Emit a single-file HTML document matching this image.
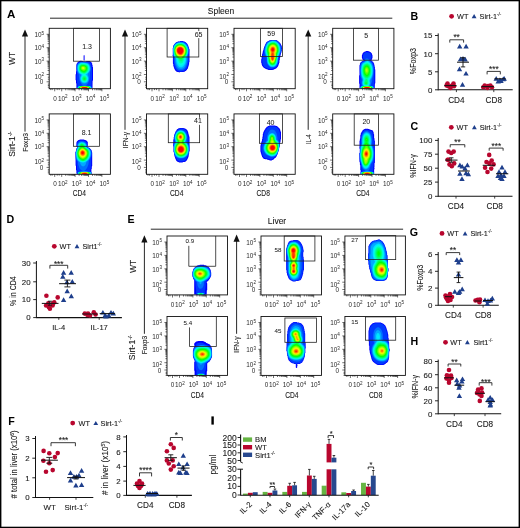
<!DOCTYPE html>
<html><head><meta charset="utf-8"><style>
html,body{margin:0;padding:0;background:#fff;}
svg{display:block;will-change:transform;}
text{font-family:"Liberation Sans",sans-serif;}
</style></head><body>
<svg width="520" height="528" viewBox="0 0 520 528">
<rect x="0" y="0" width="520" height="528" fill="#fff"/>
<text x="7.00" y="18.30" font-size="11.6" text-anchor="start" font-weight="bold" fill="#000">A</text>
<text x="221.00" y="13.50" font-size="8.5" text-anchor="middle" font-weight="normal" fill="#1a1a1a" stroke="#1a1a1a" stroke-width="0.1">Spleen</text>
<line x1="50.00" y1="18.20" x2="392.30" y2="18.20" stroke="#111" stroke-width="0.9"/>
<g><path d="M84.1,60.9 84.0,60.4 83.6,60.0 83.6,55.6 84.0,55.2 84.1,54.7 84.2,55.2 84.6,55.6 84.6,60.0 84.2,60.4 84.1,60.9ZM92.5,88.1 90.1,88.3 82.1,88.4 78.1,88.3 76.4,88.0 76.4,83.6 76.0,83.2 76.0,80.4 75.6,80.0 75.6,74.4 76.0,74.0 76.0,71.6 76.4,71.2 76.4,64.4 76.8,64.0 76.8,63.2 78.5,61.5 78.9,61.5 79.3,61.1 80.1,61.1 80.5,60.7 81.3,60.7 81.7,61.1 82.9,61.1 83.3,61.5 86.1,61.5 86.5,61.1 89.7,61.1 90.1,61.5 90.5,61.5 91.8,62.8 91.8,63.2 92.2,63.6 92.2,64.8 92.6,65.2 92.6,66.8 93.0,67.2 93.0,80.4 92.6,80.8 92.5,88.1Z" fill="#0000ff"/><path d="M91.7,88.1 89.3,88.3 82.9,88.4 78.5,88.3 77.0,88.0 77.0,87.2 77.4,86.4 77.4,83.6 77.0,82.4 76.9,80.0 76.6,79.2 76.6,75.2 76.9,74.4 77.0,73.2 76.6,72.0 76.7,71.2 76.5,68.8 76.6,66.0 76.7,64.8 77.2,63.6 78.9,62.2 80.9,61.4 82.5,61.5 83.3,61.7 86.1,61.9 86.9,61.7 88.9,62.1 90.1,62.6 90.7,63.2 91.1,64.0 91.3,65.2 91.6,66.0 91.7,67.2 92.0,68.0 92.0,79.6 91.6,80.8 91.6,86.4 92.0,87.2 92.0,88.0 91.7,88.1Z" fill="#0039ff"/><path d="M91.3,88.1 88.9,88.3 83.7,88.3 78.9,88.2 77.3,88.0 77.5,87.2 77.7,86.9 78.9,86.2 80.7,86.0 81.7,85.7 83.5,85.6 82.5,85.1 81.7,84.3 79.8,81.2 79.4,80.0 79.0,77.2 78.8,75.6 78.8,74.4 77.5,72.4 77.1,70.4 76.9,67.6 77.2,65.2 78.1,63.6 79.3,62.7 80.9,62.1 82.1,62.0 87.3,62.6 88.9,63.5 90.0,64.8 90.6,66.4 90.9,68.4 90.7,70.0 90.1,72.0 89.9,75.6 89.5,79.2 88.8,81.6 87.7,83.5 86.5,84.9 85.3,85.6 87.3,85.7 88.3,86.0 90.1,86.2 91.2,86.8 91.5,87.2 91.7,88.0 91.3,88.1Z" fill="#0071ff"/><path d="M85.7,83.3 84.5,83.5 82.9,83.2 81.7,82.5 80.9,81.6 80.2,80.0 80.0,78.4 80.2,77.2 81.0,75.2 81.0,74.8 79.7,74.0 78.5,72.8 78.1,72.0 77.6,70.4 77.4,67.6 77.7,65.2 78.5,64.0 79.6,63.2 80.9,62.6 82.1,62.5 84.5,62.7 87.3,63.2 88.1,63.6 89.0,64.4 90.0,66.4 90.3,68.4 90.0,70.4 89.3,72.0 88.0,73.6 87.9,74.0 87.8,75.2 88.5,76.8 88.8,78.0 88.6,80.0 88.1,81.2 87.6,82.0 86.7,82.8 85.7,83.3ZM91.3,88.0 89.3,88.2 84.5,88.3 79.7,88.2 77.6,88.0 77.8,87.2 78.1,86.8 79.3,86.3 84.5,85.9 89.7,86.3 90.9,86.8 91.2,87.2 91.3,88.0Z" fill="#00aaff"/><path d="M84.5,82.8 83.3,82.6 82.5,82.3 81.7,81.6 81.2,80.8 80.7,79.6 80.7,78.0 81.2,76.4 82.1,74.8 80.1,73.6 79.2,72.8 78.5,71.6 78.0,70.0 77.8,67.6 78.2,65.6 79.3,64.0 80.9,63.1 82.1,63.0 84.5,63.1 87.3,63.8 88.6,64.8 89.3,66.1 89.6,67.2 89.7,69.2 89.1,71.2 88.0,72.8 86.1,74.4 87.3,75.8 87.9,77.2 88.2,78.8 87.9,80.0 87.4,81.2 86.6,82.0 85.7,82.6 84.5,82.8ZM90.9,88.0 88.9,88.2 84.5,88.3 80.1,88.2 77.9,88.0 78.1,87.2 78.4,86.8 79.7,86.3 81.7,86.1 85.3,86.1 88.1,86.2 89.7,86.4 90.6,86.8 90.9,87.2 91.1,88.0 90.9,88.0Z" fill="#00e3ff"/><path d="M84.9,82.1 83.7,82.0 82.9,81.7 82.3,81.2 81.7,80.4 81.3,79.2 81.4,77.6 81.9,76.4 83.1,75.2 83.3,74.8 83.0,74.4 80.9,73.4 79.7,72.4 78.9,71.2 78.4,69.6 78.2,67.6 78.7,65.6 79.7,64.3 80.5,63.8 81.7,63.5 84.9,63.6 87.2,64.4 88.1,65.1 88.4,65.6 88.8,66.4 89.1,67.6 89.1,69.2 88.4,71.2 87.3,72.7 85.5,74.0 84.9,74.8 86.1,75.5 86.8,76.4 87.4,77.6 87.5,78.8 87.3,80.0 86.9,80.8 86.1,81.6 84.9,82.1ZM90.5,88.0 84.1,88.3 80.1,88.2 78.2,88.0 78.4,87.2 78.8,86.8 79.7,86.5 81.7,86.2 85.3,86.1 88.1,86.3 89.7,86.6 90.2,86.8 90.6,87.2 90.8,88.0 90.5,88.0Z" fill="#00ffe3"/><path d="M84.9,73.6 84.1,73.8 83.3,73.7 81.3,73.0 80.1,72.0 79.1,70.4 78.7,68.4 78.9,66.5 79.3,65.6 79.7,65.0 80.9,64.2 81.7,64.0 83.3,63.9 85.3,64.2 86.5,64.7 87.3,65.2 87.8,65.6 88.2,66.4 88.6,68.4 88.5,69.2 88.2,70.4 87.7,71.3 86.9,72.3 86.1,72.9 84.9,73.6ZM85.3,81.2 84.1,81.4 83.3,81.1 82.5,80.4 82.0,79.2 82.0,78.0 82.5,76.9 83.3,76.1 84.1,75.7 84.9,75.8 85.7,76.2 86.5,77.2 86.8,78.0 86.8,79.2 86.6,80.0 86.1,80.7 85.3,81.2ZM90.1,88.1 84.1,88.3 78.5,88.0 78.7,87.2 79.2,86.8 80.1,86.5 82.1,86.3 85.3,86.2 88.1,86.4 89.7,86.7 90.3,87.2 90.5,87.6 90.5,88.0 90.1,88.1Z" fill="#00ffaa"/><path d="M84.1,73.2 82.5,72.8 81.0,72.0 79.9,70.8 79.3,69.6 79.1,68.0 79.4,66.4 80.2,65.2 81.3,64.6 83.3,64.4 85.3,64.7 86.9,65.6 87.8,66.8 88.0,68.8 87.7,70.0 87.3,70.8 86.7,71.6 85.9,72.4 84.5,73.2 84.1,73.2ZM85.3,80.5 84.5,80.7 83.7,80.6 83.3,80.3 82.8,79.6 82.6,78.8 82.7,78.0 83.2,77.2 83.7,76.8 84.1,76.7 84.9,76.7 85.6,77.2 86.1,78.0 86.2,78.8 86.1,79.4 85.8,80.0 85.3,80.5ZM90.1,88.0 84.5,88.3 78.8,88.0 79.0,87.2 79.5,86.8 80.1,86.6 81.7,86.4 84.9,86.3 87.7,86.4 89.3,86.7 90.0,87.2 90.2,87.6 90.1,88.0Z" fill="#00ff71"/><path d="M84.5,72.5 83.3,72.4 81.7,71.8 80.9,71.2 80.0,70.0 79.6,68.8 79.7,67.2 80.2,66.0 81.1,65.2 82.5,64.9 84.5,65.0 86.1,65.7 87.1,66.8 87.5,68.4 87.1,70.0 86.1,71.4 84.5,72.5ZM84.5,80.0 83.7,79.8 83.3,79.2 83.3,78.8 83.7,77.9 84.5,77.6 85.2,78.0 85.5,78.8 85.3,79.6 84.5,80.0ZM89.7,88.0 84.5,88.3 79.1,88.0 79.3,87.2 80.1,86.7 82.1,86.4 84.9,86.4 87.3,86.5 89.1,86.8 89.7,87.2 89.9,88.0 89.7,88.0Z" fill="#00ff39"/><path d="M84.5,71.7 83.3,71.8 82.1,71.3 81.3,70.8 80.5,69.8 80.1,68.8 80.1,67.6 80.6,66.4 81.3,65.7 82.9,65.3 84.5,65.5 85.7,66.1 86.7,67.2 86.9,68.4 86.5,69.8 85.7,70.9 84.5,71.7ZM84.5,79.3 84.1,79.2 84.0,78.8 84.5,78.6 84.7,78.8 84.5,79.3ZM89.3,88.0 84.5,88.2 79.4,88.0 79.6,87.2 80.4,86.8 82.1,86.5 84.9,86.5 87.3,86.6 88.6,86.8 89.4,87.2 89.6,88.0 89.3,88.0Z" fill="#00ff00"/><path d="M84.5,71.0 83.7,71.1 82.5,70.8 81.7,70.3 80.9,69.4 80.6,68.4 80.6,67.6 81.0,66.8 81.7,66.1 82.9,65.8 84.1,65.9 85.2,66.4 86.0,67.2 86.2,68.0 86.1,69.2 85.3,70.4 84.5,71.0ZM88.9,88.0 84.5,88.2 79.7,88.0 79.9,87.2 80.8,86.8 82.5,86.6 84.9,86.6 87.3,86.7 88.5,86.9 89.1,87.2 89.3,87.6 89.3,88.0 88.9,88.0Z" fill="#39ff00"/><path d="M84.5,70.2 83.7,70.4 82.9,70.3 81.7,69.6 81.2,68.8 81.1,68.0 81.3,67.2 81.7,66.7 82.5,66.4 83.7,66.3 84.5,66.6 85.2,67.2 85.6,68.0 85.5,68.8 85.1,69.6 84.5,70.2ZM88.9,88.0 84.5,88.2 80.0,88.0 80.0,87.6 80.3,87.2 81.3,86.8 84.9,86.6 86.9,86.7 88.1,86.9 88.7,87.2 89.0,87.6 88.9,88.0Z" fill="#71ff00"/><path d="M83.7,69.6 82.5,69.4 81.9,68.8 81.7,68.0 82.1,67.1 82.9,66.8 83.7,66.9 84.3,67.2 84.7,67.6 84.8,68.0 84.8,68.8 84.5,69.2 83.7,69.6ZM88.5,88.0 84.5,88.2 80.3,88.0 80.3,87.6 80.6,87.2 81.3,86.9 82.5,86.8 84.9,86.7 86.9,86.8 88.1,87.1 88.7,87.6 88.7,88.0 88.5,88.0Z" fill="#aaff00"/><path d="M83.7,68.8 82.9,68.9 82.5,68.6 82.2,68.0 82.4,67.6 82.9,67.3 83.3,67.3 83.8,67.6 84.1,68.0 84.1,68.4 83.7,68.8ZM88.1,88.0 84.5,88.2 80.6,88.0 80.6,87.6 81.0,87.2 81.3,87.1 82.5,86.9 84.9,86.8 86.9,86.9 88.0,87.2 88.4,87.6 88.4,88.0 88.1,88.0Z" fill="#e3ff00"/><path d="M82.9,68.1 82.9,67.9 83.1,68.0 82.9,68.1ZM88.1,88.0 84.5,88.2 80.9,88.0 80.9,87.6 81.3,87.2 82.5,87.0 84.5,86.9 86.5,87.0 87.7,87.2 88.1,87.6 88.1,88.0Z" fill="#ffe300"/><path d="M87.7,88.0 84.5,88.2 81.2,88.0 81.2,87.6 81.8,87.2 84.5,87.0 87.2,87.2 87.8,87.6 87.8,88.0 87.7,88.0Z" fill="#ffaa00"/><path d="M87.3,88.0 84.5,88.1 81.5,88.0 81.5,87.6 82.2,87.2 84.9,87.1 86.9,87.2 87.5,87.6 87.5,88.0 87.3,88.0Z" fill="#ff7100"/><path d="M86.9,88.0 84.5,88.1 81.8,88.0 81.8,87.6 82.5,87.3 84.9,87.1 86.2,87.2 86.9,87.4 87.2,87.6 87.2,88.0 86.9,88.0Z" fill="#ff3900"/><path d="M86.9,88.0 84.5,88.1 82.1,88.0 82.1,87.6 82.5,87.4 84.5,87.2 86.5,87.4 86.9,87.6 86.9,88.0Z" fill="#ff0000"/></g>
<rect x="49.20" y="28.30" width="61.20" height="60.40" fill="none" stroke="#111" stroke-width="0.9"/>
<path d="M47.60,70.47H49.20M47.60,68.11H49.20M47.60,66.43H49.20M47.60,65.13H49.20M47.60,64.07H49.20M47.60,63.18H49.20M47.60,62.40H49.20M47.60,61.71H49.20M47.60,57.07H49.20M47.60,54.71H49.20M47.60,53.03H49.20M47.60,51.73H49.20M47.60,50.67H49.20M47.60,49.78H49.20M47.60,49.00H49.20M47.60,48.31H49.20M47.60,43.67H49.20M47.60,41.31H49.20M47.60,39.63H49.20M47.60,38.33H49.20M47.60,37.27H49.20M47.60,36.38H49.20M47.60,35.60H49.20M47.60,34.91H49.20M46.60,81.80H49.20M46.60,74.50H49.20M46.60,61.10H49.20M46.60,47.70H49.20M46.60,34.30H49.20M47.80,87.20H49.20M47.80,85.50H49.20M47.80,84.10H49.20M47.80,79.20H49.20M47.80,77.20H49.20M65.73,88.70V90.30M68.09,88.70V90.30M69.77,88.70V90.30M71.07,88.70V90.30M72.13,88.70V90.30M73.02,88.70V90.30M73.80,88.70V90.30M74.49,88.70V90.30M79.13,88.70V90.30M81.49,88.70V90.30M83.17,88.70V90.30M84.47,88.70V90.30M85.53,88.70V90.30M86.42,88.70V90.30M87.20,88.70V90.30M87.89,88.70V90.30M92.53,88.70V90.30M94.89,88.70V90.30M96.57,88.70V90.30M97.87,88.70V90.30M98.93,88.70V90.30M99.82,88.70V90.30M100.60,88.70V90.30M101.29,88.70V90.30M54.70,88.70V91.30M61.70,88.70V91.30M75.10,88.70V91.30M88.50,88.70V91.30M101.90,88.70V91.30M50.70,88.70V90.10M52.20,88.70V90.10M57.20,88.70V90.10M59.20,88.70V90.10" stroke="#111" stroke-width="0.6" fill="none"/>
<text x="44.20" y="37.00" font-size="6.4" text-anchor="end" font-weight="normal" fill="#2a2a2a">10<tspan dy="-2.43" font-size="4.61">5</tspan></text>
<text x="44.20" y="50.40" font-size="6.4" text-anchor="end" font-weight="normal" fill="#2a2a2a">10<tspan dy="-2.43" font-size="4.61">4</tspan></text>
<text x="44.20" y="63.80" font-size="6.4" text-anchor="end" font-weight="normal" fill="#2a2a2a">10<tspan dy="-2.43" font-size="4.61">3</tspan></text>
<text x="44.20" y="78.80" font-size="6.4" text-anchor="end" font-weight="normal" fill="#2a2a2a">10<tspan dy="-2.43" font-size="4.61">2</tspan></text>
<text x="43.40" y="84.40" font-size="6.4" text-anchor="end" font-weight="normal" fill="#2a2a2a">0</text>
<text x="55.10" y="100.70" font-size="6.4" text-anchor="middle" font-weight="normal" fill="#2a2a2a">0</text>
<text x="62.80" y="100.70" font-size="6.4" text-anchor="middle" font-weight="normal" fill="#2a2a2a">10<tspan dy="-2.43" font-size="4.61">2</tspan></text>
<text x="76.70" y="100.70" font-size="6.4" text-anchor="middle" font-weight="normal" fill="#2a2a2a">10<tspan dy="-2.43" font-size="4.61">3</tspan></text>
<text x="90.50" y="100.70" font-size="6.4" text-anchor="middle" font-weight="normal" fill="#2a2a2a">10<tspan dy="-2.43" font-size="4.61">4</tspan></text>
<text x="104.40" y="100.70" font-size="6.4" text-anchor="middle" font-weight="normal" fill="#2a2a2a">10<tspan dy="-2.43" font-size="4.61">5</tspan></text>
<rect x="73.50" y="28.30" width="25.90" height="32.90" fill="none" stroke="#222" stroke-width="0.8"/>
<text x="87.00" y="49.00" font-size="7" text-anchor="middle" font-weight="normal" fill="#1a1a1a" stroke="#1a1a1a" stroke-width="0.04">1.3</text>
<g><path d="M179.4,72.5 179.0,72.5 178.6,72.1 177.4,72.1 177.0,71.7 176.6,71.7 174.9,70.0 174.9,69.6 174.5,69.2 174.5,68.8 174.1,68.4 174.1,67.6 173.7,67.2 173.7,66.4 173.3,66.0 173.3,64.0 172.9,63.6 172.9,56.0 172.5,55.6 172.5,55.2 172.8,54.8 172.8,48.0 173.2,47.6 173.2,46.0 173.6,45.6 173.6,45.2 174.0,44.8 174.0,44.4 176.2,42.3 176.6,42.3 177.0,41.9 177.4,41.9 177.8,41.5 179.8,41.5 180.2,41.1 183.0,41.1 183.4,41.5 184.6,41.5 185.0,41.9 185.4,41.9 187.5,44.0 187.5,44.4 187.9,44.8 187.9,45.2 188.3,45.6 188.3,46.4 188.7,46.8 188.7,47.6 189.1,48.0 189.1,48.8 189.5,49.2 189.5,62.0 189.1,62.4 189.1,64.4 188.7,64.8 188.7,66.0 188.3,66.4 188.3,67.2 187.9,67.6 187.9,68.4 187.1,69.2 187.1,69.6 185.8,70.9 185.4,70.9 184.6,71.7 183.8,71.7 183.4,72.1 179.8,72.1 179.4,72.5Z" fill="#0000ff"/><path d="M183.0,71.2 181.8,71.4 179.4,71.4 178.2,71.1 177.0,70.6 176.0,69.6 175.2,68.0 174.3,65.6 174.1,64.0 173.7,62.8 173.5,57.2 172.8,55.2 173.0,54.8 172.9,48.0 173.3,47.6 173.3,46.0 173.7,45.6 173.8,45.2 174.2,44.8 174.2,44.4 176.2,42.6 178.2,41.8 179.8,41.7 180.6,41.5 182.6,41.6 184.2,42.1 185.4,42.8 186.8,44.0 187.6,45.2 188.5,47.2 189.2,49.6 189.1,52.0 188.6,54.4 188.7,61.2 187.7,65.6 186.8,68.0 186.0,69.2 184.2,70.7 183.0,71.2Z" fill="#0039ff"/><path d="M182.6,70.0 180.6,70.2 178.6,69.9 177.6,69.2 176.6,67.9 175.3,65.2 174.7,62.8 174.3,57.6 173.4,55.2 173.1,52.4 173.0,49.2 173.1,48.0 173.4,47.6 173.5,46.4 174.6,44.5 175.4,43.8 176.6,42.9 178.2,42.2 180.6,42.0 182.2,42.1 183.8,42.6 185.0,43.2 186.4,44.4 187.5,46.0 188.0,47.2 188.7,49.6 188.5,52.4 187.8,55.6 187.8,60.4 187.2,63.6 186.2,66.4 185.0,68.4 183.8,69.4 182.6,70.0Z" fill="#0071ff"/><path d="M181.8,68.8 180.2,68.8 178.6,68.3 177.6,67.2 176.6,65.5 175.6,62.4 175.2,58.0 174.4,56.8 173.7,55.2 173.3,50.8 173.3,48.4 173.7,47.6 173.8,46.4 175.0,44.6 176.6,43.3 177.4,43.0 178.6,42.6 181.0,42.4 182.2,42.5 183.8,43.0 184.8,43.6 186.2,44.8 187.0,46.0 187.5,47.2 188.3,50.0 187.9,53.6 186.9,56.4 186.8,60.4 186.3,63.2 185.7,64.8 184.6,66.9 183.8,67.8 183.0,68.4 181.8,68.8Z" fill="#00aaff"/><path d="M181.8,67.2 180.6,67.3 179.4,66.9 178.6,66.3 177.5,64.8 176.5,62.0 176.1,58.4 175.1,57.2 174.4,56.0 174.1,55.2 173.7,53.2 173.5,48.8 174.1,46.4 175.2,44.8 176.2,44.0 177.0,43.5 178.6,42.9 181.0,42.8 181.8,42.9 183.8,43.5 184.6,43.9 185.8,45.0 186.8,46.4 187.3,47.6 187.9,50.0 187.6,53.2 187.0,55.2 186.0,57.2 185.9,60.4 185.2,63.2 184.6,64.5 183.8,65.8 183.0,66.6 181.8,67.2Z" fill="#00e3ff"/><path d="M181.8,65.4 181.0,65.5 180.2,65.4 179.4,64.9 178.6,64.0 177.6,62.0 177.2,60.4 177.0,58.8 175.8,57.5 175.0,56.4 174.4,55.2 174.0,53.2 173.8,50.8 173.8,48.8 174.5,46.4 175.4,45.1 176.2,44.4 177.0,43.9 178.6,43.3 181.8,43.3 183.4,43.8 184.5,44.4 185.5,45.2 186.3,46.4 186.9,47.6 187.5,50.0 187.5,51.6 187.2,53.6 186.5,55.6 185.2,57.6 184.9,60.4 184.3,62.4 183.1,64.4 181.8,65.4Z" fill="#00ffe3"/><path d="M181.0,63.6 180.2,63.4 179.4,62.7 178.5,61.2 177.9,58.8 176.6,57.8 175.4,56.4 174.5,54.4 174.1,52.0 174.0,48.8 174.6,46.8 175.7,45.2 176.2,44.8 177.4,44.1 179.0,43.6 181.8,43.6 183.4,44.2 184.6,45.0 185.6,46.0 186.4,47.6 187.2,50.4 187.1,52.4 186.6,54.4 185.6,56.4 184.2,58.0 183.8,60.3 183.3,61.6 182.9,62.4 182.2,63.1 181.0,63.6Z" fill="#00ffaa"/><path d="M181.0,61.6 180.2,61.3 179.8,60.9 179.1,59.2 177.0,57.7 175.8,56.3 174.8,54.4 174.3,52.0 174.3,48.8 174.9,46.8 175.8,45.6 176.6,45.0 177.4,44.5 179.0,44.0 181.8,44.0 183.4,44.6 184.3,45.2 185.4,46.4 186.1,47.6 186.7,49.2 186.9,50.4 186.7,52.8 185.9,55.2 184.6,57.1 183.2,58.4 182.7,60.0 182.2,60.9 181.8,61.3 181.0,61.6Z" fill="#00ff71"/><path d="M181.0,59.7 177.8,57.8 176.3,56.4 175.2,54.4 174.6,52.0 174.6,48.8 175.3,46.8 176.2,45.7 176.9,45.2 177.8,44.7 179.0,44.4 181.8,44.4 183.4,45.0 184.2,45.6 185.0,46.4 185.8,47.8 186.3,49.2 186.6,50.4 186.5,52.0 186.3,53.2 185.2,55.6 183.8,57.4 181.9,58.8 181.4,59.5 181.0,59.7Z" fill="#00ff39"/><path d="M181.8,58.4 181.0,58.7 180.2,58.6 178.6,57.8 177.4,57.0 175.9,55.2 175.0,52.8 174.8,51.2 174.8,49.2 175.5,47.2 176.0,46.4 176.9,45.6 177.8,45.1 179.0,44.7 181.4,44.6 183.4,45.4 184.2,46.0 185.0,47.0 185.6,48.0 186.1,49.6 186.2,50.8 186.2,52.0 185.9,53.2 185.4,54.6 184.8,55.6 183.8,56.8 181.8,58.4Z" fill="#00ff00"/><path d="M181.4,58.2 181.0,58.3 179.8,58.0 178.6,57.4 177.4,56.5 176.0,54.8 175.5,53.6 175.2,52.4 175.0,50.9 175.0,49.6 175.2,48.8 175.9,47.2 177.0,45.9 177.8,45.4 179.0,45.0 181.4,45.0 183.4,45.8 184.2,46.5 185.0,47.6 185.5,48.8 185.8,50.0 185.9,51.2 185.8,52.4 185.0,54.6 184.4,55.6 183.4,56.7 181.4,58.2Z" fill="#39ff00"/><path d="M181.4,57.7 181.0,58.0 179.8,57.5 178.6,56.9 177.4,56.0 176.2,54.4 175.4,52.1 175.3,50.8 175.4,49.2 176.2,47.2 177.4,46.0 179.0,45.3 181.4,45.3 183.1,46.0 184.0,46.8 184.6,47.6 185.4,49.6 185.6,51.6 185.3,52.8 184.9,54.0 184.2,55.2 183.4,56.2 181.4,57.7Z" fill="#71ff00"/><path d="M181.4,57.2 181.0,57.4 180.2,57.2 179.0,56.7 177.8,55.8 177.0,55.0 176.4,54.0 175.7,52.0 175.6,49.6 176.3,47.6 177.4,46.4 179.0,45.7 180.2,45.6 181.4,45.7 183.0,46.3 184.2,47.6 185.1,49.6 185.2,51.6 184.6,53.7 183.4,55.6 181.4,57.2Z" fill="#aaff00"/><path d="M181.0,56.8 180.2,56.7 179.4,56.4 177.7,55.2 176.5,53.6 175.9,51.6 175.8,50.4 175.9,49.2 176.7,47.6 177.8,46.5 179.4,45.9 181.4,46.0 183.0,46.7 184.2,48.2 184.8,50.0 184.8,52.0 184.1,54.0 182.6,55.8 181.8,56.4 181.0,56.8Z" fill="#e3ff00"/><path d="M181.4,56.1 181.0,56.2 180.2,56.2 179.0,55.6 178.2,55.1 176.9,53.6 176.2,51.6 176.1,49.6 176.8,48.0 177.8,46.9 179.4,46.2 181.4,46.4 182.6,46.9 183.8,48.2 184.5,50.0 184.5,51.6 183.8,53.6 182.6,55.2 181.4,56.1Z" fill="#ffe300"/><path d="M181.0,55.6 179.8,55.5 178.2,54.5 177.1,53.2 176.5,51.6 176.4,49.6 177.0,48.3 177.9,47.2 179.4,46.6 181.0,46.6 182.4,47.2 183.5,48.4 184.1,50.0 184.1,51.6 183.4,53.6 182.2,55.0 181.0,55.6Z" fill="#ffaa00"/><path d="M181.4,54.9 180.2,55.1 179.0,54.6 177.8,53.6 176.9,52.0 176.7,50.4 176.9,49.2 177.8,47.7 179.0,47.0 180.2,46.9 181.8,47.2 183.0,48.3 183.7,49.6 183.8,51.2 183.4,52.7 182.6,54.0 181.4,54.9Z" fill="#ff7100"/><path d="M181.0,54.5 179.8,54.4 178.6,53.8 177.7,52.8 177.0,51.2 177.0,50.0 177.4,48.8 178.2,47.8 179.4,47.3 180.6,47.2 181.8,47.6 182.9,48.8 183.4,50.0 183.4,51.2 183.0,52.6 182.2,53.7 181.0,54.5Z" fill="#ff3900"/><path d="M181.4,53.7 180.6,54.0 179.4,53.7 178.2,52.8 177.5,51.6 177.3,50.4 177.4,49.5 178.1,48.4 179.0,47.7 180.2,47.5 181.4,47.8 182.2,48.4 182.9,49.6 183.1,50.8 182.8,52.0 182.2,53.0 181.4,53.7Z" fill="#ff0000"/></g>
<rect x="146.50" y="28.30" width="61.20" height="60.40" fill="none" stroke="#111" stroke-width="0.9"/>
<path d="M144.90,70.47H146.50M144.90,68.11H146.50M144.90,66.43H146.50M144.90,65.13H146.50M144.90,64.07H146.50M144.90,63.18H146.50M144.90,62.40H146.50M144.90,61.71H146.50M144.90,57.07H146.50M144.90,54.71H146.50M144.90,53.03H146.50M144.90,51.73H146.50M144.90,50.67H146.50M144.90,49.78H146.50M144.90,49.00H146.50M144.90,48.31H146.50M144.90,43.67H146.50M144.90,41.31H146.50M144.90,39.63H146.50M144.90,38.33H146.50M144.90,37.27H146.50M144.90,36.38H146.50M144.90,35.60H146.50M144.90,34.91H146.50M143.90,81.80H146.50M143.90,74.50H146.50M143.90,61.10H146.50M143.90,47.70H146.50M143.90,34.30H146.50M145.10,87.20H146.50M145.10,85.50H146.50M145.10,84.10H146.50M145.10,79.20H146.50M145.10,77.20H146.50M163.03,88.70V90.30M165.39,88.70V90.30M167.07,88.70V90.30M168.37,88.70V90.30M169.43,88.70V90.30M170.32,88.70V90.30M171.10,88.70V90.30M171.79,88.70V90.30M176.43,88.70V90.30M178.79,88.70V90.30M180.47,88.70V90.30M181.77,88.70V90.30M182.83,88.70V90.30M183.72,88.70V90.30M184.50,88.70V90.30M185.19,88.70V90.30M189.83,88.70V90.30M192.19,88.70V90.30M193.87,88.70V90.30M195.17,88.70V90.30M196.23,88.70V90.30M197.12,88.70V90.30M197.90,88.70V90.30M198.59,88.70V90.30M152.00,88.70V91.30M159.00,88.70V91.30M172.40,88.70V91.30M185.80,88.70V91.30M199.20,88.70V91.30M148.00,88.70V90.10M149.50,88.70V90.10M154.50,88.70V90.10M156.50,88.70V90.10" stroke="#111" stroke-width="0.6" fill="none"/>
<text x="141.50" y="37.00" font-size="6.4" text-anchor="end" font-weight="normal" fill="#2a2a2a">10<tspan dy="-2.43" font-size="4.61">5</tspan></text>
<text x="141.50" y="50.40" font-size="6.4" text-anchor="end" font-weight="normal" fill="#2a2a2a">10<tspan dy="-2.43" font-size="4.61">4</tspan></text>
<text x="141.50" y="63.80" font-size="6.4" text-anchor="end" font-weight="normal" fill="#2a2a2a">10<tspan dy="-2.43" font-size="4.61">3</tspan></text>
<text x="141.50" y="78.80" font-size="6.4" text-anchor="end" font-weight="normal" fill="#2a2a2a">10<tspan dy="-2.43" font-size="4.61">2</tspan></text>
<text x="140.70" y="84.40" font-size="6.4" text-anchor="end" font-weight="normal" fill="#2a2a2a">0</text>
<text x="152.40" y="100.70" font-size="6.4" text-anchor="middle" font-weight="normal" fill="#2a2a2a">0</text>
<text x="160.10" y="100.70" font-size="6.4" text-anchor="middle" font-weight="normal" fill="#2a2a2a">10<tspan dy="-2.43" font-size="4.61">2</tspan></text>
<text x="174.00" y="100.70" font-size="6.4" text-anchor="middle" font-weight="normal" fill="#2a2a2a">10<tspan dy="-2.43" font-size="4.61">3</tspan></text>
<text x="187.80" y="100.70" font-size="6.4" text-anchor="middle" font-weight="normal" fill="#2a2a2a">10<tspan dy="-2.43" font-size="4.61">4</tspan></text>
<text x="201.70" y="100.70" font-size="6.4" text-anchor="middle" font-weight="normal" fill="#2a2a2a">10<tspan dy="-2.43" font-size="4.61">5</tspan></text>
<rect x="167.10" y="28.30" width="31.70" height="28.70" fill="none" stroke="#222" stroke-width="0.8"/>
<rect x="194.10" y="31.10" width="9" height="7" fill="#fff"/>
<text x="198.60" y="36.60" font-size="7" text-anchor="middle" font-weight="normal" fill="#1a1a1a" stroke="#1a1a1a" stroke-width="0.04">65</text>
<g><path d="M272.5,70.1 268.5,70.1 268.1,69.7 267.7,69.7 267.3,69.3 266.5,69.3 266.1,68.9 265.7,68.9 265.3,68.5 264.9,68.5 264.5,68.1 264.1,68.1 262.8,66.8 262.8,66.4 262.0,65.6 262.0,64.8 261.6,64.4 261.6,63.2 261.2,62.8 261.2,59.2 261.6,58.8 261.6,56.4 262.0,56.0 262.0,54.4 262.4,54.0 262.4,52.8 262.8,52.4 262.8,51.2 263.2,50.8 263.2,50.0 263.6,49.6 263.6,48.4 264.0,48.0 264.0,47.2 264.4,46.8 264.4,46.4 264.8,46.0 264.8,45.2 265.2,44.8 265.2,44.4 265.6,44.0 265.6,43.6 266.0,43.2 266.0,42.8 267.3,41.5 267.7,41.5 268.1,41.1 268.5,41.1 268.9,40.7 269.3,40.7 269.7,40.3 270.9,40.2 271.3,39.9 276.1,39.9 276.5,40.3 276.9,40.3 277.3,40.7 277.7,40.7 278.9,41.9 279.3,41.9 279.4,42.4 280.6,43.6 280.6,44.0 281.0,44.4 281.0,44.8 281.4,45.2 281.4,45.6 281.8,46.0 281.8,47.6 282.2,48.0 282.2,48.8 281.8,49.2 281.8,51.2 281.4,51.6 281.4,52.8 281.0,53.2 281.0,54.0 280.6,54.4 280.6,55.6 280.2,56.0 280.2,57.6 279.8,58.0 279.8,60.0 279.4,60.4 279.4,62.8 279.0,63.2 279.0,64.0 278.6,64.4 278.6,65.2 278.2,65.6 278.2,66.0 277.8,66.4 277.8,66.8 276.1,68.5 275.7,68.5 275.3,68.9 274.9,68.9 274.5,69.3 274.1,69.3 273.7,69.7 272.9,69.7 272.5,70.1Z" fill="#0000ff"/><path d="M272.5,68.8 271.7,69.1 269.3,69.1 267.7,68.4 266.9,68.2 264.5,67.0 263.9,66.4 263.5,65.6 263.1,65.2 262.7,64.0 262.5,62.8 262.2,62.0 262.2,60.0 262.6,58.8 262.6,57.2 262.9,56.4 263.0,55.2 263.7,52.8 264.1,48.8 264.4,47.6 265.1,45.6 266.5,42.9 267.3,42.0 269.7,40.5 270.9,40.4 271.3,40.1 271.7,40.0 275.7,40.1 277.6,41.2 278.9,42.3 280.1,44.0 281.2,46.4 281.5,48.4 281.4,49.2 281.3,50.8 281.1,51.6 281.0,52.4 280.2,54.4 280.1,55.2 279.0,57.6 278.4,62.4 277.6,64.8 276.7,66.4 275.7,67.4 273.3,68.6 272.5,68.8Z" fill="#0039ff"/><path d="M272.9,67.6 271.3,67.6 270.1,67.1 268.8,66.0 267.9,64.8 267.1,63.2 266.7,61.6 266.6,57.6 265.1,54.4 264.5,52.0 264.7,49.2 265.0,47.6 265.6,45.6 266.8,43.2 267.7,42.3 269.3,41.3 270.1,40.9 272.1,40.4 275.3,40.6 277.3,41.6 278.6,42.8 279.5,44.0 280.6,46.4 280.9,48.4 280.8,50.4 280.4,52.4 279.6,54.8 278.2,58.0 278.0,62.0 277.1,64.4 276.1,65.9 275.3,66.7 274.1,67.3 272.9,67.6Z" fill="#0071ff"/><path d="M273.7,66.9 272.1,67.1 270.5,66.7 269.3,65.8 268.2,64.4 267.6,63.2 267.2,61.6 267.0,60.0 267.1,58.0 267.0,57.2 265.6,54.4 265.1,52.0 265.1,49.2 265.3,48.0 266.1,45.6 267.3,43.4 268.1,42.6 270.1,41.4 272.1,40.8 275.3,41.0 277.3,42.2 279.2,44.4 280.2,46.8 280.4,48.4 280.4,50.4 280.1,52.0 279.1,54.8 278.1,57.0 277.8,58.8 277.6,61.6 277.2,63.2 276.6,64.4 275.7,65.7 274.9,66.3 273.7,66.9Z" fill="#00aaff"/><path d="M273.7,66.4 272.5,66.6 270.9,66.4 269.7,65.6 268.4,64.0 267.9,62.8 267.5,61.2 267.5,58.4 267.2,56.8 266.0,54.0 265.5,51.2 265.6,49.2 265.8,48.0 266.4,46.0 267.7,43.6 268.1,43.1 269.7,42.1 270.5,41.7 272.1,41.3 273.7,41.3 275.3,41.5 276.9,42.4 278.0,43.6 278.9,44.8 279.7,46.8 280.0,48.4 279.9,50.4 279.6,52.0 278.0,56.4 277.5,58.8 277.2,61.6 276.9,62.8 276.3,64.0 275.5,65.2 274.6,66.0 273.7,66.4Z" fill="#00e3ff"/><path d="M273.3,66.0 271.7,66.1 270.5,65.6 269.3,64.5 268.5,63.3 267.9,61.2 267.8,58.8 267.4,56.0 266.4,53.6 266.0,51.2 266.0,49.6 266.2,48.0 266.9,46.0 267.9,44.0 268.9,43.1 270.5,42.1 272.5,41.6 274.9,41.9 276.0,42.4 276.9,43.1 278.1,44.4 278.8,45.6 279.3,47.0 279.5,48.4 279.5,50.0 279.2,52.0 278.4,54.4 277.7,55.8 277.1,59.2 276.9,61.6 276.5,62.8 275.9,64.0 274.9,65.2 274.1,65.7 273.3,66.0Z" fill="#00ffe3"/><path d="M272.9,65.6 271.7,65.6 270.5,65.1 269.4,64.0 268.7,62.8 268.3,61.2 268.2,58.8 267.7,55.6 266.7,53.2 266.4,51.2 266.4,49.6 266.7,48.0 267.3,46.0 268.2,44.4 268.9,43.6 270.1,42.8 272.5,42.1 274.9,42.3 276.5,43.3 277.7,44.6 278.3,45.6 278.9,47.2 279.1,48.4 279.1,50.0 278.9,51.6 278.4,53.2 277.5,55.2 276.7,59.6 276.5,61.6 276.2,62.4 275.7,63.6 274.9,64.6 274.1,65.2 272.9,65.6Z" fill="#00ffaa"/><path d="M273.7,64.9 272.5,65.2 271.3,65.0 270.1,64.1 269.2,62.8 268.6,61.2 268.5,59.2 268.1,57.2 267.8,54.8 267.1,52.8 266.8,51.2 266.8,49.6 267.1,48.0 267.6,46.4 268.4,44.8 268.9,44.2 270.2,43.2 270.9,42.9 272.5,42.5 273.7,42.5 274.9,42.8 276.2,43.6 277.0,44.4 277.8,45.6 278.4,47.2 278.7,48.4 278.7,50.0 278.5,51.6 278.1,52.8 277.3,54.8 277.0,56.8 276.4,59.6 276.1,61.6 275.2,63.6 274.5,64.4 273.7,64.9Z" fill="#00ff71"/><path d="M273.7,64.4 272.5,64.7 271.3,64.5 270.2,63.6 269.4,62.4 269.0,61.2 268.9,59.6 268.4,57.2 268.2,54.4 267.5,52.8 267.2,50.8 267.2,49.6 267.5,48.0 268.0,46.4 268.6,45.2 269.3,44.4 270.4,43.6 272.5,42.9 273.7,43.0 274.9,43.3 276.4,44.4 277.3,45.6 277.7,46.4 278.1,47.6 278.3,48.8 278.3,50.0 278.1,51.6 277.0,54.4 276.8,56.8 276.1,59.6 275.8,61.6 274.9,63.4 273.7,64.4Z" fill="#00ff39"/><path d="M273.3,64.1 272.1,64.2 271.3,63.9 270.4,63.2 269.7,62.0 268.6,57.2 268.5,54.0 267.8,52.0 267.6,50.0 267.8,48.4 268.1,47.2 268.6,46.0 269.3,45.0 270.9,43.8 272.9,43.4 274.1,43.5 274.9,43.8 275.7,44.4 276.5,45.2 277.6,47.2 277.9,49.6 277.6,51.6 276.7,54.0 276.4,57.2 275.6,60.0 275.4,61.6 274.5,63.2 273.3,64.1Z" fill="#00ff00"/><path d="M272.9,63.7 272.1,63.7 271.3,63.4 270.5,62.6 270.0,61.6 269.0,57.6 268.8,56.0 268.9,53.6 268.3,52.0 268.0,50.0 268.1,48.8 268.6,47.2 268.9,46.4 269.7,45.2 271.3,44.2 272.9,43.8 274.5,44.2 275.3,44.6 276.1,45.4 276.7,46.4 277.2,47.6 277.5,49.6 277.2,51.6 276.4,53.6 276.1,57.2 275.8,58.8 275.3,60.0 275.1,61.2 274.6,62.4 274.1,63.0 272.9,63.7Z" fill="#39ff00"/><path d="M272.9,63.2 272.1,63.2 271.3,62.8 270.6,62.0 270.2,61.2 270.0,60.0 269.3,57.6 269.1,55.6 269.2,53.2 268.6,51.6 268.4,50.0 268.7,48.0 269.2,46.8 269.7,45.9 270.1,45.5 271.0,44.8 272.1,44.4 272.9,44.3 274.5,44.7 275.3,45.3 276.0,46.0 276.8,47.6 277.1,49.6 276.9,51.2 276.0,53.6 276.0,56.0 275.5,58.8 274.4,62.0 273.7,62.8 272.9,63.2Z" fill="#71ff00"/><path d="M273.3,62.5 272.5,62.7 271.7,62.5 271.1,62.0 270.6,61.2 269.6,57.6 269.4,55.6 269.6,53.2 269.1,51.6 268.9,50.0 269.2,48.0 270.1,46.2 271.3,45.2 272.9,44.8 274.5,45.3 275.7,46.4 276.5,48.0 276.7,49.6 276.5,51.2 275.6,53.2 275.7,56.0 275.3,58.4 274.2,61.6 273.3,62.5Z" fill="#aaff00"/><path d="M272.9,62.2 272.1,62.2 271.3,61.6 270.2,58.8 269.8,56.0 270.0,52.8 269.4,51.2 269.3,50.0 269.6,48.0 270.5,46.4 271.7,45.6 272.9,45.3 274.1,45.6 275.3,46.6 276.0,48.0 276.2,49.6 276.0,51.2 275.3,52.8 275.4,56.0 275.0,58.4 274.0,61.2 273.3,62.0 272.9,62.2Z" fill="#e3ff00"/><path d="M272.9,61.7 272.1,61.6 271.7,61.3 270.5,58.8 270.1,56.0 270.4,52.4 269.9,51.2 269.7,50.0 269.9,48.4 270.5,47.2 270.9,46.7 271.7,46.1 272.9,45.9 274.1,46.2 274.9,46.9 275.5,48.0 275.8,49.6 275.6,51.2 274.9,52.8 275.0,56.0 274.7,58.4 273.7,60.8 273.3,61.4 272.9,61.7Z" fill="#ffe300"/><path d="M272.5,61.2 272.1,61.1 271.4,60.0 270.7,58.0 270.5,55.2 271.0,52.4 270.3,50.8 270.2,49.6 270.4,48.4 271.1,47.2 271.7,46.7 272.9,46.4 273.7,46.6 274.5,47.2 275.2,48.4 275.4,49.6 275.1,51.2 274.4,52.4 274.7,55.6 274.4,58.4 274.0,59.6 273.3,60.7 272.9,61.1 272.5,61.2Z" fill="#ffaa00"/><path d="M272.9,60.6 272.5,60.7 271.7,60.0 271.1,58.4 271.0,55.6 271.1,54.0 271.5,52.4 271.5,52.0 270.8,50.8 270.6,49.6 270.9,48.4 271.3,47.7 272.1,47.1 272.9,46.9 273.7,47.2 274.2,47.6 274.7,48.4 274.9,49.6 274.7,50.8 273.8,52.4 274.2,55.2 274.1,58.0 273.6,59.6 272.9,60.6Z" fill="#ff7100"/><path d="M273.3,51.7 272.5,51.9 271.9,51.6 271.3,50.8 271.1,50.0 271.1,49.2 271.4,48.4 272.1,47.7 272.5,47.5 273.3,47.6 273.7,47.8 274.2,48.4 274.5,49.2 274.5,50.0 274.2,50.8 273.7,51.5 273.3,51.7ZM272.9,60.2 272.5,60.3 271.9,59.6 271.7,58.8 271.5,57.2 271.7,54.4 272.1,53.1 272.5,52.6 272.9,52.7 273.3,53.5 273.6,55.6 273.5,58.4 273.2,59.6 272.9,60.2Z" fill="#ff3900"/><path d="M272.9,51.2 272.5,51.2 272.0,50.8 271.7,50.4 271.5,49.6 271.7,48.9 272.0,48.4 272.5,48.1 272.9,48.1 273.3,48.2 273.7,48.5 274.0,49.6 273.7,50.7 272.9,51.2ZM272.5,59.9 272.5,57.6 272.7,58.8 272.5,59.9Z" fill="#ff0000"/></g>
<rect x="234.00" y="28.30" width="61.20" height="60.40" fill="none" stroke="#111" stroke-width="0.9"/>
<path d="M232.40,70.47H234.00M232.40,68.11H234.00M232.40,66.43H234.00M232.40,65.13H234.00M232.40,64.07H234.00M232.40,63.18H234.00M232.40,62.40H234.00M232.40,61.71H234.00M232.40,57.07H234.00M232.40,54.71H234.00M232.40,53.03H234.00M232.40,51.73H234.00M232.40,50.67H234.00M232.40,49.78H234.00M232.40,49.00H234.00M232.40,48.31H234.00M232.40,43.67H234.00M232.40,41.31H234.00M232.40,39.63H234.00M232.40,38.33H234.00M232.40,37.27H234.00M232.40,36.38H234.00M232.40,35.60H234.00M232.40,34.91H234.00M231.40,81.80H234.00M231.40,74.50H234.00M231.40,61.10H234.00M231.40,47.70H234.00M231.40,34.30H234.00M232.60,87.20H234.00M232.60,85.50H234.00M232.60,84.10H234.00M232.60,79.20H234.00M232.60,77.20H234.00M250.53,88.70V90.30M252.89,88.70V90.30M254.57,88.70V90.30M255.87,88.70V90.30M256.93,88.70V90.30M257.82,88.70V90.30M258.60,88.70V90.30M259.29,88.70V90.30M263.93,88.70V90.30M266.29,88.70V90.30M267.97,88.70V90.30M269.27,88.70V90.30M270.33,88.70V90.30M271.22,88.70V90.30M272.00,88.70V90.30M272.69,88.70V90.30M277.33,88.70V90.30M279.69,88.70V90.30M281.37,88.70V90.30M282.67,88.70V90.30M283.73,88.70V90.30M284.62,88.70V90.30M285.40,88.70V90.30M286.09,88.70V90.30M239.50,88.70V91.30M246.50,88.70V91.30M259.90,88.70V91.30M273.30,88.70V91.30M286.70,88.70V91.30M235.50,88.70V90.10M237.00,88.70V90.10M242.00,88.70V90.10M244.00,88.70V90.10" stroke="#111" stroke-width="0.6" fill="none"/>
<text x="229.00" y="37.00" font-size="6.4" text-anchor="end" font-weight="normal" fill="#2a2a2a">10<tspan dy="-2.43" font-size="4.61">5</tspan></text>
<text x="229.00" y="50.40" font-size="6.4" text-anchor="end" font-weight="normal" fill="#2a2a2a">10<tspan dy="-2.43" font-size="4.61">4</tspan></text>
<text x="229.00" y="63.80" font-size="6.4" text-anchor="end" font-weight="normal" fill="#2a2a2a">10<tspan dy="-2.43" font-size="4.61">3</tspan></text>
<text x="229.00" y="78.80" font-size="6.4" text-anchor="end" font-weight="normal" fill="#2a2a2a">10<tspan dy="-2.43" font-size="4.61">2</tspan></text>
<text x="228.20" y="84.40" font-size="6.4" text-anchor="end" font-weight="normal" fill="#2a2a2a">0</text>
<text x="239.90" y="100.70" font-size="6.4" text-anchor="middle" font-weight="normal" fill="#2a2a2a">0</text>
<text x="247.60" y="100.70" font-size="6.4" text-anchor="middle" font-weight="normal" fill="#2a2a2a">10<tspan dy="-2.43" font-size="4.61">2</tspan></text>
<text x="261.50" y="100.70" font-size="6.4" text-anchor="middle" font-weight="normal" fill="#2a2a2a">10<tspan dy="-2.43" font-size="4.61">3</tspan></text>
<text x="275.30" y="100.70" font-size="6.4" text-anchor="middle" font-weight="normal" fill="#2a2a2a">10<tspan dy="-2.43" font-size="4.61">4</tspan></text>
<text x="289.20" y="100.70" font-size="6.4" text-anchor="middle" font-weight="normal" fill="#2a2a2a">10<tspan dy="-2.43" font-size="4.61">5</tspan></text>
<rect x="260.40" y="28.30" width="22.10" height="28.20" fill="none" stroke="#222" stroke-width="0.8"/>
<text x="271.20" y="36.30" font-size="7" text-anchor="middle" font-weight="normal" fill="#1a1a1a" stroke="#1a1a1a" stroke-width="0.04">59</text>
<g><path d="M374.8,88.1 372.4,88.3 364.8,88.4 360.8,88.3 359.5,88.0 359.5,84.0 359.1,83.6 359.1,75.6 359.5,75.2 359.5,65.2 359.9,64.8 359.9,63.6 360.3,63.2 360.3,62.8 361.1,62.0 361.6,61.5 362.0,61.5 362.4,61.1 363.6,61.1 363.9,60.8 362.3,59.2 362.3,58.4 361.9,58.0 361.9,55.2 362.3,54.8 362.3,54.0 362.7,53.6 362.7,53.2 363.6,52.3 364.0,52.3 364.8,51.5 365.6,51.5 366.0,51.1 368.4,51.1 368.8,51.5 369.6,51.5 370.0,51.9 370.4,51.9 371.7,53.2 371.7,53.6 372.1,54.0 372.1,54.8 372.5,55.2 372.5,58.0 372.1,58.4 372.1,59.2 371.7,59.6 371.7,60.0 371.3,60.4 372.4,61.5 372.8,61.5 373.3,62.0 373.3,62.4 373.7,62.8 373.7,63.2 374.1,63.6 374.1,64.4 374.5,64.8 374.5,66.4 374.9,66.8 374.9,69.2 375.3,69.6 375.3,83.2 374.9,83.6 374.8,88.1Z" fill="#0000ff"/><path d="M374.0,88.0 372.4,88.3 366.8,88.4 361.6,88.3 359.9,88.0 360.0,87.2 360.5,86.4 360.5,84.0 360.1,82.8 360.1,77.6 359.9,76.0 360.0,75.2 359.8,69.6 359.9,65.6 360.3,64.8 360.4,64.0 361.0,62.8 362.0,61.9 362.8,61.4 363.8,61.2 364.1,60.8 363.6,59.6 362.9,57.2 362.9,56.0 363.8,53.6 365.2,52.6 366.8,52.1 368.0,52.2 370.0,53.0 370.6,53.6 371.0,54.4 371.5,56.0 371.5,57.2 370.7,59.6 370.7,60.4 370.9,60.8 372.5,62.4 372.9,63.2 373.7,65.2 374.1,67.2 374.3,69.2 374.5,70.4 374.3,74.8 374.3,82.4 373.9,83.6 373.9,86.4 374.2,88.0 374.0,88.0Z" fill="#0039ff"/><path d="M373.6,88.1 371.6,88.3 366.8,88.3 362.0,88.3 360.2,88.0 360.3,87.2 360.6,86.8 361.6,86.2 362.3,86.0 361.8,84.8 361.5,82.8 361.9,80.0 360.7,76.4 360.3,70.8 360.5,66.0 361.0,64.4 361.6,63.2 362.8,62.1 364.0,61.7 364.4,61.4 364.8,60.8 365.2,59.2 365.7,58.8 366.4,58.6 367.6,58.5 368.4,58.9 369.2,59.6 370.2,61.2 372.0,63.2 373.0,65.6 373.5,67.6 373.7,70.4 373.5,73.6 373.1,76.0 372.4,78.4 372.0,81.6 370.6,85.6 370.7,86.0 372.4,86.2 373.2,86.6 373.7,87.2 373.8,88.0 373.6,88.1Z" fill="#0071ff"/><path d="M373.2,88.1 366.8,88.3 362.4,88.2 360.5,88.0 360.6,87.2 360.9,86.8 362.0,86.3 363.0,86.0 362.3,84.4 362.1,82.8 362.2,81.6 362.6,80.4 362.7,79.6 361.4,76.8 360.9,73.2 360.8,69.6 361.2,66.0 361.7,64.4 362.5,63.2 363.2,62.7 364.6,62.0 366.4,60.1 367.2,59.9 367.6,59.9 368.0,60.1 368.8,60.7 371.4,63.6 372.3,65.6 372.8,67.6 373.1,70.8 372.8,74.4 371.9,77.6 371.2,79.1 370.3,80.4 370.2,80.8 370.5,82.4 370.4,83.6 370.1,84.8 369.5,86.0 371.6,86.2 372.8,86.6 373.4,87.2 373.5,88.0 373.2,88.1Z" fill="#00aaff"/><path d="M373.2,88.0 371.2,88.2 366.8,88.3 362.8,88.2 360.8,88.0 360.9,87.2 361.2,86.8 362.4,86.3 363.9,86.0 363.0,84.8 362.7,83.2 362.7,82.0 363.1,80.8 363.3,79.2 362.1,76.8 361.4,73.2 361.3,69.6 361.7,66.4 362.4,64.5 363.0,63.6 366.4,61.4 367.2,61.0 367.6,61.0 368.8,61.8 370.2,63.2 371.1,64.4 371.8,66.0 372.3,68.0 372.6,70.8 372.4,73.6 371.8,76.0 371.0,78.0 369.6,80.0 369.6,81.2 369.9,82.8 369.7,84.0 369.2,85.2 368.6,86.0 371.2,86.3 372.4,86.6 373.1,87.2 373.2,88.0Z" fill="#00e3ff"/><path d="M372.8,88.0 366.8,88.3 362.8,88.2 361.0,88.0 361.2,87.2 361.6,86.8 363.2,86.3 365.0,86.0 364.0,85.2 363.5,84.4 363.3,83.6 363.3,82.4 363.7,81.2 364.0,78.8 362.8,76.8 362.0,73.6 361.8,70.0 362.2,66.8 362.9,64.8 363.5,64.0 366.0,62.5 367.2,62.1 368.0,62.2 368.8,62.8 369.7,63.6 370.6,64.8 371.2,66.0 371.7,68.0 372.0,70.8 371.8,73.2 371.2,75.8 370.4,77.6 369.1,79.2 369.0,81.2 369.2,82.8 369.1,84.0 368.5,85.2 367.5,86.0 370.8,86.3 372.0,86.6 372.8,87.2 373.0,88.0 372.8,88.0Z" fill="#00ffe3"/><path d="M366.4,85.6 365.6,85.6 364.8,85.1 364.2,84.4 363.9,83.6 363.9,82.4 364.9,78.4 363.6,76.8 362.8,74.8 362.4,72.4 362.3,69.6 362.7,66.8 363.7,64.8 364.8,64.0 366.0,63.4 366.8,63.1 367.6,63.0 368.4,63.4 369.2,64.1 370.0,65.0 370.5,66.0 371.2,68.4 371.4,71.6 371.1,74.0 370.4,76.0 369.5,77.6 368.2,78.8 368.3,81.6 368.6,82.8 368.4,84.0 367.6,85.1 366.4,85.6ZM372.4,88.0 366.8,88.3 361.3,88.0 361.5,87.2 362.0,86.8 364.0,86.3 366.4,86.1 370.0,86.3 371.6,86.6 372.5,87.2 372.7,88.0 372.4,88.0Z" fill="#00ffaa"/><path d="M367.6,78.0 366.4,78.2 365.2,77.5 364.4,76.6 363.6,75.2 363.2,74.0 362.9,72.4 362.8,70.8 362.8,69.2 363.1,67.6 364.0,65.5 364.8,64.8 365.6,64.3 367.2,63.9 367.6,64.0 368.4,64.4 369.2,65.1 369.8,66.0 370.6,68.4 370.9,70.8 370.6,73.2 370.0,75.2 368.8,77.1 367.6,78.0ZM366.8,84.8 366.0,85.0 365.2,84.6 364.6,84.0 364.4,83.2 364.6,82.4 365.0,81.6 365.4,80.0 366.0,79.1 366.4,78.9 366.8,79.0 367.2,79.5 367.9,82.8 367.7,84.0 367.2,84.6 366.8,84.8ZM372.0,88.1 366.8,88.3 361.6,88.0 361.8,87.2 362.4,86.8 364.4,86.4 366.4,86.2 370.0,86.4 371.6,86.8 372.2,87.2 372.4,87.6 372.4,88.0 372.0,88.1Z" fill="#00ff71"/><path d="M367.6,77.0 367.2,77.2 366.4,77.1 365.6,76.7 364.8,75.8 364.2,74.8 363.7,73.6 363.3,71.2 363.4,68.8 364.0,66.8 364.5,66.0 365.2,65.4 366.0,65.0 366.8,64.8 368.0,65.1 369.2,66.4 370.0,68.3 370.2,70.0 370.2,72.0 369.6,74.4 368.7,76.0 367.6,77.0ZM366.8,84.0 366.0,84.3 365.6,84.1 365.2,83.7 365.1,82.8 365.6,82.2 366.4,82.0 366.9,82.4 367.2,83.2 366.8,84.0ZM372.0,88.0 366.8,88.3 361.9,88.0 362.1,87.2 362.7,86.8 364.4,86.5 366.8,86.4 369.6,86.5 371.2,86.8 371.9,87.2 372.1,87.6 372.1,88.0 372.0,88.0Z" fill="#00ff39"/><path d="M367.2,76.1 366.8,76.2 366.0,75.8 364.8,74.4 364.1,72.8 363.8,70.8 364.0,68.8 364.6,67.2 365.1,66.4 365.6,66.1 366.8,65.7 367.6,65.9 368.0,66.1 368.8,67.1 369.4,68.4 369.7,70.4 369.6,72.0 369.0,74.0 368.0,75.6 367.2,76.1ZM366.0,83.6 365.7,83.2 366.0,82.9 366.4,83.2 366.0,83.6ZM371.6,88.0 366.8,88.2 362.2,88.0 362.4,87.2 363.1,86.8 364.8,86.5 367.6,86.5 369.6,86.6 370.9,86.8 371.6,87.2 371.8,88.0 371.6,88.0Z" fill="#00ff00"/><path d="M367.2,75.1 366.8,75.1 366.4,74.9 365.2,73.6 364.7,72.4 364.4,70.8 364.5,69.2 365.1,67.6 366.0,66.8 366.8,66.7 367.6,66.9 368.4,67.8 368.8,68.8 369.1,70.4 369.0,71.6 368.6,73.2 368.0,74.3 367.2,75.1ZM371.2,88.0 366.8,88.2 362.4,88.0 362.7,87.2 363.5,86.8 365.2,86.6 367.6,86.6 369.6,86.7 370.8,86.9 371.3,87.2 371.5,87.6 371.6,88.0 371.2,88.0Z" fill="#39ff00"/><path d="M367.2,73.6 366.8,73.7 366.0,73.2 365.5,72.4 365.1,71.2 365.0,70.0 365.3,68.8 365.8,68.0 366.4,67.6 367.2,67.7 367.6,68.0 368.1,68.8 368.4,70.0 368.4,71.2 368.2,72.0 367.6,73.2 367.2,73.6ZM371.2,88.0 366.8,88.2 362.7,88.0 362.7,87.6 363.0,87.2 363.6,86.9 364.8,86.7 367.2,86.6 369.2,86.7 370.4,86.9 371.0,87.2 371.3,87.6 371.2,88.0Z" fill="#71ff00"/><path d="M366.8,72.2 366.4,72.1 366.0,71.6 365.6,70.4 365.7,69.6 366.0,69.0 366.4,68.6 366.8,68.6 367.2,68.8 367.5,69.2 367.7,70.4 367.5,71.6 367.2,72.0 366.8,72.2ZM370.8,88.0 366.8,88.2 363.0,88.0 363.0,87.6 363.3,87.2 364.0,86.9 367.2,86.7 369.2,86.8 370.4,87.1 370.7,87.2 371.0,87.6 371.0,88.0 370.8,88.0Z" fill="#aaff00"/><path d="M366.8,70.6 366.4,70.5 366.3,70.0 366.4,69.8 366.8,69.7 367.0,70.0 366.8,70.6ZM370.4,88.0 366.8,88.2 363.3,88.0 363.3,87.6 363.6,87.2 364.0,87.1 365.2,86.9 367.6,86.8 369.2,86.9 370.4,87.2 370.7,87.6 370.7,88.0 370.4,88.0Z" fill="#e3ff00"/><path d="M370.4,88.0 366.8,88.2 363.6,88.0 363.6,87.6 364.0,87.2 365.2,86.9 367.2,86.9 368.8,86.9 370.0,87.2 370.4,87.6 370.4,88.0Z" fill="#ffe300"/><path d="M370.0,88.0 366.8,88.2 363.9,88.0 363.9,87.6 364.4,87.2 367.2,87.0 369.6,87.2 370.1,87.6 370.1,88.0 370.0,88.0Z" fill="#ffaa00"/><path d="M369.6,88.0 366.8,88.1 364.1,88.0 364.2,87.6 364.8,87.2 367.2,87.1 369.2,87.2 369.8,87.6 369.9,88.0 369.6,88.0Z" fill="#ff7100"/><path d="M369.2,88.0 366.8,88.1 364.4,88.0 364.5,87.6 365.2,87.2 367.2,87.1 368.6,87.2 369.2,87.4 369.5,87.6 369.6,88.0 369.2,88.0Z" fill="#ff3900"/><path d="M369.2,88.0 366.8,88.1 364.7,88.0 364.8,87.6 365.2,87.4 367.2,87.2 368.8,87.4 369.2,87.6 369.3,88.0 369.2,88.0Z" fill="#ff0000"/></g>
<rect x="332.70" y="28.30" width="61.20" height="60.40" fill="none" stroke="#111" stroke-width="0.9"/>
<path d="M331.10,70.47H332.70M331.10,68.11H332.70M331.10,66.43H332.70M331.10,65.13H332.70M331.10,64.07H332.70M331.10,63.18H332.70M331.10,62.40H332.70M331.10,61.71H332.70M331.10,57.07H332.70M331.10,54.71H332.70M331.10,53.03H332.70M331.10,51.73H332.70M331.10,50.67H332.70M331.10,49.78H332.70M331.10,49.00H332.70M331.10,48.31H332.70M331.10,43.67H332.70M331.10,41.31H332.70M331.10,39.63H332.70M331.10,38.33H332.70M331.10,37.27H332.70M331.10,36.38H332.70M331.10,35.60H332.70M331.10,34.91H332.70M330.10,81.80H332.70M330.10,74.50H332.70M330.10,61.10H332.70M330.10,47.70H332.70M330.10,34.30H332.70M331.30,87.20H332.70M331.30,85.50H332.70M331.30,84.10H332.70M331.30,79.20H332.70M331.30,77.20H332.70M349.23,88.70V90.30M351.59,88.70V90.30M353.27,88.70V90.30M354.57,88.70V90.30M355.63,88.70V90.30M356.52,88.70V90.30M357.30,88.70V90.30M357.99,88.70V90.30M362.63,88.70V90.30M364.99,88.70V90.30M366.67,88.70V90.30M367.97,88.70V90.30M369.03,88.70V90.30M369.92,88.70V90.30M370.70,88.70V90.30M371.39,88.70V90.30M376.03,88.70V90.30M378.39,88.70V90.30M380.07,88.70V90.30M381.37,88.70V90.30M382.43,88.70V90.30M383.32,88.70V90.30M384.10,88.70V90.30M384.79,88.70V90.30M338.20,88.70V91.30M345.20,88.70V91.30M358.60,88.70V91.30M372.00,88.70V91.30M385.40,88.70V91.30M334.20,88.70V90.10M335.70,88.70V90.10M340.70,88.70V90.10M342.70,88.70V90.10" stroke="#111" stroke-width="0.6" fill="none"/>
<text x="327.70" y="37.00" font-size="6.4" text-anchor="end" font-weight="normal" fill="#2a2a2a">10<tspan dy="-2.43" font-size="4.61">5</tspan></text>
<text x="327.70" y="50.40" font-size="6.4" text-anchor="end" font-weight="normal" fill="#2a2a2a">10<tspan dy="-2.43" font-size="4.61">4</tspan></text>
<text x="327.70" y="63.80" font-size="6.4" text-anchor="end" font-weight="normal" fill="#2a2a2a">10<tspan dy="-2.43" font-size="4.61">3</tspan></text>
<text x="327.70" y="78.80" font-size="6.4" text-anchor="end" font-weight="normal" fill="#2a2a2a">10<tspan dy="-2.43" font-size="4.61">2</tspan></text>
<text x="326.90" y="84.40" font-size="6.4" text-anchor="end" font-weight="normal" fill="#2a2a2a">0</text>
<text x="338.60" y="100.70" font-size="6.4" text-anchor="middle" font-weight="normal" fill="#2a2a2a">0</text>
<text x="346.30" y="100.70" font-size="6.4" text-anchor="middle" font-weight="normal" fill="#2a2a2a">10<tspan dy="-2.43" font-size="4.61">2</tspan></text>
<text x="360.20" y="100.70" font-size="6.4" text-anchor="middle" font-weight="normal" fill="#2a2a2a">10<tspan dy="-2.43" font-size="4.61">3</tspan></text>
<text x="374.00" y="100.70" font-size="6.4" text-anchor="middle" font-weight="normal" fill="#2a2a2a">10<tspan dy="-2.43" font-size="4.61">4</tspan></text>
<text x="387.90" y="100.70" font-size="6.4" text-anchor="middle" font-weight="normal" fill="#2a2a2a">10<tspan dy="-2.43" font-size="4.61">5</tspan></text>
<rect x="353.50" y="28.30" width="25.00" height="31.90" fill="none" stroke="#222" stroke-width="0.8"/>
<text x="366.30" y="37.50" font-size="7" text-anchor="middle" font-weight="normal" fill="#1a1a1a" stroke="#1a1a1a" stroke-width="0.04">5</text>
<g><path d="M91.3,173.9 79.3,173.9 77.7,173.9 76.4,173.6 76.4,170.4 76.0,170.0 76.0,166.0 75.6,165.6 75.5,152.0 75.9,151.6 75.9,150.4 76.3,150.0 76.3,148.8 77.1,148.0 77.1,147.2 76.7,146.8 76.7,146.4 76.4,146.0 76.4,142.4 76.8,142.0 76.8,141.6 78.5,139.9 79.3,139.9 79.7,139.5 84.1,139.5 84.5,139.9 85.3,139.9 85.7,140.3 86.1,140.3 87.8,142.0 87.8,145.6 87.5,146.0 87.5,146.4 87.1,146.8 87.7,147.4 88.5,147.4 88.9,147.8 89.3,147.8 91.4,150.0 91.4,150.4 91.8,150.8 91.8,152.0 92.2,152.4 92.2,166.0 91.8,166.4 91.8,168.8 91.4,169.2 91.4,172.0 91.6,173.6 91.3,173.9Z" fill="#0000ff"/><path d="M91.3,173.8 88.1,173.9 81.3,173.9 78.1,173.8 77.0,173.6 77.1,172.8 77.4,172.0 77.4,170.4 77.0,169.2 77.0,166.0 76.6,164.8 76.4,160.8 75.9,159.2 75.7,157.8 75.6,152.0 76.0,151.6 76.0,150.4 76.4,150.0 76.4,148.8 77.2,148.0 77.2,147.2 76.9,146.8 76.9,146.4 76.6,146.0 77.2,142.8 77.7,142.0 78.9,140.9 79.7,140.8 80.5,140.4 83.3,140.5 85.7,141.4 86.7,142.4 86.9,143.6 87.3,144.3 87.6,145.2 87.6,145.6 87.3,146.0 87.3,146.4 87.0,146.8 87.7,147.5 88.5,147.6 88.9,148.0 89.3,148.0 91.1,150.0 91.5,151.2 91.6,152.0 91.9,153.2 91.7,155.6 91.2,158.0 91.2,165.2 90.9,166.0 90.8,168.0 90.4,169.2 90.4,171.6 90.7,172.0 91.3,172.2 91.5,173.6 91.3,173.8Z" fill="#0039ff"/><path d="M83.7,170.9 82.5,170.8 81.7,170.5 80.5,169.5 79.6,168.4 78.2,164.4 77.9,161.6 77.0,160.4 76.5,159.3 75.9,156.4 75.8,152.4 76.1,151.6 76.3,150.4 76.6,150.0 76.6,149.2 77.4,148.0 77.5,147.2 77.2,145.6 77.4,144.8 78.0,143.2 78.6,142.4 79.3,141.8 80.9,141.3 83.3,141.4 84.5,141.9 85.3,142.6 86.4,144.0 87.0,145.2 86.7,146.8 86.9,147.1 87.4,147.6 88.1,147.8 89.1,148.4 90.5,150.0 91.0,151.2 91.3,152.8 91.2,154.8 90.9,156.4 90.3,158.0 88.9,160.4 88.4,164.4 87.4,167.2 86.5,168.8 85.7,169.7 84.9,170.4 83.7,170.9ZM91.3,173.7 89.3,173.9 84.1,173.9 79.3,173.9 77.3,173.6 77.5,172.8 77.7,172.6 78.1,172.2 79.3,171.7 83.1,171.6 83.7,171.4 89.7,171.8 91.3,172.6 91.4,173.6 91.3,173.7Z" fill="#0071ff"/><path d="M84.1,166.1 83.3,166.4 82.5,166.2 81.3,165.4 80.4,164.0 80.0,162.4 78.4,161.2 77.3,159.9 76.7,158.4 76.3,156.4 76.0,152.4 76.4,151.6 76.4,150.8 76.8,150.0 76.9,149.2 77.7,148.0 77.8,146.8 77.8,145.2 78.3,144.0 79.3,142.8 79.8,142.4 80.9,142.0 82.9,142.1 84.1,142.6 85.5,143.6 86.3,144.8 86.5,146.0 86.4,146.8 86.6,147.2 87.3,147.9 88.1,148.1 88.9,148.7 90.2,150.4 90.6,151.6 90.9,153.2 90.5,156.0 89.5,158.4 88.5,160.0 86.4,162.0 85.6,164.4 84.9,165.5 84.1,166.1ZM91.3,173.6 89.3,173.8 84.5,173.9 79.7,173.8 77.6,173.6 77.8,172.8 78.1,172.5 79.7,171.9 84.9,171.7 89.3,171.9 90.9,172.5 91.3,173.1 91.3,173.6Z" fill="#00aaff"/><path d="M83.7,162.5 82.5,162.6 81.3,162.3 79.8,161.6 78.7,160.8 78.0,160.0 77.3,158.8 76.8,157.2 76.5,155.6 76.3,152.4 76.6,152.0 76.7,150.8 77.0,150.4 77.2,149.2 77.8,148.4 78.0,148.0 78.3,146.8 78.2,145.6 78.4,144.8 79.3,143.5 80.1,143.0 81.3,142.6 82.9,142.7 84.1,143.1 84.9,143.6 85.7,144.8 86.2,147.2 87.0,148.0 88.1,148.6 88.9,149.2 89.9,150.8 90.2,151.6 90.4,153.2 90.2,154.8 89.5,157.2 88.9,158.5 87.8,160.0 86.5,161.1 84.9,162.1 83.7,162.5ZM90.9,173.6 88.9,173.8 84.5,173.9 80.1,173.8 77.9,173.6 78.1,172.8 78.6,172.4 79.7,172.0 81.3,171.8 85.3,171.8 88.5,171.9 90.1,172.3 90.9,172.8 91.1,173.6 90.9,173.6Z" fill="#00e3ff"/><path d="M82.9,162.0 81.7,161.8 80.5,161.4 79.3,160.6 78.3,159.6 77.6,158.4 77.1,157.2 76.6,154.0 76.6,152.8 76.9,151.2 77.5,149.2 78.2,148.4 78.7,146.8 78.7,145.6 78.9,144.8 79.4,144.0 80.1,143.4 81.7,143.0 82.9,143.1 83.7,143.4 84.2,143.6 84.9,144.3 85.3,145.2 85.5,146.4 85.9,147.2 86.9,148.3 88.5,149.4 89.3,150.4 89.7,151.6 89.9,153.2 89.8,154.8 89.2,156.8 88.6,158.0 87.8,159.2 86.6,160.4 85.5,161.2 84.1,161.8 82.9,162.0ZM90.5,173.6 84.5,173.9 80.1,173.8 78.2,173.6 78.4,172.8 79.0,172.4 79.7,172.2 81.7,171.9 85.3,171.8 88.1,172.0 89.7,172.3 90.6,172.8 90.8,173.6 90.5,173.6Z" fill="#00ffe3"/><path d="M84.1,161.3 82.9,161.5 81.7,161.3 80.5,160.8 79.3,160.0 78.5,159.1 77.8,158.0 77.4,156.8 77.1,155.2 76.9,152.8 77.7,149.6 78.5,148.4 79.0,147.2 79.4,144.8 80.1,143.9 81.3,143.3 82.1,143.3 82.9,143.5 83.7,143.8 84.3,144.4 84.8,145.2 85.0,146.4 85.4,147.2 86.5,148.4 87.7,149.2 88.5,150.0 89.2,151.2 89.4,152.0 89.5,153.6 89.3,154.4 89.0,156.0 88.3,157.6 87.5,158.8 86.5,159.9 85.3,160.7 84.1,161.3ZM90.1,173.7 84.5,173.9 78.5,173.6 78.8,172.8 79.4,172.4 80.1,172.2 82.1,172.0 85.3,171.9 87.7,172.0 89.6,172.4 90.2,172.8 90.4,173.2 90.5,173.6 90.1,173.7Z" fill="#00ffaa"/><path d="M83.7,160.9 82.9,161.0 81.7,160.8 80.5,160.2 79.3,159.3 78.5,158.3 77.9,157.2 77.3,154.7 77.2,152.8 78.0,149.6 78.7,148.8 79.6,147.2 79.8,145.6 80.1,144.7 80.7,144.0 81.7,143.6 82.9,143.9 83.6,144.4 84.2,145.2 84.6,146.8 85.7,148.1 88.0,150.0 88.7,151.2 88.9,152.0 89.0,153.6 88.8,154.8 88.4,156.4 87.8,157.6 86.9,158.8 86.1,159.5 84.9,160.4 83.7,160.9ZM90.1,173.6 84.5,173.9 78.8,173.6 79.1,172.8 80.1,172.3 82.1,172.1 84.9,172.0 87.3,172.1 89.2,172.4 89.9,172.8 90.1,173.2 90.1,173.6Z" fill="#00ff71"/><path d="M83.3,160.4 82.5,160.4 81.3,160.0 80.1,159.3 79.3,158.6 78.6,157.6 78.1,156.6 77.5,154.0 77.5,152.8 77.8,151.2 78.3,150.0 80.1,147.2 80.8,144.8 81.0,144.4 81.7,143.9 82.7,144.4 83.1,144.8 84.3,147.2 87.7,150.3 88.5,152.0 88.6,153.6 88.4,154.8 88.1,156.0 87.5,157.2 86.6,158.4 85.7,159.2 84.5,160.0 83.3,160.4ZM89.7,173.6 84.5,173.9 79.1,173.6 79.2,173.2 79.4,172.8 80.2,172.4 82.1,172.1 84.9,172.1 87.3,172.2 88.8,172.4 89.6,172.8 89.8,173.2 89.9,173.6 89.7,173.6Z" fill="#00ff39"/><path d="M83.7,159.8 82.9,160.0 81.7,159.6 80.5,159.0 79.7,158.3 78.5,156.5 77.9,154.0 77.9,152.8 78.2,151.2 78.7,150.0 80.9,147.2 81.7,145.5 82.1,145.3 82.9,146.2 83.5,147.2 87.2,150.4 87.7,151.2 88.1,152.4 88.0,154.4 87.7,155.6 87.2,156.8 85.7,158.6 83.7,159.8ZM89.3,173.6 84.5,173.8 79.4,173.6 79.5,173.2 79.7,172.8 80.7,172.4 84.9,172.2 86.9,172.2 88.5,172.5 89.3,172.8 89.5,173.2 89.6,173.6 89.3,173.6Z" fill="#00ff00"/><path d="M83.3,159.3 82.5,159.3 81.3,158.8 79.7,157.6 78.7,156.0 78.2,154.0 78.1,153.2 78.4,151.6 79.1,150.0 80.5,148.3 82.1,147.3 83.7,148.0 85.4,149.2 87.0,150.8 87.4,151.6 87.6,152.4 87.7,153.6 87.5,154.8 86.6,156.8 85.0,158.4 83.3,159.3ZM88.9,173.6 84.5,173.8 79.7,173.6 79.8,173.2 80.1,172.8 80.9,172.5 82.5,172.3 84.9,172.3 87.3,172.4 88.5,172.6 88.9,172.8 89.2,173.2 89.3,173.6 88.9,173.6Z" fill="#39ff00"/><path d="M83.7,158.5 82.9,158.7 82.1,158.5 80.5,157.7 79.3,156.2 78.8,155.2 78.6,154.0 78.5,153.2 78.8,151.6 79.3,150.4 80.9,148.6 82.1,148.0 83.3,148.3 84.9,149.3 86.4,150.8 86.9,151.6 87.2,152.4 87.2,154.0 86.5,156.0 85.3,157.5 83.7,158.5ZM88.9,173.6 84.5,173.8 80.0,173.6 80.1,173.1 80.4,172.8 80.9,172.6 82.2,172.4 84.9,172.3 86.9,172.4 88.1,172.6 88.6,172.8 88.9,173.1 88.9,173.6Z" fill="#71ff00"/><path d="M82.9,158.0 82.1,157.9 81.3,157.6 80.1,156.6 79.3,155.2 78.9,153.6 79.1,151.6 79.7,150.4 80.9,149.2 82.1,148.6 83.3,148.8 84.9,149.8 86.2,151.2 86.6,152.0 86.8,152.8 86.7,154.0 86.5,154.8 85.7,156.3 84.3,157.6 82.9,158.0ZM88.5,173.6 84.5,173.8 80.3,173.6 80.5,173.1 81.3,172.6 82.5,172.5 84.9,172.4 86.9,172.5 88.1,172.8 88.6,173.2 88.7,173.6 88.5,173.6Z" fill="#aaff00"/><path d="M83.7,157.2 82.5,157.4 81.7,157.1 80.9,156.6 80.0,155.6 79.3,154.0 79.3,152.4 79.9,150.8 80.9,149.7 82.1,149.1 83.3,149.3 84.5,149.9 85.7,151.2 86.2,152.4 86.3,154.0 85.8,155.2 84.9,156.4 83.7,157.2ZM88.1,173.6 84.5,173.8 80.6,173.6 80.7,173.2 81.3,172.8 82.5,172.6 84.9,172.5 86.5,172.6 87.8,172.8 88.3,173.2 88.4,173.6 88.1,173.6Z" fill="#e3ff00"/><path d="M83.7,156.5 82.5,156.7 81.3,156.2 80.3,155.2 79.8,154.0 79.7,152.4 80.1,151.2 80.9,150.2 82.1,149.6 83.3,149.7 84.4,150.4 85.2,151.2 85.7,152.4 85.8,153.6 85.5,154.8 84.5,156.0 83.7,156.5ZM88.1,173.6 84.5,173.8 80.9,173.6 81.0,173.2 81.6,172.8 84.5,172.6 87.4,172.8 88.0,173.2 88.1,173.6Z" fill="#ffe300"/><path d="M83.3,156.0 82.1,156.0 81.3,155.6 80.5,154.6 80.1,153.6 80.1,152.4 80.5,151.4 81.3,150.5 82.1,150.1 82.9,150.1 84.1,150.7 84.9,151.6 85.3,152.8 85.2,154.0 84.9,154.8 84.1,155.6 83.3,156.0ZM87.7,173.6 84.5,173.8 81.2,173.6 81.3,173.2 82.1,172.8 84.5,172.7 86.9,172.8 87.7,173.2 87.8,173.6 87.7,173.6Z" fill="#ffaa00"/><path d="M83.3,155.3 82.5,155.4 81.7,155.1 80.9,154.4 80.6,153.6 80.5,152.4 80.8,151.6 81.3,151.0 82.1,150.6 82.9,150.6 83.7,150.9 84.4,151.6 84.8,152.4 84.8,153.2 84.5,154.3 84.1,154.9 83.3,155.3ZM87.3,173.6 84.5,173.7 81.5,173.6 81.6,173.2 82.5,172.9 84.9,172.8 86.9,173.0 87.4,173.2 87.5,173.6 87.3,173.6Z" fill="#ff7100"/><path d="M83.7,154.4 83.3,154.6 82.5,154.8 81.7,154.4 81.3,154.0 81.0,153.2 81.0,152.4 81.3,151.7 81.7,151.3 82.5,151.0 82.9,151.0 83.7,151.5 84.1,152.0 84.3,153.2 84.1,153.9 83.7,154.4ZM86.9,173.6 84.5,173.7 81.8,173.6 81.9,173.2 82.5,173.0 84.9,172.8 86.9,173.1 87.1,173.2 87.2,173.6 86.9,173.6Z" fill="#ff3900"/><path d="M82.9,154.1 82.1,154.0 81.7,153.7 81.4,152.8 81.7,151.9 82.5,151.5 83.3,151.8 83.7,152.3 83.8,152.8 83.6,153.6 82.9,154.1ZM86.9,173.6 84.5,173.7 82.1,173.6 82.3,173.2 82.5,173.1 84.5,172.9 86.5,173.1 86.7,173.2 86.9,173.6Z" fill="#ff0000"/></g>
<rect x="49.20" y="113.90" width="61.20" height="60.40" fill="none" stroke="#111" stroke-width="0.9"/>
<path d="M47.60,156.07H49.20M47.60,153.71H49.20M47.60,152.03H49.20M47.60,150.73H49.20M47.60,149.67H49.20M47.60,148.78H49.20M47.60,148.00H49.20M47.60,147.31H49.20M47.60,142.67H49.20M47.60,140.31H49.20M47.60,138.63H49.20M47.60,137.33H49.20M47.60,136.27H49.20M47.60,135.38H49.20M47.60,134.60H49.20M47.60,133.91H49.20M47.60,129.27H49.20M47.60,126.91H49.20M47.60,125.23H49.20M47.60,123.93H49.20M47.60,122.87H49.20M47.60,121.98H49.20M47.60,121.20H49.20M47.60,120.51H49.20M46.60,167.40H49.20M46.60,160.10H49.20M46.60,146.70H49.20M46.60,133.30H49.20M46.60,119.90H49.20M47.80,172.80H49.20M47.80,171.10H49.20M47.80,169.70H49.20M47.80,164.80H49.20M47.80,162.80H49.20M65.73,174.30V175.90M68.09,174.30V175.90M69.77,174.30V175.90M71.07,174.30V175.90M72.13,174.30V175.90M73.02,174.30V175.90M73.80,174.30V175.90M74.49,174.30V175.90M79.13,174.30V175.90M81.49,174.30V175.90M83.17,174.30V175.90M84.47,174.30V175.90M85.53,174.30V175.90M86.42,174.30V175.90M87.20,174.30V175.90M87.89,174.30V175.90M92.53,174.30V175.90M94.89,174.30V175.90M96.57,174.30V175.90M97.87,174.30V175.90M98.93,174.30V175.90M99.82,174.30V175.90M100.60,174.30V175.90M101.29,174.30V175.90M54.70,174.30V176.90M61.70,174.30V176.90M75.10,174.30V176.90M88.50,174.30V176.90M101.90,174.30V176.90M50.70,174.30V175.70M52.20,174.30V175.70M57.20,174.30V175.70M59.20,174.30V175.70" stroke="#111" stroke-width="0.6" fill="none"/>
<text x="44.20" y="122.60" font-size="6.4" text-anchor="end" font-weight="normal" fill="#2a2a2a">10<tspan dy="-2.43" font-size="4.61">5</tspan></text>
<text x="44.20" y="136.00" font-size="6.4" text-anchor="end" font-weight="normal" fill="#2a2a2a">10<tspan dy="-2.43" font-size="4.61">4</tspan></text>
<text x="44.20" y="149.40" font-size="6.4" text-anchor="end" font-weight="normal" fill="#2a2a2a">10<tspan dy="-2.43" font-size="4.61">3</tspan></text>
<text x="44.20" y="164.40" font-size="6.4" text-anchor="end" font-weight="normal" fill="#2a2a2a">10<tspan dy="-2.43" font-size="4.61">2</tspan></text>
<text x="43.40" y="170.00" font-size="6.4" text-anchor="end" font-weight="normal" fill="#2a2a2a">0</text>
<text x="55.10" y="186.30" font-size="6.4" text-anchor="middle" font-weight="normal" fill="#2a2a2a">0</text>
<text x="62.80" y="186.30" font-size="6.4" text-anchor="middle" font-weight="normal" fill="#2a2a2a">10<tspan dy="-2.43" font-size="4.61">2</tspan></text>
<text x="76.70" y="186.30" font-size="6.4" text-anchor="middle" font-weight="normal" fill="#2a2a2a">10<tspan dy="-2.43" font-size="4.61">3</tspan></text>
<text x="90.50" y="186.30" font-size="6.4" text-anchor="middle" font-weight="normal" fill="#2a2a2a">10<tspan dy="-2.43" font-size="4.61">4</tspan></text>
<text x="104.40" y="186.30" font-size="6.4" text-anchor="middle" font-weight="normal" fill="#2a2a2a">10<tspan dy="-2.43" font-size="4.61">5</tspan></text>
<rect x="73.50" y="113.90" width="25.90" height="32.40" fill="none" stroke="#222" stroke-width="0.8"/>
<text x="86.50" y="135.20" font-size="7" text-anchor="middle" font-weight="normal" fill="#1a1a1a" stroke="#1a1a1a" stroke-width="0.04">8.1</text>
<g><path d="M182.6,162.5 179.0,162.5 178.6,162.1 178.2,162.1 177.8,161.7 177.4,161.7 176.1,160.4 176.1,160.0 175.7,159.6 175.7,159.2 175.3,158.8 175.3,158.0 174.9,157.6 174.9,156.8 174.5,156.4 174.4,154.8 174.0,154.4 174.0,152.4 173.6,152.0 173.6,146.4 173.2,146.0 173.3,139.6 173.7,139.2 173.7,137.2 174.1,136.8 174.1,135.6 174.4,135.2 174.5,134.0 174.9,133.6 174.9,133.2 175.3,132.8 175.3,132.0 175.7,131.6 175.7,131.2 176.5,130.4 176.5,130.0 177.4,129.1 177.8,129.1 178.6,128.3 179.4,128.3 179.8,127.9 183.4,127.9 183.8,128.3 184.6,128.3 185.0,128.7 185.8,128.7 187.5,130.4 187.5,130.8 187.9,131.2 187.9,132.0 188.3,132.4 188.3,133.6 188.7,134.0 188.7,135.2 189.1,135.6 189.1,136.4 189.5,136.8 189.6,151.2 189.2,151.6 189.1,154.0 188.7,154.4 188.7,156.4 188.3,156.8 188.3,157.6 187.9,158.0 187.9,158.4 187.5,158.8 187.5,159.2 187.1,159.6 187.1,160.0 185.4,161.7 185.0,161.7 184.6,162.1 183.0,162.1 182.6,162.5Z" fill="#0000ff"/><path d="M182.2,161.4 179.8,161.5 177.8,160.6 177.2,160.0 176.4,158.4 176.2,157.6 175.8,157.3 174.8,156.0 174.6,154.8 174.2,154.4 174.1,152.4 173.7,152.0 173.7,146.4 173.4,146.0 173.6,144.4 174.2,142.8 174.2,140.4 174.0,137.6 174.8,134.0 176.1,131.6 177.7,130.0 179.0,129.1 180.6,128.6 183.0,128.7 184.6,129.6 185.4,129.8 186.4,130.8 186.8,131.6 187.7,134.8 187.8,135.6 188.5,137.6 188.5,143.6 189.2,145.6 189.4,147.6 189.4,151.2 189.0,151.6 188.9,153.6 188.0,155.6 187.4,156.4 187.2,157.2 186.0,159.6 185.0,160.6 184.2,161.0 182.6,161.2 182.2,161.4Z" fill="#0039ff"/><path d="M181.8,158.5 180.2,158.5 178.6,158.2 177.4,157.7 176.2,156.9 175.4,156.0 174.5,154.0 174.3,152.4 174.0,152.0 173.9,151.2 174.0,146.4 173.8,145.6 174.4,143.6 175.4,142.0 174.8,140.4 174.4,138.0 174.7,136.0 175.0,135.2 175.1,134.4 176.1,132.4 176.8,131.6 177.7,130.8 179.4,130.1 180.6,129.9 182.6,130.2 184.2,131.0 185.5,132.4 186.2,133.6 186.8,135.2 187.0,136.8 187.1,138.0 186.7,140.0 186.8,142.0 188.5,145.2 188.9,146.8 189.0,148.8 189.0,150.8 188.7,151.6 188.5,153.2 187.4,155.6 186.1,156.8 184.6,157.7 183.4,158.2 181.8,158.5Z" fill="#0071ff"/><path d="M181.8,158.0 180.2,158.0 179.0,157.8 177.8,157.3 176.6,156.6 175.7,155.6 174.8,154.0 174.6,152.4 174.2,151.6 174.1,150.8 174.2,145.2 174.8,143.6 175.9,142.0 175.2,140.4 174.8,138.0 175.0,136.0 175.4,134.7 176.4,132.8 177.4,131.6 178.6,130.8 180.6,130.3 182.2,130.6 183.8,131.3 185.0,132.4 186.0,134.0 186.5,136.0 186.6,138.0 186.2,140.0 185.3,141.6 186.6,142.8 187.7,144.4 188.4,146.4 188.7,148.8 188.7,150.4 188.1,153.2 187.0,155.2 185.9,156.4 185.0,157.0 183.4,157.7 181.8,158.0Z" fill="#00aaff"/><path d="M181.8,157.6 180.2,157.6 179.0,157.4 177.4,156.6 176.2,155.6 175.0,153.6 174.7,152.0 174.5,151.6 174.4,150.8 174.4,148.4 174.6,145.2 175.3,143.6 176.2,142.4 176.3,141.6 175.6,140.4 175.1,138.0 175.3,136.4 175.7,134.8 176.8,132.8 177.5,132.0 178.6,131.2 179.8,130.8 180.6,130.8 182.2,131.0 183.5,131.6 184.6,132.5 185.5,134.0 186.2,136.0 186.3,138.0 185.9,139.6 185.0,141.7 185.1,142.0 186.6,143.5 187.4,144.8 188.1,146.8 188.3,148.8 188.3,150.4 187.7,153.2 186.5,155.2 185.4,156.2 184.2,156.9 183.0,157.4 181.8,157.6Z" fill="#00e3ff"/><path d="M181.8,157.2 180.6,157.3 179.0,156.9 177.8,156.4 176.8,155.6 175.4,153.6 174.7,151.2 174.6,150.4 174.6,148.0 175.0,145.2 175.5,144.0 176.5,142.8 176.6,142.4 176.6,141.6 175.9,140.0 175.5,138.0 175.6,136.4 176.0,134.8 177.2,132.8 177.8,132.2 179.0,131.5 180.6,131.1 182.2,131.4 183.4,132.0 184.3,132.8 185.3,134.4 185.9,136.4 185.9,138.0 185.5,139.6 184.6,141.2 184.7,142.0 186.2,143.6 187.2,145.2 187.8,147.2 188.0,149.2 188.0,150.4 187.4,152.8 186.2,154.8 185.4,155.6 184.2,156.4 183.0,156.9 181.8,157.2Z" fill="#00ffe3"/><path d="M181.8,156.8 180.6,156.9 179.4,156.6 178.2,156.2 177.0,155.3 175.8,153.6 174.9,151.2 174.9,150.4 174.9,148.0 175.4,145.2 175.8,144.3 176.9,142.8 177.0,141.2 176.2,139.7 175.8,138.0 175.9,136.4 176.3,134.8 177.8,132.7 179.0,131.9 180.2,131.5 181.8,131.7 183.0,132.2 184.2,133.2 185.0,134.6 185.5,136.4 185.5,138.0 185.1,139.6 184.2,141.2 184.4,142.4 185.8,143.8 186.7,145.2 187.3,146.8 187.7,148.8 187.6,150.4 187.1,152.4 186.8,153.2 186.0,154.4 185.3,155.2 184.2,156.0 183.0,156.5 181.8,156.8Z" fill="#00ffaa"/><path d="M181.8,156.4 180.6,156.4 179.4,156.2 178.2,155.7 177.4,155.2 175.9,153.2 175.2,151.2 175.1,150.0 175.2,147.6 175.8,145.2 176.2,144.4 177.3,143.2 177.3,142.8 177.4,141.2 176.7,140.0 176.2,138.4 176.2,136.6 176.5,135.2 177.0,134.2 178.2,132.8 179.4,132.1 180.6,131.9 181.8,132.1 183.2,132.8 184.0,133.6 184.7,134.8 185.1,136.4 185.2,138.0 184.7,139.6 183.8,141.2 184.0,142.4 184.1,142.8 185.4,143.9 186.3,145.2 187.0,146.8 187.3,148.8 187.3,150.0 186.8,152.0 186.6,152.8 185.8,154.0 185.1,154.8 184.2,155.5 183.0,156.1 181.8,156.4Z" fill="#00ff71"/><path d="M181.8,156.0 180.6,156.0 179.4,155.8 178.2,155.3 177.6,154.8 176.3,153.2 175.5,151.2 175.4,150.0 175.5,147.6 176.0,145.6 176.6,144.5 177.7,143.2 177.8,141.2 176.9,139.6 176.5,138.4 176.5,136.8 176.9,135.2 177.3,134.4 178.2,133.2 179.4,132.5 180.6,132.3 181.8,132.5 183.0,133.1 183.9,134.0 184.5,135.2 184.8,136.8 184.8,138.0 184.3,139.6 183.5,140.8 183.6,142.8 185.3,144.4 186.1,145.6 186.7,147.2 187.0,148.8 187.0,150.0 186.6,151.6 186.2,152.8 185.6,153.6 185.0,154.4 184.0,155.2 183.0,155.7 181.8,156.0Z" fill="#00ff39"/><path d="M181.4,155.6 180.2,155.6 179.0,155.2 178.2,154.8 177.4,154.1 176.7,153.2 175.8,151.2 175.6,149.6 175.8,147.6 176.4,145.6 176.8,144.8 178.1,143.6 178.2,143.2 178.2,140.8 177.4,139.8 176.8,138.4 176.8,136.8 177.1,135.6 177.6,134.4 178.6,133.4 179.4,132.9 180.6,132.7 181.8,132.9 183.0,133.6 183.7,134.4 184.2,135.5 184.5,136.8 184.4,138.0 183.9,139.6 182.9,140.8 183.2,142.8 183.2,143.2 184.8,144.4 185.8,145.8 186.5,147.6 186.7,149.2 186.7,150.0 186.1,152.0 185.2,153.6 184.2,154.6 183.4,155.1 181.4,155.6Z" fill="#00ff00"/><path d="M181.4,155.2 180.2,155.2 179.0,154.8 177.4,153.6 176.8,152.8 176.1,151.2 175.9,149.6 176.1,147.6 176.6,146.0 177.4,144.7 178.8,143.6 178.8,140.8 178.0,140.0 177.3,138.8 177.1,137.2 177.3,136.0 177.7,134.8 178.6,133.8 179.4,133.3 180.6,133.1 181.8,133.3 182.6,133.7 183.4,134.6 183.9,135.6 184.1,137.2 184.0,138.4 183.4,139.6 182.4,140.8 182.7,143.2 184.6,144.8 185.4,145.8 186.1,147.6 186.4,149.2 186.3,150.0 185.9,151.6 185.0,153.2 184.2,154.1 183.4,154.6 182.6,155.0 181.4,155.2Z" fill="#39ff00"/><path d="M181.4,154.8 180.2,154.8 179.4,154.5 178.6,154.1 177.5,153.2 176.4,151.2 176.2,149.6 176.4,147.6 177.0,146.0 177.9,144.8 179.4,143.6 179.5,140.8 178.2,139.6 177.7,138.8 177.4,137.2 177.6,136.0 177.9,135.2 178.6,134.3 179.4,133.7 180.6,133.4 181.4,133.5 182.3,134.0 183.0,134.7 183.5,135.6 183.8,137.2 183.6,138.4 183.0,139.5 181.8,140.8 182.1,143.2 182.2,143.6 183.8,144.6 185.0,145.9 185.8,147.6 186.0,149.2 186.0,150.0 185.7,151.2 184.9,152.8 183.4,154.2 182.6,154.5 181.4,154.8Z" fill="#71ff00"/><path d="M181.0,140.5 180.2,140.5 179.0,139.9 178.1,138.8 177.7,137.6 177.8,136.4 178.3,135.2 179.0,134.4 180.2,133.9 181.4,134.0 182.2,134.4 183.1,135.6 183.4,136.8 183.3,138.0 182.7,139.2 182.0,140.0 181.0,140.5ZM181.4,154.4 180.2,154.4 179.4,154.1 178.0,153.2 177.4,152.5 176.8,151.2 176.4,149.6 176.7,147.6 177.4,146.0 178.6,144.7 180.6,143.6 180.6,142.0 181.0,142.0 181.2,142.8 181.1,143.6 183.4,144.8 184.2,145.5 184.8,146.4 185.4,147.6 185.7,149.2 185.4,150.9 184.6,152.6 183.8,153.4 183.0,153.9 181.4,154.4Z" fill="#aaff00"/><path d="M181.4,139.8 180.6,140.0 179.4,139.6 178.5,138.8 178.1,137.6 178.1,136.4 178.6,135.3 179.4,134.6 180.2,134.3 181.0,134.3 181.8,134.6 182.6,135.5 183.0,136.4 183.0,137.6 182.7,138.4 182.2,139.2 181.4,139.8ZM181.4,154.0 179.8,153.8 179.0,153.5 178.2,152.9 177.5,152.0 177.0,151.0 176.7,149.6 177.0,147.6 177.9,146.0 178.6,145.3 179.4,144.7 181.0,144.2 182.6,144.8 184.1,146.0 185.0,147.6 185.3,149.2 185.1,150.8 184.3,152.4 183.0,153.5 181.4,154.0Z" fill="#e3ff00"/><path d="M181.4,139.3 180.6,139.5 179.8,139.3 179.0,138.8 178.5,138.0 178.4,137.2 178.6,136.0 179.0,135.3 179.8,134.8 180.6,134.6 181.4,134.8 181.9,135.2 182.5,136.0 182.6,136.8 182.5,138.0 182.0,138.8 181.4,139.3ZM181.4,153.6 179.8,153.4 178.6,152.8 177.4,151.2 177.1,149.6 177.4,147.6 178.2,146.2 179.4,145.2 180.2,144.9 181.0,144.7 181.8,144.9 182.6,145.3 183.8,146.3 184.6,147.6 185.0,149.2 184.7,150.8 184.1,152.0 183.0,153.0 181.4,153.6Z" fill="#ffe300"/><path d="M181.0,138.9 180.2,139.0 179.4,138.6 179.0,138.0 178.7,137.2 179.0,135.9 179.4,135.4 180.2,135.1 181.0,135.1 181.4,135.3 181.8,135.6 182.2,136.4 182.3,137.2 182.0,138.0 181.8,138.4 181.0,138.9ZM181.4,153.2 179.8,153.0 178.6,152.3 177.6,150.8 177.4,149.6 177.6,148.0 178.2,146.8 179.4,145.7 180.2,145.4 181.0,145.2 182.2,145.5 183.4,146.4 184.2,147.6 184.6,149.2 184.3,150.8 183.6,152.0 182.6,152.8 181.4,153.2Z" fill="#ffaa00"/><path d="M181.0,138.4 180.2,138.5 179.8,138.3 179.4,138.0 179.1,137.2 179.2,136.4 179.4,136.0 180.2,135.5 181.1,135.6 181.8,136.4 181.8,137.6 181.4,138.1 181.0,138.4ZM181.0,152.8 179.8,152.6 178.9,152.0 178.0,150.8 177.7,149.6 177.8,148.4 178.6,147.0 179.8,146.0 181.0,145.7 182.2,146.0 183.2,146.8 183.9,148.0 184.2,149.2 184.1,150.4 183.4,151.6 182.2,152.5 181.0,152.8Z" fill="#ff7100"/><path d="M181.0,137.8 180.2,138.0 179.7,137.6 179.4,136.8 179.8,136.1 180.6,135.8 181.0,136.0 181.3,136.4 181.4,137.2 181.0,137.8ZM181.0,152.4 179.8,152.2 179.0,151.6 178.2,150.4 178.1,149.6 178.2,148.4 178.9,147.2 179.8,146.5 181.0,146.2 181.9,146.4 183.0,147.2 183.5,148.0 183.8,149.2 183.7,150.4 183.0,151.5 182.2,152.1 181.0,152.4Z" fill="#ff3900"/><path d="M180.6,137.5 180.2,137.5 179.9,137.2 179.8,136.8 180.2,136.3 180.6,136.3 181.0,136.8 180.9,137.2 180.6,137.5ZM181.0,152.0 179.8,151.7 179.1,151.2 178.6,150.4 178.4,149.6 178.6,148.4 179.1,147.6 179.8,147.0 181.0,146.7 181.8,146.9 182.6,147.4 183.2,148.4 183.4,149.2 183.2,150.4 182.7,151.2 181.8,151.9 181.0,152.0Z" fill="#ff0000"/></g>
<rect x="146.50" y="113.90" width="61.20" height="60.40" fill="none" stroke="#111" stroke-width="0.9"/>
<path d="M144.90,156.07H146.50M144.90,153.71H146.50M144.90,152.03H146.50M144.90,150.73H146.50M144.90,149.67H146.50M144.90,148.78H146.50M144.90,148.00H146.50M144.90,147.31H146.50M144.90,142.67H146.50M144.90,140.31H146.50M144.90,138.63H146.50M144.90,137.33H146.50M144.90,136.27H146.50M144.90,135.38H146.50M144.90,134.60H146.50M144.90,133.91H146.50M144.90,129.27H146.50M144.90,126.91H146.50M144.90,125.23H146.50M144.90,123.93H146.50M144.90,122.87H146.50M144.90,121.98H146.50M144.90,121.20H146.50M144.90,120.51H146.50M143.90,167.40H146.50M143.90,160.10H146.50M143.90,146.70H146.50M143.90,133.30H146.50M143.90,119.90H146.50M145.10,172.80H146.50M145.10,171.10H146.50M145.10,169.70H146.50M145.10,164.80H146.50M145.10,162.80H146.50M163.03,174.30V175.90M165.39,174.30V175.90M167.07,174.30V175.90M168.37,174.30V175.90M169.43,174.30V175.90M170.32,174.30V175.90M171.10,174.30V175.90M171.79,174.30V175.90M176.43,174.30V175.90M178.79,174.30V175.90M180.47,174.30V175.90M181.77,174.30V175.90M182.83,174.30V175.90M183.72,174.30V175.90M184.50,174.30V175.90M185.19,174.30V175.90M189.83,174.30V175.90M192.19,174.30V175.90M193.87,174.30V175.90M195.17,174.30V175.90M196.23,174.30V175.90M197.12,174.30V175.90M197.90,174.30V175.90M198.59,174.30V175.90M152.00,174.30V176.90M159.00,174.30V176.90M172.40,174.30V176.90M185.80,174.30V176.90M199.20,174.30V176.90M148.00,174.30V175.70M149.50,174.30V175.70M154.50,174.30V175.70M156.50,174.30V175.70" stroke="#111" stroke-width="0.6" fill="none"/>
<text x="141.50" y="122.60" font-size="6.4" text-anchor="end" font-weight="normal" fill="#2a2a2a">10<tspan dy="-2.43" font-size="4.61">5</tspan></text>
<text x="141.50" y="136.00" font-size="6.4" text-anchor="end" font-weight="normal" fill="#2a2a2a">10<tspan dy="-2.43" font-size="4.61">4</tspan></text>
<text x="141.50" y="149.40" font-size="6.4" text-anchor="end" font-weight="normal" fill="#2a2a2a">10<tspan dy="-2.43" font-size="4.61">3</tspan></text>
<text x="141.50" y="164.40" font-size="6.4" text-anchor="end" font-weight="normal" fill="#2a2a2a">10<tspan dy="-2.43" font-size="4.61">2</tspan></text>
<text x="140.70" y="170.00" font-size="6.4" text-anchor="end" font-weight="normal" fill="#2a2a2a">0</text>
<text x="152.40" y="186.30" font-size="6.4" text-anchor="middle" font-weight="normal" fill="#2a2a2a">0</text>
<text x="160.10" y="186.30" font-size="6.4" text-anchor="middle" font-weight="normal" fill="#2a2a2a">10<tspan dy="-2.43" font-size="4.61">2</tspan></text>
<text x="174.00" y="186.30" font-size="6.4" text-anchor="middle" font-weight="normal" fill="#2a2a2a">10<tspan dy="-2.43" font-size="4.61">3</tspan></text>
<text x="187.80" y="186.30" font-size="6.4" text-anchor="middle" font-weight="normal" fill="#2a2a2a">10<tspan dy="-2.43" font-size="4.61">4</tspan></text>
<text x="201.70" y="186.30" font-size="6.4" text-anchor="middle" font-weight="normal" fill="#2a2a2a">10<tspan dy="-2.43" font-size="4.61">5</tspan></text>
<rect x="168.30" y="113.90" width="31.30" height="28.80" fill="none" stroke="#222" stroke-width="0.8"/>
<rect x="193.40" y="117.80" width="9" height="7" fill="#fff"/>
<text x="197.90" y="123.30" font-size="7" text-anchor="middle" font-weight="normal" fill="#1a1a1a" stroke="#1a1a1a" stroke-width="0.04">41</text>
<g><path d="M271.7,160.5 269.7,160.5 269.3,160.1 268.5,160.1 268.1,159.7 267.3,159.7 266.9,159.3 265.3,159.3 264.9,158.9 264.1,158.9 263.7,158.5 263.3,158.5 262.8,158.0 262.8,157.6 262.0,156.8 262.0,156.0 261.6,155.6 261.6,154.8 261.2,154.4 261.2,153.6 260.8,153.2 260.8,152.0 260.4,151.6 260.4,145.6 260.8,145.2 260.8,144.0 261.2,143.6 261.2,142.4 261.6,142.0 261.6,141.2 262.0,140.8 262.0,139.2 262.4,138.8 262.4,136.8 262.8,136.4 262.8,134.0 263.2,133.6 263.2,132.4 263.6,132.0 263.6,131.6 264.0,131.2 264.0,130.8 264.4,130.4 264.4,130.0 265.2,129.2 265.2,128.8 266.4,127.6 266.4,127.2 266.9,126.7 267.3,126.7 268.1,125.9 268.9,125.9 269.3,125.5 275.3,125.5 275.7,125.9 276.9,125.9 279.8,128.8 279.8,129.2 280.2,129.6 280.2,130.4 280.6,130.8 280.6,131.6 281.0,132.0 281.0,139.2 280.6,139.6 280.6,141.6 280.2,142.0 280.2,143.2 279.9,143.6 279.9,145.2 279.5,145.6 279.5,147.2 279.1,147.6 279.1,149.2 278.7,149.6 278.7,150.8 278.3,151.2 278.3,152.0 277.9,152.4 277.9,153.2 277.5,153.6 277.5,154.4 277.1,154.8 277.0,155.6 276.6,156.0 276.6,156.4 275.8,157.2 275.8,157.6 275.3,158.1 274.9,158.1 273.3,159.7 272.9,159.7 272.5,160.1 272.1,160.1 271.7,160.5Z" fill="#0000ff"/><path d="M271.3,159.4 270.5,159.5 267.3,158.4 266.1,158.3 264.5,157.8 264.1,157.6 263.1,156.4 261.4,150.8 261.4,146.4 261.7,145.6 262.3,142.8 262.9,141.2 263.0,140.0 263.4,138.8 263.4,137.6 263.8,136.4 263.8,134.8 264.1,134.0 264.2,133.2 265.5,130.4 267.3,128.0 268.5,127.0 270.1,126.5 274.5,126.5 275.3,126.8 276.5,127.0 278.7,129.2 279.9,132.4 280.0,132.8 280.0,138.4 279.6,139.6 279.6,141.2 280.0,143.2 279.7,143.6 279.8,145.2 279.4,145.6 279.4,147.2 279.0,147.6 279.0,149.2 278.6,149.6 278.6,150.8 278.2,151.2 278.2,152.0 277.8,152.4 277.8,153.2 277.4,153.6 277.3,154.4 276.9,154.8 276.8,155.2 276.1,156.1 275.0,156.8 274.9,157.1 274.1,157.6 272.9,158.7 271.3,159.4Z" fill="#0039ff"/><path d="M272.9,156.8 271.7,156.9 270.1,156.6 267.3,155.3 266.1,154.4 265.0,153.2 264.0,151.6 263.4,150.0 263.2,148.4 263.3,146.8 263.8,144.8 264.4,143.6 266.4,140.8 267.3,135.6 268.1,133.2 269.3,131.2 270.1,130.3 270.9,129.8 272.1,129.6 273.3,129.7 274.5,130.3 275.4,131.2 276.1,132.4 276.6,133.6 277.2,136.0 277.6,140.0 278.7,141.2 279.3,142.4 279.5,144.8 279.2,145.6 279.3,147.2 278.9,147.6 278.9,149.2 278.5,149.6 278.5,150.8 278.1,151.2 278.0,152.0 277.7,152.4 277.1,154.0 276.3,155.2 275.4,156.0 274.1,156.6 272.9,156.8Z" fill="#0071ff"/><path d="M274.1,156.1 272.1,156.4 270.5,156.2 268.9,155.6 266.9,154.4 265.7,153.3 264.8,152.0 264.1,150.4 263.7,148.8 263.8,146.8 264.6,144.4 266.1,142.1 267.9,140.4 267.9,137.6 268.4,135.6 268.9,134.8 269.7,133.9 270.5,133.4 271.7,133.0 272.9,133.1 273.7,133.5 274.5,134.0 275.3,135.0 275.8,136.0 276.2,137.2 276.3,139.6 277.7,140.8 278.6,142.0 278.9,142.8 279.2,144.8 279.0,145.6 279.1,146.8 278.7,147.6 278.7,148.8 278.3,149.6 278.3,150.4 277.3,152.8 276.7,154.0 275.7,155.2 274.9,155.8 274.1,156.1Z" fill="#00aaff"/><path d="M274.1,155.6 272.5,155.9 270.9,155.8 269.3,155.3 267.7,154.4 266.5,153.4 265.4,152.0 264.6,150.4 264.2,148.8 264.3,146.8 265.0,144.8 266.1,142.8 268.1,140.7 268.3,140.0 268.3,137.6 268.7,136.0 269.3,135.0 270.1,134.2 270.9,133.8 271.7,133.6 272.5,133.6 273.3,133.8 274.1,134.3 274.9,135.2 275.3,136.0 275.7,137.2 275.9,139.6 276.1,140.0 277.5,141.2 278.1,142.0 278.4,142.4 278.9,144.4 278.8,146.8 278.5,147.6 278.5,148.8 278.3,149.2 278.1,150.4 277.8,150.8 277.6,151.6 277.0,152.8 275.7,154.6 274.9,155.3 274.1,155.6Z" fill="#00e3ff"/><path d="M273.7,155.3 272.5,155.5 270.9,155.4 269.3,154.9 267.9,154.0 266.6,152.8 265.7,151.6 265.0,150.0 264.7,148.8 264.8,146.8 265.5,144.8 266.5,143.0 268.1,141.4 268.7,140.0 268.7,137.6 269.2,136.0 270.1,134.8 270.9,134.3 271.7,134.1 272.5,134.1 273.3,134.4 274.1,134.9 274.6,135.6 275.3,137.2 275.4,139.2 275.6,139.6 276.1,140.7 277.2,141.6 277.8,142.4 278.5,144.4 278.6,146.8 278.3,147.6 278.3,148.8 277.3,151.6 276.7,152.8 275.7,154.0 274.9,154.8 273.7,155.3Z" fill="#00ffe3"/><path d="M273.7,154.9 272.5,155.1 270.9,155.0 269.3,154.4 268.1,153.6 267.2,152.8 266.3,151.6 265.5,150.0 265.2,148.8 265.3,146.8 265.9,144.8 266.9,143.2 268.5,141.5 269.1,139.6 269.0,138.0 269.5,136.4 270.5,135.1 271.7,134.6 272.5,134.6 273.3,134.9 274.4,136.0 275.0,137.6 275.0,139.2 276.0,141.2 277.3,142.4 278.2,144.4 278.3,146.4 278.1,148.4 277.6,150.4 276.6,152.4 275.7,153.6 274.5,154.5 273.7,154.9Z" fill="#00ffaa"/><path d="M273.7,154.4 272.5,154.6 270.9,154.5 269.7,154.1 268.5,153.4 267.4,152.4 266.5,151.2 266.0,150.0 265.7,148.8 265.7,147.2 266.1,145.6 267.2,143.6 268.7,142.0 269.5,139.6 269.4,138.0 269.7,136.8 270.5,135.7 271.7,135.1 272.9,135.3 273.7,135.8 274.1,136.4 274.6,137.6 274.6,139.2 275.7,141.5 276.9,142.6 277.7,144.0 278.1,146.4 277.9,148.4 277.5,150.0 276.9,151.3 276.2,152.4 275.3,153.5 273.7,154.4Z" fill="#00ff71"/><path d="M273.3,154.1 272.1,154.2 270.9,154.1 269.7,153.6 268.5,152.9 267.6,152.0 266.8,150.8 266.3,149.6 266.1,148.4 266.2,146.8 266.7,145.2 267.7,143.6 268.9,142.4 269.8,139.6 269.8,138.0 270.1,137.0 270.9,136.0 271.7,135.6 272.9,135.8 273.8,136.8 274.2,137.6 274.3,139.2 275.3,141.6 276.5,142.8 277.3,144.0 277.8,146.4 277.6,148.4 277.2,150.0 276.6,151.2 275.8,152.4 275.0,153.2 274.1,153.8 273.3,154.1Z" fill="#00ff39"/><path d="M273.3,153.7 272.1,153.8 270.9,153.6 269.8,153.2 268.9,152.6 268.1,151.9 267.3,150.8 266.8,149.6 266.6,148.4 266.6,146.8 267.2,145.2 267.9,144.0 269.3,142.5 270.3,139.2 270.2,138.0 270.5,137.2 271.3,136.3 272.1,136.1 272.9,136.4 273.6,137.2 273.8,138.0 273.9,139.2 274.5,140.4 275.1,142.0 276.9,144.0 277.5,146.4 277.4,148.4 276.9,150.0 276.3,151.2 274.9,152.8 274.1,153.4 273.3,153.7Z" fill="#00ff00"/><path d="M273.3,153.2 272.5,153.4 271.3,153.3 270.1,152.9 269.3,152.4 268.4,151.6 267.7,150.6 267.2,149.6 267.0,148.4 267.0,147.2 267.5,145.6 268.2,144.4 269.7,142.8 270.1,140.9 270.7,139.2 270.6,138.4 270.8,137.6 271.3,136.9 272.1,136.6 272.9,137.0 273.3,137.6 273.5,139.2 274.1,140.4 274.8,142.4 276.4,144.0 276.9,145.1 277.2,146.4 277.1,148.4 276.6,150.0 276.1,151.0 274.9,152.4 274.1,152.9 273.3,153.2Z" fill="#39ff00"/><path d="M272.9,152.9 272.1,152.9 270.9,152.7 270.1,152.4 269.0,151.6 267.9,150.0 267.6,149.2 267.4,148.0 267.5,146.8 268.1,145.3 268.9,144.2 270.0,143.2 270.5,141.0 271.2,139.2 271.0,138.4 271.2,137.6 271.7,137.2 272.1,137.1 272.5,137.3 272.9,137.8 273.0,139.2 273.8,140.8 274.5,142.8 275.5,143.6 276.1,144.3 276.7,145.6 276.9,146.4 276.8,148.4 276.3,150.0 275.9,150.8 274.5,152.2 272.9,152.9Z" fill="#71ff00"/><path d="M272.9,152.4 272.1,152.5 270.9,152.3 269.3,151.3 268.6,150.4 268.2,149.6 267.8,148.0 268.0,146.8 268.4,145.6 269.0,144.8 270.3,143.6 270.5,143.2 271.0,141.2 271.8,139.2 271.4,138.4 271.5,138.0 271.7,137.8 272.1,137.6 272.5,138.0 272.6,138.4 272.3,139.2 273.3,140.9 274.1,143.2 274.9,143.6 275.7,144.4 276.5,146.0 276.6,146.8 276.5,148.4 276.2,149.6 275.7,150.5 274.5,151.8 272.9,152.4Z" fill="#aaff00"/><path d="M272.1,138.4 272.1,138.4ZM272.9,152.0 271.3,151.9 270.5,151.6 269.7,151.0 268.6,149.6 268.3,148.0 268.4,146.8 268.9,145.7 269.7,144.6 271.1,143.6 271.5,142.0 271.7,141.4 272.1,141.0 272.5,141.2 272.9,141.7 273.5,143.2 274.9,144.2 275.7,145.1 276.1,146.0 276.3,147.2 276.3,148.0 276.1,148.9 275.9,149.6 275.3,150.5 274.1,151.6 272.9,152.0Z" fill="#e3ff00"/><path d="M272.5,151.6 270.9,151.3 269.7,150.4 269.0,149.2 268.7,148.0 269.0,146.4 269.7,145.3 270.7,144.4 272.1,143.5 272.5,143.5 274.4,144.4 275.3,145.2 275.9,146.4 276.0,148.0 275.5,149.6 274.9,150.5 273.7,151.3 272.5,151.6Z" fill="#ffe300"/><path d="M273.7,150.9 272.5,151.2 271.7,151.1 270.9,150.8 269.9,150.0 269.3,148.8 269.2,147.2 269.7,146.0 270.9,144.8 272.1,144.3 273.3,144.4 274.5,145.0 275.3,146.0 275.6,146.8 275.7,148.0 275.3,149.3 274.5,150.4 273.7,150.9Z" fill="#ffaa00"/><path d="M273.7,150.5 272.5,150.8 271.3,150.5 270.5,149.9 269.8,148.8 269.6,147.6 270.0,146.4 270.6,145.6 271.7,144.9 272.5,144.7 273.7,145.0 274.5,145.6 275.2,146.8 275.4,148.0 275.2,148.8 274.5,149.9 273.7,150.5Z" fill="#ff7100"/><path d="M273.7,150.0 272.9,150.3 271.7,150.2 270.8,149.6 270.3,148.8 270.1,148.0 270.3,146.8 270.9,146.0 271.7,145.4 272.5,145.2 273.7,145.5 274.3,146.0 274.8,146.8 275.0,147.6 274.9,148.5 274.5,149.3 273.7,150.0Z" fill="#ff3900"/><path d="M273.3,149.8 272.5,149.9 271.7,149.7 271.1,149.2 270.6,148.4 270.6,147.6 270.9,146.8 271.3,146.3 272.1,145.8 272.9,145.8 273.7,146.1 274.1,146.4 274.6,147.2 274.6,148.0 274.4,148.8 274.1,149.2 273.3,149.8Z" fill="#ff0000"/></g>
<rect x="234.00" y="113.90" width="61.20" height="60.40" fill="none" stroke="#111" stroke-width="0.9"/>
<path d="M232.40,156.07H234.00M232.40,153.71H234.00M232.40,152.03H234.00M232.40,150.73H234.00M232.40,149.67H234.00M232.40,148.78H234.00M232.40,148.00H234.00M232.40,147.31H234.00M232.40,142.67H234.00M232.40,140.31H234.00M232.40,138.63H234.00M232.40,137.33H234.00M232.40,136.27H234.00M232.40,135.38H234.00M232.40,134.60H234.00M232.40,133.91H234.00M232.40,129.27H234.00M232.40,126.91H234.00M232.40,125.23H234.00M232.40,123.93H234.00M232.40,122.87H234.00M232.40,121.98H234.00M232.40,121.20H234.00M232.40,120.51H234.00M231.40,167.40H234.00M231.40,160.10H234.00M231.40,146.70H234.00M231.40,133.30H234.00M231.40,119.90H234.00M232.60,172.80H234.00M232.60,171.10H234.00M232.60,169.70H234.00M232.60,164.80H234.00M232.60,162.80H234.00M250.53,174.30V175.90M252.89,174.30V175.90M254.57,174.30V175.90M255.87,174.30V175.90M256.93,174.30V175.90M257.82,174.30V175.90M258.60,174.30V175.90M259.29,174.30V175.90M263.93,174.30V175.90M266.29,174.30V175.90M267.97,174.30V175.90M269.27,174.30V175.90M270.33,174.30V175.90M271.22,174.30V175.90M272.00,174.30V175.90M272.69,174.30V175.90M277.33,174.30V175.90M279.69,174.30V175.90M281.37,174.30V175.90M282.67,174.30V175.90M283.73,174.30V175.90M284.62,174.30V175.90M285.40,174.30V175.90M286.09,174.30V175.90M239.50,174.30V176.90M246.50,174.30V176.90M259.90,174.30V176.90M273.30,174.30V176.90M286.70,174.30V176.90M235.50,174.30V175.70M237.00,174.30V175.70M242.00,174.30V175.70M244.00,174.30V175.70" stroke="#111" stroke-width="0.6" fill="none"/>
<text x="229.00" y="122.60" font-size="6.4" text-anchor="end" font-weight="normal" fill="#2a2a2a">10<tspan dy="-2.43" font-size="4.61">5</tspan></text>
<text x="229.00" y="136.00" font-size="6.4" text-anchor="end" font-weight="normal" fill="#2a2a2a">10<tspan dy="-2.43" font-size="4.61">4</tspan></text>
<text x="229.00" y="149.40" font-size="6.4" text-anchor="end" font-weight="normal" fill="#2a2a2a">10<tspan dy="-2.43" font-size="4.61">3</tspan></text>
<text x="229.00" y="164.40" font-size="6.4" text-anchor="end" font-weight="normal" fill="#2a2a2a">10<tspan dy="-2.43" font-size="4.61">2</tspan></text>
<text x="228.20" y="170.00" font-size="6.4" text-anchor="end" font-weight="normal" fill="#2a2a2a">0</text>
<text x="239.90" y="186.30" font-size="6.4" text-anchor="middle" font-weight="normal" fill="#2a2a2a">0</text>
<text x="247.60" y="186.30" font-size="6.4" text-anchor="middle" font-weight="normal" fill="#2a2a2a">10<tspan dy="-2.43" font-size="4.61">2</tspan></text>
<text x="261.50" y="186.30" font-size="6.4" text-anchor="middle" font-weight="normal" fill="#2a2a2a">10<tspan dy="-2.43" font-size="4.61">3</tspan></text>
<text x="275.30" y="186.30" font-size="6.4" text-anchor="middle" font-weight="normal" fill="#2a2a2a">10<tspan dy="-2.43" font-size="4.61">4</tspan></text>
<text x="289.20" y="186.30" font-size="6.4" text-anchor="middle" font-weight="normal" fill="#2a2a2a">10<tspan dy="-2.43" font-size="4.61">5</tspan></text>
<rect x="259.40" y="113.90" width="23.10" height="29.40" fill="none" stroke="#222" stroke-width="0.8"/>
<text x="270.60" y="124.50" font-size="7" text-anchor="middle" font-weight="normal" fill="#1a1a1a" stroke="#1a1a1a" stroke-width="0.04">40</text>
<g><path d="M374.0,173.8 362.8,173.9 360.8,173.9 360.5,173.6 360.7,170.4 360.3,170.0 360.3,165.2 359.9,164.8 359.9,162.4 359.5,162.0 359.4,153.2 359.8,152.8 359.8,148.8 359.5,148.4 359.5,140.8 359.9,140.4 359.9,138.8 360.3,138.4 360.3,135.2 360.7,134.8 360.7,133.6 361.1,133.2 361.1,132.8 361.5,132.4 361.5,132.0 362.3,131.2 362.3,130.8 363.6,129.5 364.0,129.5 364.4,129.1 364.8,129.1 365.2,128.7 368.0,128.7 368.4,129.1 369.2,129.1 369.6,129.5 370.4,129.5 370.8,129.9 371.6,129.9 372.0,130.3 372.4,130.3 372.9,130.8 372.9,131.2 373.3,131.6 373.3,132.0 373.7,132.4 373.7,134.0 374.1,134.4 374.1,138.0 374.5,138.4 374.5,140.4 374.9,140.8 374.9,162.8 374.5,163.2 374.5,167.2 374.1,167.6 374.5,168.0 374.5,169.2 374.1,169.6 374.2,173.6 374.0,173.8Z" fill="#0000ff"/><path d="M374.0,173.7 371.6,173.9 365.2,174.0 361.2,173.8 360.8,173.8 360.6,173.6 360.8,172.2 361.3,172.0 361.7,171.6 361.7,170.4 361.3,169.2 361.2,167.2 360.5,163.2 360.3,162.4 359.9,161.6 359.8,160.8 359.6,159.0 359.5,153.2 359.9,152.8 360.0,148.8 359.7,148.4 359.7,148.0 360.3,144.4 360.7,139.2 360.9,138.4 361.1,136.0 361.7,134.0 362.1,133.2 363.4,131.2 364.0,130.6 366.0,129.7 367.2,129.7 371.6,131.2 372.0,131.6 372.6,132.8 372.8,134.4 373.1,135.2 373.1,138.0 373.5,139.2 373.6,140.8 373.9,141.6 373.9,147.2 374.3,150.4 374.5,153.2 374.4,156.4 374.0,160.0 373.9,162.0 373.5,163.2 373.5,166.4 373.1,167.6 373.4,168.4 373.1,169.6 373.1,171.6 373.2,172.0 373.6,172.1 374.0,172.6 374.1,173.6 374.0,173.7Z" fill="#0039ff"/><path d="M374.0,173.6 372.4,173.8 367.2,173.9 362.0,173.8 360.7,173.6 360.8,172.5 362.0,171.9 362.8,171.7 365.8,171.6 364.6,170.0 363.6,169.4 362.8,168.6 361.9,166.8 360.8,162.1 360.4,161.2 360.1,160.0 359.9,157.2 359.8,153.6 360.1,152.8 360.3,148.8 360.2,147.6 360.5,146.0 361.5,143.6 361.2,141.6 361.3,139.6 361.9,136.0 362.5,134.4 363.5,132.8 364.8,131.6 366.0,131.2 366.8,131.1 367.6,131.3 369.2,132.2 370.4,133.4 371.4,135.6 372.1,139.6 372.0,142.0 371.7,144.4 372.7,146.4 373.4,148.4 373.7,150.4 373.9,152.4 373.8,156.8 373.2,160.0 372.6,161.6 370.9,164.4 370.5,166.0 369.6,168.8 368.8,170.3 368.1,171.2 368.6,171.6 371.6,171.7 372.4,171.9 373.6,172.5 373.9,172.8 374.0,173.6Z" fill="#0071ff"/><path d="M366.4,169.2 365.2,169.2 364.0,168.7 363.2,167.9 362.6,166.8 360.5,159.6 360.2,157.2 360.1,154.0 360.4,152.8 360.6,147.6 361.1,146.0 361.7,144.8 362.0,143.2 361.9,142.0 361.9,140.0 362.4,136.4 363.2,134.5 364.0,133.4 365.2,132.4 366.4,132.0 368.0,132.4 369.2,133.2 370.0,134.2 370.8,136.0 371.4,139.6 371.4,142.0 371.1,144.0 371.2,144.8 372.3,146.8 372.9,148.8 373.4,151.2 373.5,154.0 373.1,158.0 372.8,159.6 372.2,161.2 370.4,163.9 369.9,164.8 369.5,166.4 368.8,167.6 367.6,168.8 366.4,169.2ZM373.6,173.6 370.0,173.9 363.2,173.9 360.8,173.6 360.8,173.2 360.8,172.8 361.3,172.4 362.8,171.9 365.2,171.7 370.0,171.7 371.6,171.8 373.1,172.4 373.6,172.8 373.7,173.6 373.6,173.6Z" fill="#00aaff"/><path d="M366.4,168.4 365.2,168.4 364.4,168.1 363.6,167.3 363.0,166.4 361.9,163.6 360.8,159.2 360.5,156.8 360.4,154.0 360.7,152.8 361.1,147.6 362.0,145.2 362.5,143.2 362.4,140.0 363.0,136.4 363.8,134.8 364.4,134.1 365.6,133.2 366.4,133.0 367.6,133.2 368.8,133.9 369.6,135.0 370.2,136.4 370.6,138.0 370.8,140.0 370.5,143.6 371.0,145.6 371.9,147.2 372.5,149.2 373.0,151.6 373.1,154.0 372.8,157.6 372.4,159.2 371.8,160.8 370.4,162.9 368.4,166.9 367.6,167.8 366.4,168.4ZM373.2,173.7 367.2,173.9 362.8,173.8 361.0,173.6 361.1,172.8 361.6,172.4 362.4,172.1 364.4,171.8 368.0,171.8 370.8,171.9 372.4,172.2 373.3,172.8 373.4,173.6 373.2,173.7Z" fill="#00e3ff"/><path d="M366.0,167.6 364.8,167.4 364.0,166.7 362.3,163.6 361.0,158.0 360.7,154.0 360.9,153.2 361.5,147.6 362.2,146.0 363.1,142.8 363.0,140.0 363.6,136.8 364.0,135.9 364.8,134.7 365.6,134.2 366.8,133.9 367.6,134.2 368.5,134.8 369.4,136.0 369.8,137.2 370.2,140.0 369.9,143.2 370.7,146.0 371.6,147.8 372.2,149.6 372.6,152.0 372.7,154.4 372.2,158.0 371.2,160.8 370.4,162.0 369.3,164.4 367.9,166.4 367.2,167.2 366.0,167.6ZM372.8,173.7 367.2,173.9 363.2,173.8 361.2,173.6 361.4,172.8 362.0,172.4 362.8,172.1 364.8,171.9 368.0,171.8 370.8,172.0 372.4,172.4 373.0,172.8 373.1,173.2 373.2,173.6 372.8,173.7Z" fill="#00ffe3"/><path d="M366.8,166.5 365.6,166.8 364.8,166.5 363.6,165.2 362.7,163.6 361.2,157.6 361.0,154.0 361.2,153.2 361.5,150.0 362.0,147.6 362.6,146.4 363.8,142.4 363.6,140.0 364.0,137.5 364.5,136.4 365.2,135.5 366.0,135.0 366.8,134.9 367.6,135.2 368.2,135.6 368.8,136.5 369.3,137.6 369.6,140.0 369.3,142.8 370.3,146.4 371.1,148.0 371.7,149.6 372.1,151.6 372.3,154.0 372.0,156.9 371.2,159.6 370.1,161.6 369.5,163.2 368.8,164.4 368.2,165.2 366.8,166.5ZM372.8,173.6 367.2,173.9 361.5,173.6 361.7,172.8 362.8,172.3 364.4,172.0 367.6,171.9 370.4,172.0 372.0,172.4 372.7,172.8 372.9,173.2 372.8,173.6Z" fill="#00ffaa"/><path d="M366.8,165.8 365.6,166.0 364.8,165.8 364.0,165.1 363.0,163.6 361.6,157.5 361.3,154.4 362.0,149.4 364.4,142.4 364.2,140.0 364.5,138.0 364.8,137.2 365.4,136.4 366.0,136.0 366.8,135.9 367.6,136.2 368.0,136.6 368.8,138.4 369.0,140.4 368.6,142.4 369.4,144.8 369.9,146.8 370.8,148.4 371.3,150.0 371.7,152.0 371.9,154.0 371.6,156.8 370.9,159.2 370.0,160.8 368.6,164.0 367.6,165.2 366.8,165.8ZM372.4,173.6 367.2,173.9 361.8,173.6 362.0,172.8 362.8,172.4 364.8,172.1 367.6,172.0 370.0,172.1 371.7,172.4 372.4,172.8 372.6,173.6 372.4,173.6Z" fill="#00ff71"/><path d="M366.8,165.3 365.6,165.6 364.8,165.3 364.0,164.5 363.5,163.6 362.7,160.8 362.5,159.2 361.9,157.2 361.6,154.4 362.0,151.2 362.3,149.6 363.3,147.2 364.3,144.0 365.2,142.0 364.8,140.4 364.9,138.8 365.2,138.0 365.6,137.4 366.4,136.9 366.8,136.9 367.4,137.2 368.1,138.4 368.3,139.2 368.3,140.4 367.9,142.4 368.8,144.6 369.5,147.2 370.4,148.8 370.9,150.0 371.3,151.6 371.4,153.6 371.3,156.0 370.7,158.4 369.6,160.4 369.0,162.4 368.4,163.6 367.6,164.7 366.8,165.3ZM372.0,173.6 367.2,173.9 362.1,173.6 362.4,172.8 363.1,172.4 364.8,172.1 367.6,172.1 369.6,172.1 371.3,172.4 372.0,172.8 372.3,173.6 372.0,173.6Z" fill="#00ff39"/><path d="M366.8,141.6 366.4,141.6 366.0,141.4 365.6,140.8 365.4,140.0 365.6,138.8 366.0,138.2 366.4,137.9 366.8,138.0 367.2,138.2 367.5,138.8 367.7,139.6 367.5,140.8 367.2,141.3 366.8,141.6ZM366.4,165.0 365.6,165.1 364.8,164.8 364.1,164.0 363.7,163.2 363.1,160.8 362.9,158.8 362.2,156.8 361.9,154.4 362.3,151.2 362.8,149.5 363.8,147.6 364.8,144.5 365.6,143.1 366.4,142.5 366.8,142.6 367.6,143.5 368.4,145.3 369.1,147.6 370.2,149.6 370.8,151.6 371.0,154.0 370.9,155.6 370.6,157.2 370.0,158.7 369.2,160.0 368.5,162.4 367.6,164.0 366.4,165.0ZM372.0,173.6 367.2,173.8 362.4,173.6 362.4,173.2 362.7,172.8 363.6,172.4 367.2,172.2 370.8,172.4 371.7,172.8 372.0,173.2 372.0,173.6Z" fill="#00ff00"/><path d="M366.8,140.1 366.4,140.2 366.2,140.0 366.1,139.6 366.4,139.0 366.9,139.2 366.9,139.6 366.8,140.1ZM366.4,164.5 365.6,164.7 365.2,164.6 364.6,164.0 364.1,163.2 363.5,160.8 363.3,158.8 362.5,156.4 362.3,154.4 362.6,151.6 363.2,149.7 364.2,148.0 365.2,145.5 366.0,144.5 366.4,144.3 366.8,144.4 367.2,144.7 367.6,145.3 368.6,148.0 369.2,148.8 369.9,150.0 370.5,152.0 370.6,154.0 370.4,156.0 370.0,157.6 368.8,159.6 368.4,161.2 367.8,162.8 367.2,163.8 366.4,164.5ZM371.6,173.6 367.2,173.8 362.6,173.6 362.7,173.2 363.0,172.8 363.6,172.5 365.2,172.3 367.6,172.3 369.6,172.3 370.8,172.5 371.4,172.8 371.6,173.0 371.8,173.6 371.6,173.6Z" fill="#39ff00"/><path d="M366.0,164.2 365.6,164.3 365.2,164.1 364.6,163.2 363.9,160.4 363.7,158.4 363.2,157.3 362.8,156.0 362.6,154.4 363.0,151.6 363.5,150.0 364.0,149.2 365.0,148.0 365.6,146.7 366.0,146.3 366.4,146.1 366.8,146.2 367.2,146.6 367.9,148.0 369.3,150.0 370.0,152.0 370.2,154.0 370.0,155.6 369.6,157.2 368.4,159.2 368.0,160.9 367.2,162.8 366.7,163.6 366.0,164.2ZM371.2,173.6 367.2,173.8 362.9,173.6 363.0,173.2 363.3,172.8 364.0,172.6 365.2,172.4 367.6,172.3 369.6,172.4 370.8,172.7 371.4,173.2 371.5,173.6 371.2,173.6Z" fill="#71ff00"/><path d="M366.0,163.2 365.6,163.5 365.2,162.8 364.5,160.4 364.3,158.4 363.3,156.4 363.0,154.4 363.3,152.0 364.0,150.1 364.8,149.1 366.4,148.0 366.8,148.1 367.7,148.8 368.8,150.1 369.5,152.0 369.8,154.0 369.6,155.6 369.2,156.8 368.8,157.7 367.9,158.8 367.2,161.3 366.0,163.2ZM370.8,173.6 367.2,173.8 363.2,173.6 363.3,173.2 364.0,172.7 365.2,172.5 367.6,172.4 369.6,172.5 370.7,172.8 371.1,173.2 371.2,173.6 370.8,173.6Z" fill="#aaff00"/><path d="M366.4,160.4 366.0,160.6 365.6,160.4 365.4,160.0 364.8,158.0 364.2,157.2 363.8,156.4 363.4,154.4 363.6,152.4 364.2,150.8 365.2,149.5 366.4,149.0 367.2,149.2 367.6,149.5 368.4,150.5 369.1,152.0 369.3,154.0 369.2,155.2 368.8,156.6 368.2,157.6 367.3,158.4 366.8,159.8 366.4,160.4ZM370.8,173.6 367.2,173.8 363.5,173.6 363.6,173.1 364.4,172.7 367.6,172.5 369.2,172.6 370.3,172.8 370.9,173.2 370.9,173.6 370.8,173.6Z" fill="#e3ff00"/><path d="M367.2,157.7 366.0,157.9 365.2,157.5 364.3,156.4 363.8,154.8 363.9,152.8 364.4,151.4 365.2,150.3 365.6,150.0 366.4,149.8 367.2,150.0 368.0,150.8 368.6,152.0 368.8,153.2 368.8,154.8 368.5,156.0 368.0,156.9 367.2,157.7ZM370.4,173.6 367.2,173.8 363.8,173.6 363.8,173.2 364.5,172.8 367.6,172.6 369.9,172.8 370.6,173.2 370.6,173.6 370.4,173.6Z" fill="#ffe300"/><path d="M366.4,157.2 365.6,157.0 364.9,156.4 364.4,155.4 364.2,154.4 364.4,152.8 364.8,151.7 365.6,150.8 366.4,150.5 367.2,150.8 367.8,151.6 368.3,152.8 368.4,154.0 368.2,155.2 367.7,156.4 367.2,156.9 366.4,157.2ZM370.0,173.6 367.2,173.8 364.0,173.6 364.1,173.2 365.0,172.8 367.6,172.7 369.6,172.8 370.3,173.2 370.4,173.6 370.0,173.6Z" fill="#ffaa00"/><path d="M366.4,156.5 365.6,156.3 365.2,155.9 364.8,155.2 364.6,154.0 364.8,152.8 365.2,152.0 365.6,151.6 366.4,151.2 367.1,151.6 367.6,152.3 367.9,153.2 368.0,154.0 367.6,155.6 367.2,156.1 366.4,156.5ZM370.0,173.6 367.2,173.7 364.3,173.6 364.4,173.2 365.2,172.9 367.2,172.8 369.2,172.9 370.0,173.2 370.0,173.6Z" fill="#ff7100"/><path d="M366.4,155.8 366.0,155.7 365.4,155.2 365.0,154.0 365.3,152.8 365.6,152.4 366.4,151.9 366.8,152.1 367.2,152.7 367.5,154.0 367.2,155.1 366.8,155.6 366.4,155.8ZM369.6,173.6 367.2,173.7 364.6,173.6 364.7,173.2 365.2,173.0 367.6,172.8 369.2,173.0 369.7,173.2 369.8,173.6 369.6,173.6Z" fill="#ff3900"/><path d="M366.4,155.0 366.0,155.0 365.8,154.8 365.5,154.0 365.7,153.2 366.0,152.9 366.4,152.8 366.8,153.2 367.0,154.0 366.8,154.6 366.4,155.0ZM369.2,173.6 367.2,173.7 364.9,173.6 365.1,173.2 365.6,173.0 367.6,172.9 369.3,173.2 369.5,173.6 369.2,173.6Z" fill="#ff0000"/></g>
<rect x="332.70" y="113.90" width="61.20" height="60.40" fill="none" stroke="#111" stroke-width="0.9"/>
<path d="M331.10,156.07H332.70M331.10,153.71H332.70M331.10,152.03H332.70M331.10,150.73H332.70M331.10,149.67H332.70M331.10,148.78H332.70M331.10,148.00H332.70M331.10,147.31H332.70M331.10,142.67H332.70M331.10,140.31H332.70M331.10,138.63H332.70M331.10,137.33H332.70M331.10,136.27H332.70M331.10,135.38H332.70M331.10,134.60H332.70M331.10,133.91H332.70M331.10,129.27H332.70M331.10,126.91H332.70M331.10,125.23H332.70M331.10,123.93H332.70M331.10,122.87H332.70M331.10,121.98H332.70M331.10,121.20H332.70M331.10,120.51H332.70M330.10,167.40H332.70M330.10,160.10H332.70M330.10,146.70H332.70M330.10,133.30H332.70M330.10,119.90H332.70M331.30,172.80H332.70M331.30,171.10H332.70M331.30,169.70H332.70M331.30,164.80H332.70M331.30,162.80H332.70M349.23,174.30V175.90M351.59,174.30V175.90M353.27,174.30V175.90M354.57,174.30V175.90M355.63,174.30V175.90M356.52,174.30V175.90M357.30,174.30V175.90M357.99,174.30V175.90M362.63,174.30V175.90M364.99,174.30V175.90M366.67,174.30V175.90M367.97,174.30V175.90M369.03,174.30V175.90M369.92,174.30V175.90M370.70,174.30V175.90M371.39,174.30V175.90M376.03,174.30V175.90M378.39,174.30V175.90M380.07,174.30V175.90M381.37,174.30V175.90M382.43,174.30V175.90M383.32,174.30V175.90M384.10,174.30V175.90M384.79,174.30V175.90M338.20,174.30V176.90M345.20,174.30V176.90M358.60,174.30V176.90M372.00,174.30V176.90M385.40,174.30V176.90M334.20,174.30V175.70M335.70,174.30V175.70M340.70,174.30V175.70M342.70,174.30V175.70" stroke="#111" stroke-width="0.6" fill="none"/>
<text x="327.70" y="122.60" font-size="6.4" text-anchor="end" font-weight="normal" fill="#2a2a2a">10<tspan dy="-2.43" font-size="4.61">5</tspan></text>
<text x="327.70" y="136.00" font-size="6.4" text-anchor="end" font-weight="normal" fill="#2a2a2a">10<tspan dy="-2.43" font-size="4.61">4</tspan></text>
<text x="327.70" y="149.40" font-size="6.4" text-anchor="end" font-weight="normal" fill="#2a2a2a">10<tspan dy="-2.43" font-size="4.61">3</tspan></text>
<text x="327.70" y="164.40" font-size="6.4" text-anchor="end" font-weight="normal" fill="#2a2a2a">10<tspan dy="-2.43" font-size="4.61">2</tspan></text>
<text x="326.90" y="170.00" font-size="6.4" text-anchor="end" font-weight="normal" fill="#2a2a2a">0</text>
<text x="338.60" y="186.30" font-size="6.4" text-anchor="middle" font-weight="normal" fill="#2a2a2a">0</text>
<text x="346.30" y="186.30" font-size="6.4" text-anchor="middle" font-weight="normal" fill="#2a2a2a">10<tspan dy="-2.43" font-size="4.61">2</tspan></text>
<text x="360.20" y="186.30" font-size="6.4" text-anchor="middle" font-weight="normal" fill="#2a2a2a">10<tspan dy="-2.43" font-size="4.61">3</tspan></text>
<text x="374.00" y="186.30" font-size="6.4" text-anchor="middle" font-weight="normal" fill="#2a2a2a">10<tspan dy="-2.43" font-size="4.61">4</tspan></text>
<text x="387.90" y="186.30" font-size="6.4" text-anchor="middle" font-weight="normal" fill="#2a2a2a">10<tspan dy="-2.43" font-size="4.61">5</tspan></text>
<rect x="354.20" y="113.90" width="24.30" height="31.30" fill="none" stroke="#222" stroke-width="0.8"/>
<text x="366.30" y="123.70" font-size="7" text-anchor="middle" font-weight="normal" fill="#1a1a1a" stroke="#1a1a1a" stroke-width="0.04">20</text>
<line x1="25.00" y1="34.40" x2="25.00" y2="131.60" stroke="#111" stroke-width="0.9"/>
<path d="M25.00,29.40 L21.90,36.60 L28.10,36.60 Z" fill="#111" stroke="none" stroke-width="1.0"/>
<text x="0.00" y="0.00" font-size="7.5" text-anchor="middle" font-weight="normal" fill="#1a1a1a" stroke="#1a1a1a" stroke-width="0.1" transform="translate(27.60,142.40) rotate(-90) scale(0.9,1)">Foxp3</text>
<line x1="125.00" y1="34.40" x2="125.00" y2="129.80" stroke="#111" stroke-width="0.9"/>
<path d="M125.00,29.40 L121.90,36.60 L128.10,36.60 Z" fill="#111" stroke="none" stroke-width="1.0"/>
<text x="0.00" y="0.00" font-size="7.5" text-anchor="middle" font-weight="normal" fill="#1a1a1a" stroke="#1a1a1a" stroke-width="0.1" transform="translate(127.60,140.00) rotate(-90) scale(0.9,1)">IFN-γ</text>
<line x1="308.20" y1="34.40" x2="308.20" y2="129.80" stroke="#111" stroke-width="0.9"/>
<path d="M308.20,29.40 L305.10,36.60 L311.30,36.60 Z" fill="#111" stroke="none" stroke-width="1.0"/>
<text x="0.00" y="0.00" font-size="7.5" text-anchor="middle" font-weight="normal" fill="#1a1a1a" stroke="#1a1a1a" stroke-width="0.1" transform="translate(310.80,139.20) rotate(-90) scale(0.75,1)">IL-4</text>
<text x="0.00" y="0.00" font-size="8.5" text-anchor="middle" font-weight="normal" fill="#1a1a1a" stroke="#1a1a1a" stroke-width="0.1" transform="translate(15.00,58.40) rotate(-90)">WT</text>
<text x="0.00" y="0.00" font-size="8.5" text-anchor="middle" font-weight="normal" fill="#1a1a1a" stroke="#1a1a1a" stroke-width="0.1" transform="translate(15.00,144.00) rotate(-90)">Sirt-1<tspan dy="-3.23" font-size="5.27">-/-</tspan></text>
<text x="0.00" y="0.00" font-size="8.8" text-anchor="middle" font-weight="normal" fill="#1a1a1a" stroke="#1a1a1a" stroke-width="0.1" transform="translate(79.40,196.20) scale(0.76,1)">CD4</text>
<text x="0.00" y="0.00" font-size="8.8" text-anchor="middle" font-weight="normal" fill="#1a1a1a" stroke="#1a1a1a" stroke-width="0.1" transform="translate(176.70,196.20) scale(0.76,1)">CD4</text>
<text x="0.00" y="0.00" font-size="8.8" text-anchor="middle" font-weight="normal" fill="#1a1a1a" stroke="#1a1a1a" stroke-width="0.1" transform="translate(263.20,196.20) scale(0.76,1)">CD8</text>
<text x="0.00" y="0.00" font-size="8.8" text-anchor="middle" font-weight="normal" fill="#1a1a1a" stroke="#1a1a1a" stroke-width="0.1" transform="translate(362.90,196.20) scale(0.76,1)">CD4</text>
<text x="0.00" y="0.00" font-size="11.6" text-anchor="start" font-weight="bold" fill="#000" transform="translate(127.50,223.30) scale(0.92,1)">E</text>
<text x="277.00" y="224.00" font-size="8.5" text-anchor="middle" font-weight="normal" fill="#1a1a1a" stroke="#1a1a1a" stroke-width="0.1">Liver</text>
<line x1="150.80" y1="229.20" x2="403.10" y2="229.20" stroke="#111" stroke-width="0.9"/>
<g><path d="M206.7,294.6 199.9,294.8 194.2,294.5 194.2,280.1 193.8,279.7 193.7,279.3 193.3,278.9 193.3,278.5 192.9,278.1 192.9,276.9 192.5,276.5 192.5,271.7 192.9,271.3 192.9,270.1 193.3,269.7 193.3,269.3 193.7,268.9 193.7,268.5 195.9,266.4 196.3,266.4 197.1,265.6 197.9,265.6 198.3,265.2 199.5,265.2 199.9,264.8 203.9,264.8 204.3,265.2 205.5,265.2 205.9,265.6 206.3,265.6 206.7,266.0 207.1,266.0 207.9,266.8 208.3,266.8 209.6,268.1 209.6,268.5 210.4,269.3 210.4,270.1 210.8,270.5 210.8,272.1 211.2,272.5 211.2,273.7 211.2,275.7 210.8,276.1 210.8,276.9 210.4,277.3 210.4,277.7 210.0,278.1 210.0,278.5 209.2,279.3 209.2,279.7 207.5,281.4 207.1,281.4 206.8,281.7 206.8,282.9 207.2,283.3 207.2,290.1 206.8,290.5 206.7,294.6Z" fill="#0000ff"/><path d="M204.7,294.6 199.9,294.8 196.1,294.5 196.1,289.3 195.5,285.4 195.4,281.7 193.9,279.3 193.5,278.9 193.5,278.5 193.1,278.1 193.0,276.9 192.6,276.5 192.6,271.7 193.0,271.3 193.0,270.1 193.4,269.7 193.4,269.3 193.9,268.9 193.9,268.5 195.9,266.7 197.5,266.0 200.7,265.5 203.1,265.7 205.1,266.1 206.7,266.8 208.7,268.1 210.0,269.7 210.5,270.9 210.6,272.1 211.0,272.9 211.0,273.7 210.9,275.3 210.5,276.5 209.6,278.1 208.5,279.3 207.1,280.3 206.3,280.7 205.7,281.3 205.8,284.9 205.3,289.3 204.9,290.5 205.1,294.5 204.7,294.6Z" fill="#0039ff"/><path d="M201.5,288.6 200.7,288.8 199.9,288.7 199.1,288.2 198.3,287.3 197.5,285.2 197.1,282.1 195.5,280.8 193.8,278.5 193.3,277.7 193.2,276.9 192.8,276.1 192.7,275.3 192.8,271.7 193.1,271.3 193.4,270.1 194.3,268.6 195.9,267.3 197.5,266.5 200.7,266.1 203.1,266.3 204.7,266.7 206.3,267.3 207.9,268.2 209.3,269.7 209.9,270.9 210.5,273.3 210.4,275.3 209.9,276.5 208.8,278.1 207.5,279.3 203.9,281.7 203.8,284.5 203.5,285.7 202.7,287.4 201.5,288.6ZM204.3,294.5 201.5,294.7 197.5,294.6 196.9,294.5 196.8,293.7 197.1,293.2 198.3,292.8 202.7,292.7 204.4,293.3 204.6,294.1 204.5,294.5 204.3,294.5Z" fill="#0071ff"/><path d="M200.7,284.2 200.3,284.2 199.7,283.7 199.4,282.9 199.3,282.1 197.5,281.5 196.5,280.9 194.3,278.5 193.7,277.7 193.5,276.9 193.1,276.1 192.9,273.7 193.0,272.1 193.4,271.3 193.5,270.5 194.7,268.7 196.3,267.6 197.5,267.1 199.1,266.7 200.7,266.6 202.7,266.7 204.7,267.2 207.5,268.6 208.9,270.1 209.5,271.3 210.0,273.7 209.9,274.9 209.5,276.1 208.4,277.7 207.1,278.9 204.3,280.8 201.7,282.1 201.5,283.3 201.1,284.0 200.7,284.2ZM203.9,294.5 201.5,294.7 197.9,294.6 197.4,294.5 197.3,293.7 197.6,293.3 198.7,293.0 202.7,293.0 203.9,293.4 204.1,293.7 204.1,294.1 204.0,294.5 203.9,294.5Z" fill="#00aaff"/><path d="M200.7,281.8 198.7,281.4 197.1,280.7 196.3,280.1 194.5,278.1 193.9,277.3 193.7,276.5 193.4,276.1 193.2,272.9 193.3,272.1 193.5,271.7 193.8,270.5 195.1,268.8 196.7,267.8 197.9,267.4 201.1,267.1 202.7,267.2 204.5,267.7 207.1,269.0 208.2,270.1 208.9,271.3 209.5,273.7 209.4,274.9 208.9,276.1 208.0,277.3 207.1,278.2 203.5,280.7 200.7,281.8ZM203.5,294.5 200.7,294.6 197.9,294.5 197.7,294.1 197.7,293.7 198.1,293.3 199.1,293.1 202.3,293.1 203.3,293.3 203.7,293.7 203.7,294.1 203.5,294.5Z" fill="#00e3ff"/><path d="M201.5,281.0 200.7,281.2 199.9,281.1 198.3,280.7 197.1,280.0 194.7,277.8 194.3,277.3 193.6,275.7 193.5,272.5 194.2,270.5 195.2,269.3 195.9,268.8 196.7,268.3 198.3,267.8 200.7,267.5 201.9,267.6 204.3,268.1 205.5,268.7 206.7,269.4 207.8,270.5 208.5,271.7 208.9,273.3 208.8,274.9 208.2,276.1 207.5,277.1 206.4,278.1 204.3,279.6 202.7,280.5 201.5,281.0ZM202.7,294.5 198.3,294.5 198.2,294.1 198.2,293.7 198.7,293.3 199.5,293.2 202.3,293.2 203.2,293.7 203.2,294.1 203.1,294.5 202.7,294.5Z" fill="#00ffe3"/><path d="M201.1,280.5 200.3,280.6 199.1,280.4 197.1,279.4 195.9,278.5 194.8,277.3 193.9,275.7 193.8,274.1 193.8,272.5 194.4,270.9 195.8,269.3 197.1,268.6 198.3,268.2 199.5,268.0 201.5,268.0 202.7,268.2 204.9,268.9 206.3,269.8 207.1,270.5 207.9,271.7 208.2,272.9 208.3,273.7 208.3,274.5 207.8,275.7 206.9,276.9 205.5,278.2 203.9,279.2 202.3,280.1 201.1,280.5ZM202.3,294.5 198.9,294.5 198.6,294.1 198.7,293.7 199.9,293.3 201.9,293.4 202.7,293.7 202.8,294.1 202.5,294.5 202.3,294.5Z" fill="#00ffaa"/><path d="M201.5,279.8 200.7,280.0 199.9,280.0 198.7,279.7 197.5,279.1 195.7,277.7 194.3,275.7 194.1,274.1 194.1,272.5 194.8,270.9 195.1,270.5 195.9,269.7 197.1,269.0 199.5,268.5 201.5,268.5 203.1,268.8 204.5,269.3 205.9,270.1 206.7,270.9 207.4,272.1 207.7,274.1 207.3,275.3 206.9,276.1 204.7,278.1 203.1,279.1 201.5,279.8ZM201.5,294.5 199.5,294.4 199.1,294.1 199.2,293.7 200.7,293.5 202.2,293.7 202.3,294.2 201.5,294.5Z" fill="#00ff71"/><path d="M201.1,279.3 200.3,279.4 199.1,279.2 197.1,278.2 195.9,277.3 194.6,275.3 194.4,274.1 194.4,272.9 195.1,271.3 196.1,270.1 197.5,269.4 199.9,268.9 201.5,268.9 202.7,269.2 204.1,269.7 205.4,270.5 206.3,271.3 206.7,272.1 207.0,273.3 207.1,274.1 206.7,275.2 206.3,275.8 204.9,277.3 203.9,278.1 202.3,278.9 201.1,279.3ZM201.5,294.3 200.3,294.4 199.5,294.1 199.7,293.7 201.1,293.6 201.7,293.7 201.9,294.1 201.5,294.3Z" fill="#00ff39"/><path d="M201.9,278.5 200.3,278.8 198.3,278.3 196.3,277.0 195.1,275.4 194.8,274.1 194.8,272.9 195.6,271.3 196.7,270.2 197.9,269.7 199.1,269.4 201.5,269.4 203.9,270.2 205.0,270.9 205.8,271.7 206.2,272.5 206.4,273.7 206.3,274.5 205.9,275.3 204.3,277.1 203.1,277.9 201.9,278.5ZM201.1,294.2 200.0,294.1 200.3,293.9 200.7,293.8 201.1,293.9 201.4,294.1 201.1,294.2Z" fill="#00ff00"/><path d="M201.1,278.2 199.5,278.2 197.9,277.6 196.7,276.8 195.6,275.3 195.2,274.1 195.3,272.9 196.1,271.3 197.1,270.5 198.3,270.1 199.5,269.9 201.9,270.0 203.9,270.8 204.7,271.4 205.3,272.1 205.6,272.9 205.7,274.1 205.4,274.9 204.9,275.7 204.2,276.5 203.1,277.3 201.1,278.2Z" fill="#39ff00"/><path d="M201.9,277.3 200.7,277.6 199.1,277.5 197.7,276.9 196.7,276.0 195.9,274.9 195.7,273.7 195.9,272.6 196.8,271.3 198.3,270.5 199.5,270.3 200.7,270.3 201.9,270.5 202.9,270.9 203.6,271.3 204.5,272.1 204.9,272.9 205.0,273.7 204.6,274.9 203.8,276.1 202.8,276.9 201.9,277.3Z" fill="#71ff00"/><path d="M201.1,277.0 199.9,277.1 198.7,276.8 197.5,276.1 196.7,275.3 196.2,274.1 196.2,273.3 196.7,272.2 197.5,271.4 199.1,270.9 201.1,270.9 202.7,271.4 203.9,272.5 204.2,273.7 204.1,274.5 203.7,275.3 202.7,276.3 201.1,277.0Z" fill="#aaff00"/><path d="M201.5,276.3 200.7,276.5 199.5,276.4 198.3,276.0 197.5,275.4 197.1,274.9 196.7,273.7 196.9,272.9 197.5,272.1 198.7,271.4 200.3,271.3 201.9,271.6 203.1,272.5 203.5,273.7 203.4,274.5 202.7,275.5 201.5,276.3Z" fill="#e3ff00"/><path d="M201.1,275.8 199.5,275.9 198.7,275.6 197.9,275.1 197.5,274.5 197.3,273.7 197.5,273.0 197.9,272.5 198.7,272.0 199.9,271.8 201.1,271.9 202.3,272.6 202.8,273.3 202.8,274.1 202.7,274.5 202.0,275.3 201.1,275.8Z" fill="#ffe300"/><path d="M200.3,275.3 199.1,275.2 198.2,274.5 197.9,273.9 198.0,273.3 198.7,272.6 199.5,272.3 200.7,272.3 201.5,272.7 202.1,273.3 202.1,274.1 201.9,274.5 201.1,275.1 200.3,275.3Z" fill="#ffaa00"/><path d="M200.7,274.6 199.9,274.7 199.0,274.5 198.6,274.1 198.5,273.7 198.6,273.3 199.5,272.7 200.3,272.7 200.8,272.9 201.3,273.3 201.4,273.7 201.3,274.1 200.7,274.6Z" fill="#ff7100"/><path d="M199.9,274.2 199.5,274.1 199.1,273.7 199.5,273.2 200.3,273.3 200.6,273.7 200.3,274.1 199.9,274.2Z" fill="#ff3900"/></g>
<rect x="167.00" y="236.00" width="60.50" height="58.90" fill="none" stroke="#111" stroke-width="0.9"/>
<path d="M165.40,278.17H167.00M165.40,275.81H167.00M165.40,274.13H167.00M165.40,272.83H167.00M165.40,271.77H167.00M165.40,270.88H167.00M165.40,270.10H167.00M165.40,269.41H167.00M165.40,264.77H167.00M165.40,262.41H167.00M165.40,260.73H167.00M165.40,259.43H167.00M165.40,258.37H167.00M165.40,257.48H167.00M165.40,256.70H167.00M165.40,256.01H167.00M165.40,251.37H167.00M165.40,249.01H167.00M165.40,247.33H167.00M165.40,246.03H167.00M165.40,244.97H167.00M165.40,244.08H167.00M165.40,243.30H167.00M165.40,242.61H167.00M164.40,289.50H167.00M164.40,282.20H167.00M164.40,268.80H167.00M164.40,255.40H167.00M164.40,242.00H167.00M165.60,294.90H167.00M165.60,293.20H167.00M165.60,291.80H167.00M165.60,286.90H167.00M165.60,284.90H167.00M183.53,294.90V296.50M185.89,294.90V296.50M187.57,294.90V296.50M188.87,294.90V296.50M189.93,294.90V296.50M190.82,294.90V296.50M191.60,294.90V296.50M192.29,294.90V296.50M196.93,294.90V296.50M199.29,294.90V296.50M200.97,294.90V296.50M202.27,294.90V296.50M203.33,294.90V296.50M204.22,294.90V296.50M205.00,294.90V296.50M205.69,294.90V296.50M210.33,294.90V296.50M212.69,294.90V296.50M214.37,294.90V296.50M215.67,294.90V296.50M216.73,294.90V296.50M217.62,294.90V296.50M218.40,294.90V296.50M219.09,294.90V296.50M172.50,294.90V297.50M179.50,294.90V297.50M192.90,294.90V297.50M206.30,294.90V297.50M219.70,294.90V297.50M168.50,294.90V296.30M170.00,294.90V296.30M175.00,294.90V296.30M177.00,294.90V296.30" stroke="#111" stroke-width="0.6" fill="none"/>
<text x="162.00" y="244.70" font-size="6.4" text-anchor="end" font-weight="normal" fill="#2a2a2a">10<tspan dy="-2.43" font-size="4.61">5</tspan></text>
<text x="162.00" y="258.10" font-size="6.4" text-anchor="end" font-weight="normal" fill="#2a2a2a">10<tspan dy="-2.43" font-size="4.61">4</tspan></text>
<text x="162.00" y="271.50" font-size="6.4" text-anchor="end" font-weight="normal" fill="#2a2a2a">10<tspan dy="-2.43" font-size="4.61">3</tspan></text>
<text x="162.00" y="286.50" font-size="6.4" text-anchor="end" font-weight="normal" fill="#2a2a2a">10<tspan dy="-2.43" font-size="4.61">2</tspan></text>
<text x="161.20" y="292.10" font-size="6.4" text-anchor="end" font-weight="normal" fill="#2a2a2a">0</text>
<text x="172.50" y="306.90" font-size="6.4" text-anchor="middle" font-weight="normal" fill="#2a2a2a">0</text>
<text x="179.90" y="306.90" font-size="6.4" text-anchor="middle" font-weight="normal" fill="#2a2a2a">10<tspan dy="-2.43" font-size="4.61">2</tspan></text>
<text x="193.60" y="306.90" font-size="6.4" text-anchor="middle" font-weight="normal" fill="#2a2a2a">10<tspan dy="-2.43" font-size="4.61">3</tspan></text>
<text x="207.30" y="306.90" font-size="6.4" text-anchor="middle" font-weight="normal" fill="#2a2a2a">10<tspan dy="-2.43" font-size="4.61">4</tspan></text>
<text x="221.40" y="306.90" font-size="6.4" text-anchor="middle" font-weight="normal" fill="#2a2a2a">10<tspan dy="-2.43" font-size="4.61">5</tspan></text>
<g><path d="M295.5,281.4 292.7,281.4 292.3,281.0 291.9,281.0 291.5,280.6 291.1,280.6 290.7,280.2 290.3,280.2 288.6,278.5 288.6,278.1 288.2,277.7 288.2,276.9 287.8,276.5 287.8,276.1 287.4,275.7 287.4,274.9 287.0,274.5 287.0,273.3 286.6,272.9 286.6,270.5 286.2,270.1 286.1,248.9 286.5,248.5 286.5,247.7 286.9,247.3 286.9,246.1 287.3,245.7 287.4,244.9 287.8,244.5 287.8,243.7 288.2,243.3 288.2,242.9 288.6,242.5 288.6,242.1 289.5,241.2 289.9,241.2 290.3,240.8 291.1,240.8 291.5,240.4 293.1,240.4 293.5,240.0 297.5,240.0 297.9,240.4 298.7,240.4 300.8,242.5 300.8,242.9 301.6,243.7 301.6,244.1 302.0,244.5 302.0,244.9 302.4,245.3 302.4,246.1 302.8,246.5 302.8,247.3 303.2,247.7 303.2,249.3 303.6,249.7 303.6,252.1 303.2,252.5 303.2,256.5 303.6,256.9 303.6,259.3 304.0,259.7 304.0,269.7 303.6,270.1 303.6,271.3 303.2,271.7 303.2,273.7 302.8,274.1 302.8,275.3 302.4,275.7 302.4,276.5 302.0,276.9 302.0,277.7 301.6,278.1 301.6,278.5 301.2,278.9 301.2,279.3 300.3,280.2 299.9,280.2 299.5,280.6 298.7,280.6 298.3,281.0 295.9,281.0 295.5,281.4Z" fill="#0000ff"/><path d="M295.5,280.9 295.1,281.1 293.1,281.1 290.4,279.7 289.3,278.5 288.7,277.3 288.6,276.5 287.9,275.3 287.8,274.5 287.5,274.1 287.5,273.2 287.1,272.5 287.1,270.5 286.7,269.7 286.7,255.7 286.3,252.9 286.3,248.9 286.7,248.5 286.7,247.7 287.1,247.3 287.1,246.1 287.5,245.7 287.7,244.9 289.4,242.1 290.7,241.3 291.5,241.2 291.9,240.9 293.2,240.9 293.9,240.5 297.1,240.5 297.5,240.8 298.3,240.9 300.0,242.5 300.4,243.3 301.1,244.1 301.9,245.7 302.4,247.7 302.7,248.1 302.8,249.7 303.1,250.1 303.1,251.7 302.7,252.5 302.7,256.5 303.1,257.3 303.1,259.3 303.5,260.1 303.5,269.3 303.2,269.7 303.1,270.9 302.7,271.7 302.7,273.3 302.4,273.7 302.3,274.9 302.0,275.3 301.9,276.1 301.6,276.5 301.5,277.3 300.7,278.9 299.9,279.7 299.1,280.1 298.3,280.2 297.9,280.5 295.9,280.7 295.5,280.9Z" fill="#0039ff"/><path d="M295.1,280.3 294.3,280.4 293.1,280.3 290.8,278.9 289.9,277.7 288.8,274.9 288.1,272.1 287.8,269.3 287.7,264.1 287.7,256.9 286.9,254.1 286.6,250.9 286.6,249.3 287.4,247.3 287.5,246.5 288.6,244.1 289.1,243.4 289.9,242.6 291.1,242.0 292.3,241.7 294.3,241.5 295.9,241.9 297.5,242.6 299.4,244.5 300.5,246.5 301.0,248.1 301.3,250.5 300.8,253.7 300.8,256.5 301.2,258.1 301.2,259.7 301.6,260.9 301.6,268.5 300.8,271.3 300.8,272.5 299.4,277.3 298.7,278.5 297.5,279.5 295.5,280.0 295.1,280.3Z" fill="#0071ff"/><path d="M294.7,279.5 293.5,279.5 292.2,278.9 291.1,278.1 290.3,276.9 288.9,273.3 288.5,271.3 288.5,265.3 288.6,261.3 288.3,259.3 288.2,257.3 287.3,253.7 287.0,250.5 287.0,249.3 287.9,246.5 288.9,244.5 289.5,243.7 290.3,242.9 291.1,242.6 292.3,242.2 294.3,242.1 295.5,242.3 296.8,242.9 297.9,243.7 298.9,244.9 299.7,246.1 300.3,247.7 300.6,248.9 300.7,250.9 299.5,256.1 300.0,261.3 300.0,264.5 299.7,270.1 299.2,273.7 298.3,276.5 297.6,277.7 296.7,278.6 294.7,279.5Z" fill="#00aaff"/><path d="M294.3,278.6 293.1,278.4 292.3,278.0 291.5,277.3 289.4,273.7 289.0,272.5 288.9,271.3 289.1,269.3 289.1,267.7 288.9,265.3 289.5,262.1 288.7,259.7 288.6,257.7 287.5,252.9 287.3,250.5 287.3,249.7 288.1,246.9 289.5,244.4 290.6,243.3 291.1,243.1 292.3,242.7 293.9,242.5 295.1,242.6 296.3,243.1 297.6,244.1 298.6,245.3 299.3,246.5 299.8,247.7 300.1,248.9 300.2,250.9 299.7,254.1 298.6,256.9 298.9,262.1 298.8,265.7 299.0,268.9 298.9,271.3 298.5,273.3 297.9,275.4 297.1,276.9 295.9,277.9 294.3,278.6Z" fill="#00e3ff"/><path d="M294.7,277.4 293.9,277.5 293.5,277.5 292.3,276.9 290.3,274.5 289.6,273.3 289.3,272.5 289.2,270.9 289.7,268.5 289.3,266.9 289.2,265.3 289.4,264.1 290.1,262.5 290.1,262.1 289.5,260.9 289.1,259.7 289.0,258.1 287.9,253.3 287.7,250.9 287.7,249.7 288.0,248.5 288.5,246.9 289.1,245.7 290.0,244.5 291.1,243.5 293.1,243.0 294.7,243.0 295.5,243.2 296.7,243.9 297.5,244.6 298.6,246.1 299.2,247.3 299.6,248.9 299.8,250.5 299.5,253.2 298.3,256.9 298.2,259.3 297.7,261.7 297.7,262.5 298.1,264.1 298.3,265.7 298.3,272.1 298.0,273.3 296.7,275.9 295.9,276.7 294.7,277.4Z" fill="#00ffe3"/><path d="M294.7,276.2 293.5,276.3 292.3,275.8 291.5,275.3 290.3,274.1 289.6,272.5 289.4,270.9 290.0,268.5 289.6,266.9 289.5,265.3 289.7,264.1 290.5,262.1 289.5,259.7 288.7,254.9 288.3,253.3 288.0,250.9 288.0,249.7 288.3,248.5 288.9,246.9 289.6,245.7 290.3,244.7 291.1,244.0 291.9,243.7 293.1,243.4 294.7,243.5 295.5,243.7 296.3,244.1 297.2,244.9 298.1,246.1 298.7,247.3 299.2,248.9 299.4,250.5 299.2,252.9 298.3,255.7 297.9,257.7 297.8,259.7 296.8,262.1 297.6,263.7 298.0,265.3 298.0,266.5 297.6,268.5 298.0,270.5 298.0,272.1 297.7,273.3 296.9,274.5 295.9,275.5 294.7,276.2Z" fill="#00ffaa"/><path d="M294.3,275.7 293.5,275.8 292.7,275.6 291.5,274.9 290.4,273.7 289.8,272.1 289.8,270.5 290.2,268.5 289.8,266.5 289.8,265.3 290.0,264.1 290.6,262.9 290.8,261.7 290.1,260.1 289.7,258.5 289.2,256.9 288.9,254.5 288.4,252.5 288.3,250.9 288.4,249.7 288.7,248.5 289.3,246.9 289.9,245.9 290.7,244.9 291.5,244.3 292.7,243.9 293.5,243.8 294.7,243.9 295.5,244.2 296.6,244.9 297.4,245.7 298.1,246.9 298.6,248.1 298.9,249.3 299.1,250.9 298.8,252.9 298.1,255.3 297.6,257.7 297.3,259.7 296.5,261.7 296.5,262.1 297.4,264.1 297.7,265.3 297.6,266.9 297.1,268.5 297.7,270.5 297.7,272.1 297.3,273.3 296.5,274.5 295.5,275.3 294.3,275.7Z" fill="#00ff71"/><path d="M294.7,275.3 293.9,275.4 293.1,275.4 291.9,274.9 290.7,273.7 290.1,272.1 290.0,270.9 290.5,268.9 290.5,268.1 290.1,266.5 290.0,265.3 290.3,264.1 291.0,262.9 291.2,261.7 290.5,260.1 289.5,256.9 288.6,251.3 288.6,250.1 288.9,248.9 289.5,247.3 290.1,246.1 291.5,244.7 293.1,244.2 295.1,244.5 295.9,244.9 296.8,245.7 297.5,246.6 298.1,247.7 298.5,249.3 298.7,250.5 298.5,252.5 297.8,254.9 296.9,259.7 296.0,261.7 296.2,262.5 297.1,264.1 297.4,265.3 297.4,266.5 296.9,268.5 297.5,270.5 297.4,272.1 297.0,273.3 296.5,274.1 295.6,274.9 294.7,275.3Z" fill="#00ff39"/><path d="M294.7,275.0 293.9,275.1 293.1,275.1 291.9,274.5 290.8,273.3 290.3,272.1 290.3,270.9 290.7,269.3 290.7,267.7 290.3,266.5 290.3,265.3 290.6,264.1 291.3,262.9 291.7,261.3 290.9,260.1 289.9,257.3 289.6,255.7 289.5,254.1 288.9,251.3 288.9,250.1 289.2,248.9 290.0,246.9 290.7,246.0 291.5,245.3 292.3,244.8 293.1,244.7 294.3,244.7 295.1,244.9 295.9,245.4 296.7,246.1 297.3,246.9 297.8,248.1 298.2,249.3 298.3,250.5 298.2,252.1 297.6,254.5 297.2,256.9 296.3,260.1 295.7,261.3 295.9,262.6 296.8,264.1 297.1,265.3 297.1,266.5 296.6,268.1 296.7,268.9 297.2,270.5 297.2,271.7 296.9,272.9 296.4,273.7 295.6,274.5 294.7,275.0Z" fill="#00ff00"/><path d="M294.7,274.7 293.5,274.8 292.3,274.4 291.1,273.3 290.6,272.1 290.5,270.9 291.0,269.3 291.0,267.7 290.6,266.5 290.6,265.3 290.8,264.5 291.5,263.3 292.2,261.3 291.4,260.1 290.2,257.3 289.8,255.7 289.7,253.7 289.2,251.3 289.2,250.1 289.4,249.3 290.2,247.3 291.5,245.8 292.3,245.3 293.1,245.1 294.3,245.2 295.1,245.4 296.3,246.3 297.4,248.1 297.8,249.3 298.0,250.5 297.9,252.1 297.3,254.1 297.0,256.9 295.9,260.0 295.1,261.3 295.7,262.9 296.5,264.1 296.8,265.3 296.8,266.5 296.4,268.1 296.5,269.3 296.9,270.5 296.9,271.7 296.7,272.5 296.3,273.4 295.5,274.2 294.7,274.7Z" fill="#39ff00"/><path d="M295.1,274.1 293.9,274.5 293.1,274.4 292.3,274.1 291.2,272.9 290.8,271.3 291.2,269.3 291.2,267.7 290.9,266.1 290.9,265.3 291.1,264.5 291.9,263.3 292.7,261.3 292.7,260.9 291.9,260.1 290.8,258.1 290.3,256.9 290.1,255.3 290.1,253.7 289.6,251.7 289.6,250.1 289.9,248.8 290.7,247.1 291.9,246.0 293.1,245.5 294.3,245.6 295.1,245.9 296.3,246.9 297.2,248.5 297.6,250.5 297.5,252.1 296.9,254.1 296.9,255.7 296.7,256.9 295.5,259.8 294.7,260.9 294.6,261.3 295.3,262.9 296.3,264.4 296.6,265.7 296.5,266.5 296.1,267.7 296.2,269.3 296.6,270.5 296.6,271.7 296.4,272.5 296.0,273.3 295.1,274.1Z" fill="#71ff00"/><path d="M294.3,260.5 293.5,260.7 292.7,260.2 291.1,258.1 290.5,256.1 290.4,253.3 289.9,251.3 289.9,250.1 290.1,249.3 290.8,247.7 291.9,246.5 293.1,246.0 293.9,246.0 294.7,246.2 295.7,246.9 296.7,248.3 297.2,250.1 297.2,251.7 296.6,253.7 296.6,255.3 296.4,256.9 295.9,258.1 295.0,259.7 294.3,260.5ZM294.3,274.1 293.1,274.1 292.3,273.7 291.5,272.9 291.2,272.1 291.0,271.3 291.2,270.5 291.5,269.7 291.5,267.3 291.1,266.1 291.2,264.9 291.6,264.1 293.1,261.9 293.5,261.5 293.9,261.5 294.3,261.8 295.2,263.3 295.8,264.1 296.2,264.9 296.3,265.7 295.8,267.7 295.9,269.3 296.4,270.9 296.3,272.1 295.5,273.4 294.3,274.1Z" fill="#aaff00"/><path d="M294.3,259.7 293.9,260.0 293.1,259.8 291.9,258.8 291.2,257.7 290.8,256.1 290.7,253.3 290.2,250.9 290.4,249.3 291.2,247.7 292.3,246.7 293.5,246.4 294.7,246.7 295.9,247.7 296.5,248.9 296.8,250.5 296.7,252.1 296.3,253.3 296.3,255.3 296.1,256.9 295.5,258.2 294.3,259.7ZM294.3,273.8 293.1,273.8 292.3,273.3 291.6,272.5 291.3,271.3 291.4,270.5 291.8,269.7 291.8,267.3 291.4,266.1 291.5,264.9 292.0,264.1 293.1,262.8 293.9,262.3 294.3,262.6 294.7,263.3 295.5,264.1 295.9,264.9 296.0,265.7 295.6,267.7 295.6,269.7 296.0,270.5 296.1,271.7 295.5,273.0 295.1,273.4 294.3,273.8Z" fill="#e3ff00"/><path d="M294.3,259.1 293.5,259.3 292.7,259.1 292.0,258.5 291.5,257.7 291.0,255.7 291.0,252.9 290.7,252.0 290.5,250.9 290.7,249.3 291.5,247.9 292.3,247.2 293.5,246.9 294.7,247.2 295.5,247.9 296.2,249.3 296.5,250.5 296.4,251.7 295.9,253.3 296.0,255.3 295.7,256.9 295.2,258.1 294.3,259.1ZM294.3,273.5 293.1,273.4 292.3,273.0 291.7,272.1 291.6,271.3 292.1,269.7 292.2,267.3 291.7,266.1 291.8,264.9 292.4,264.1 293.9,263.1 295.1,264.1 295.5,264.9 295.7,265.7 295.6,266.5 295.2,267.3 295.3,269.7 295.7,270.5 295.8,271.7 295.2,272.9 294.3,273.5Z" fill="#ffe300"/><path d="M293.9,258.9 293.1,258.9 292.7,258.7 291.9,257.7 291.4,255.7 291.4,252.9 290.9,250.9 291.0,249.7 291.5,248.5 292.3,247.7 293.5,247.4 294.3,247.5 295.1,248.1 295.8,249.3 296.1,250.5 295.9,251.7 295.5,252.9 295.6,255.3 295.4,256.9 294.9,258.1 293.9,258.9ZM294.7,272.9 293.9,273.2 293.1,273.1 292.7,272.9 292.0,272.1 291.9,271.3 292.4,269.7 292.5,267.3 292.0,266.1 292.0,265.3 292.3,264.6 292.7,264.2 293.9,263.7 294.3,263.8 295.0,264.5 295.4,265.7 295.2,266.5 294.8,267.3 294.9,269.7 295.3,270.5 295.5,271.3 295.3,272.1 294.7,272.9Z" fill="#ffaa00"/><path d="M293.9,258.6 293.5,258.7 292.9,258.5 292.5,258.1 292.1,257.3 291.8,255.3 291.9,252.9 291.4,251.7 291.2,250.5 291.5,249.3 291.9,248.6 292.7,248.0 293.5,247.8 294.3,248.1 295.1,248.8 295.5,249.7 295.7,250.5 295.5,251.7 295.0,252.9 295.2,254.9 295.1,256.5 294.7,257.7 293.9,258.6ZM293.9,272.9 293.1,272.8 292.7,272.5 292.4,272.1 292.2,271.3 292.3,270.7 292.9,269.7 293.0,267.3 292.9,266.9 292.4,266.1 292.3,265.3 292.8,264.5 293.5,264.1 293.9,264.1 294.6,264.5 295.0,265.3 295.0,266.1 294.3,267.3 294.5,269.7 295.0,270.5 295.2,271.3 295.0,272.1 294.7,272.5 293.9,272.9Z" fill="#ff7100"/><path d="M293.9,258.1 293.5,258.3 293.1,258.3 292.6,257.7 292.3,255.7 292.4,252.5 291.8,251.7 291.6,250.5 291.7,249.7 292.2,248.9 292.7,248.5 293.5,248.3 294.3,248.6 294.7,249.0 295.1,249.7 295.2,250.5 295.1,251.5 294.5,252.5 294.4,252.9 294.7,254.9 294.6,256.5 294.3,257.6 293.9,258.1ZM294.3,266.5 293.5,266.7 293.1,266.5 292.7,266.1 292.6,265.3 293.1,264.7 293.9,264.5 294.5,264.9 294.7,265.7 294.3,266.5ZM293.9,272.6 293.1,272.5 292.5,271.7 292.5,271.3 292.7,270.6 293.5,269.9 293.9,269.9 294.6,270.5 294.9,271.3 294.6,272.1 293.9,272.6Z" fill="#ff3900"/><path d="M293.9,252.2 293.1,252.3 292.7,252.1 292.3,251.7 292.0,250.9 292.1,249.7 292.7,249.0 293.1,248.8 293.9,248.9 294.3,249.2 294.8,250.1 294.7,251.3 294.3,251.9 293.9,252.2ZM293.5,257.8 293.2,257.7 293.1,257.3 293.5,255.5 293.7,256.9 293.5,257.8ZM293.9,266.2 293.5,266.3 293.1,266.0 292.9,265.7 293.0,265.3 293.5,264.9 293.9,264.9 294.3,265.3 294.3,265.8 293.9,266.2ZM293.9,272.2 293.1,272.1 292.8,271.7 292.9,270.9 293.5,270.4 293.9,270.4 294.3,270.7 294.5,271.3 294.3,272.0 293.9,272.2Z" fill="#ff0000"/></g>
<rect x="261.00" y="236.00" width="60.50" height="58.90" fill="none" stroke="#111" stroke-width="0.9"/>
<path d="M259.40,278.17H261.00M259.40,275.81H261.00M259.40,274.13H261.00M259.40,272.83H261.00M259.40,271.77H261.00M259.40,270.88H261.00M259.40,270.10H261.00M259.40,269.41H261.00M259.40,264.77H261.00M259.40,262.41H261.00M259.40,260.73H261.00M259.40,259.43H261.00M259.40,258.37H261.00M259.40,257.48H261.00M259.40,256.70H261.00M259.40,256.01H261.00M259.40,251.37H261.00M259.40,249.01H261.00M259.40,247.33H261.00M259.40,246.03H261.00M259.40,244.97H261.00M259.40,244.08H261.00M259.40,243.30H261.00M259.40,242.61H261.00M258.40,289.50H261.00M258.40,282.20H261.00M258.40,268.80H261.00M258.40,255.40H261.00M258.40,242.00H261.00M259.60,294.90H261.00M259.60,293.20H261.00M259.60,291.80H261.00M259.60,286.90H261.00M259.60,284.90H261.00M277.53,294.90V296.50M279.89,294.90V296.50M281.57,294.90V296.50M282.87,294.90V296.50M283.93,294.90V296.50M284.82,294.90V296.50M285.60,294.90V296.50M286.29,294.90V296.50M290.93,294.90V296.50M293.29,294.90V296.50M294.97,294.90V296.50M296.27,294.90V296.50M297.33,294.90V296.50M298.22,294.90V296.50M299.00,294.90V296.50M299.69,294.90V296.50M304.33,294.90V296.50M306.69,294.90V296.50M308.37,294.90V296.50M309.67,294.90V296.50M310.73,294.90V296.50M311.62,294.90V296.50M312.40,294.90V296.50M313.09,294.90V296.50M266.50,294.90V297.50M273.50,294.90V297.50M286.90,294.90V297.50M300.30,294.90V297.50M313.70,294.90V297.50M262.50,294.90V296.30M264.00,294.90V296.30M269.00,294.90V296.30M271.00,294.90V296.30" stroke="#111" stroke-width="0.6" fill="none"/>
<text x="256.00" y="244.70" font-size="6.4" text-anchor="end" font-weight="normal" fill="#2a2a2a">10<tspan dy="-2.43" font-size="4.61">5</tspan></text>
<text x="256.00" y="258.10" font-size="6.4" text-anchor="end" font-weight="normal" fill="#2a2a2a">10<tspan dy="-2.43" font-size="4.61">4</tspan></text>
<text x="256.00" y="271.50" font-size="6.4" text-anchor="end" font-weight="normal" fill="#2a2a2a">10<tspan dy="-2.43" font-size="4.61">3</tspan></text>
<text x="256.00" y="286.50" font-size="6.4" text-anchor="end" font-weight="normal" fill="#2a2a2a">10<tspan dy="-2.43" font-size="4.61">2</tspan></text>
<text x="255.20" y="292.10" font-size="6.4" text-anchor="end" font-weight="normal" fill="#2a2a2a">0</text>
<text x="266.50" y="306.90" font-size="6.4" text-anchor="middle" font-weight="normal" fill="#2a2a2a">0</text>
<text x="273.90" y="306.90" font-size="6.4" text-anchor="middle" font-weight="normal" fill="#2a2a2a">10<tspan dy="-2.43" font-size="4.61">2</tspan></text>
<text x="287.60" y="306.90" font-size="6.4" text-anchor="middle" font-weight="normal" fill="#2a2a2a">10<tspan dy="-2.43" font-size="4.61">3</tspan></text>
<text x="301.30" y="306.90" font-size="6.4" text-anchor="middle" font-weight="normal" fill="#2a2a2a">10<tspan dy="-2.43" font-size="4.61">4</tspan></text>
<text x="315.40" y="306.90" font-size="6.4" text-anchor="middle" font-weight="normal" fill="#2a2a2a">10<tspan dy="-2.43" font-size="4.61">5</tspan></text>
<g><path d="M383.4,281.0 376.2,281.0 375.8,280.6 375.4,280.6 375.0,280.2 374.6,280.2 374.2,279.8 373.8,279.8 372.5,278.5 372.5,278.1 371.7,277.3 371.7,276.5 371.3,276.1 371.3,274.9 370.9,274.5 370.9,273.3 370.5,272.9 370.5,272.1 370.1,271.7 370.1,270.5 369.7,270.1 369.7,269.3 369.3,268.9 369.3,267.3 368.9,266.9 368.9,264.9 368.5,264.5 368.5,261.3 368.1,260.9 368.1,259.3 368.1,253.7 368.5,253.3 368.5,246.1 368.9,245.7 368.9,245.3 369.3,244.9 369.3,244.5 370.1,243.7 370.1,243.3 372.2,241.2 372.6,241.2 373.0,240.8 373.8,240.8 374.2,240.4 375.8,240.4 376.2,240.0 377.4,240.0 377.8,239.6 379.8,239.6 380.2,240.0 380.6,240.0 381.4,240.8 381.8,240.8 382.2,241.2 382.7,241.7 382.7,242.1 383.9,243.3 383.9,243.7 384.3,244.1 384.3,244.5 384.7,244.9 384.7,245.7 385.1,246.1 385.1,246.5 385.5,246.9 385.5,247.7 385.9,248.1 385.9,249.3 386.3,249.7 386.3,250.9 386.7,251.3 386.7,252.5 387.1,252.9 387.1,254.9 387.5,255.3 387.5,259.7 387.9,260.1 388.0,268.1 388.4,268.5 388.4,271.3 388.0,271.7 388.0,275.3 387.6,275.7 387.6,277.3 387.2,277.7 387.2,278.1 386.8,278.5 386.8,278.9 385.4,280.2 385.0,280.2 384.6,280.6 383.8,280.6 383.4,281.0Z" fill="#0000ff"/><path d="M383.4,280.8 376.6,280.8 373.8,279.5 372.8,278.5 372.6,277.9 372.0,277.3 371.9,276.5 371.6,276.1 371.5,274.9 371.1,274.1 371.1,273.3 370.8,272.9 370.7,272.1 370.3,271.3 370.3,270.5 370.0,270.1 369.9,269.3 369.5,268.5 369.5,267.3 369.1,266.5 369.1,264.9 368.7,264.1 368.7,261.3 368.3,260.5 368.3,254.1 368.7,253.3 368.8,246.1 369.6,244.5 370.2,243.9 370.4,243.3 372.2,241.5 373.0,241.1 373.8,241.0 374.2,240.7 375.8,240.6 376.2,240.3 377.4,240.2 378.2,239.8 379.4,239.8 380.6,240.3 381.2,240.9 381.8,241.1 382.2,241.5 382.6,242.3 383.6,243.3 384.4,244.9 384.6,245.9 385.2,246.9 385.3,247.7 385.6,248.1 385.7,249.3 386.0,249.7 386.1,250.9 386.5,251.7 386.5,252.5 386.9,253.3 386.9,254.9 387.3,255.7 387.3,259.7 387.6,260.1 387.8,261.4 387.9,268.1 388.3,268.5 388.3,271.3 387.9,271.7 387.9,275.3 387.5,275.7 387.4,277.3 387.0,277.7 387.0,278.1 386.6,278.5 386.6,278.9 385.4,280.0 384.9,280.1 384.6,280.4 383.7,280.5 383.4,280.8Z" fill="#0039ff"/><path d="M383.0,280.3 376.9,280.1 374.2,278.8 373.5,278.1 373.1,277.3 372.7,276.9 372.5,276.1 372.3,275.7 371.7,272.9 371.1,271.3 370.9,270.1 370.3,268.5 370.1,266.9 369.8,266.1 369.7,264.5 369.4,263.7 369.4,261.3 369.0,260.1 369.0,254.5 369.4,253.3 369.5,246.5 371.1,243.7 372.6,242.2 374.6,241.4 376.2,241.2 376.6,241.0 377.8,240.8 378.6,240.5 379.4,240.6 380.2,241.0 381.7,242.1 382.1,242.9 382.9,243.7 384.6,247.3 384.8,248.1 385.0,248.5 385.2,249.7 385.4,250.1 385.6,251.3 385.8,251.7 385.9,252.9 386.2,253.5 386.2,254.9 386.6,256.1 386.6,259.7 386.7,260.1 387.2,260.9 387.4,261.7 387.7,264.5 387.8,268.1 388.2,268.5 388.2,271.3 387.8,271.7 387.7,274.9 387.3,275.7 387.2,276.9 386.2,278.6 385.4,279.3 384.2,280.0 383.0,280.3Z" fill="#0071ff"/><path d="M383.0,279.8 380.2,279.8 377.4,279.3 376.2,278.7 374.9,277.7 373.9,276.5 373.3,275.3 372.3,272.1 371.5,266.9 371.1,265.7 371.1,264.5 370.7,263.3 370.7,260.9 370.3,259.7 370.3,254.9 370.7,253.7 370.8,246.9 371.4,245.7 372.2,244.5 373.4,243.3 375.0,242.7 376.2,242.5 378.6,241.9 379.4,242.1 380.6,242.8 381.8,244.1 382.9,245.7 383.8,247.7 384.6,250.5 385.2,253.7 385.2,255.3 385.4,256.5 385.3,259.3 386.6,260.9 387.0,261.9 387.4,264.1 387.6,268.1 388.0,268.9 388.0,270.9 387.6,271.7 387.5,274.9 387.0,275.7 386.8,276.9 385.7,278.5 385.0,279.1 383.0,279.8Z" fill="#00aaff"/><path d="M382.6,279.4 380.2,279.3 378.2,278.9 377.0,278.5 375.4,277.3 374.4,276.1 373.8,274.9 373.2,273.3 372.6,270.5 372.6,267.7 373.0,265.7 373.6,264.1 374.7,262.5 375.0,261.7 373.7,258.9 372.7,255.3 372.7,251.7 373.0,248.8 373.5,247.3 375.1,245.3 376.9,244.1 378.6,243.6 379.8,243.9 381.1,244.9 382.0,246.1 383.1,248.1 383.9,250.9 384.3,254.1 384.1,256.5 383.6,258.9 383.8,259.3 385.9,260.9 386.6,262.1 387.1,264.5 387.4,268.1 387.8,268.9 387.8,270.9 387.4,271.7 387.2,274.5 386.4,276.9 385.0,278.5 383.8,279.1 382.6,279.4Z" fill="#00e3ff"/><path d="M382.2,278.9 380.2,278.8 378.2,278.4 377.0,277.8 375.8,276.8 374.9,275.7 374.3,274.5 373.8,273.3 373.2,270.5 373.1,268.1 373.5,266.1 374.2,264.5 375.4,262.5 376.0,260.9 374.6,258.5 373.9,256.1 373.7,253.3 373.9,250.5 374.5,248.5 375.4,246.9 376.6,245.7 378.2,245.0 379.4,245.2 380.6,245.9 381.9,247.7 382.7,249.3 383.1,250.9 383.5,254.1 383.2,256.5 382.6,258.9 383.8,260.2 385.4,261.2 386.2,262.5 386.8,264.5 387.2,268.1 387.5,268.9 387.6,270.5 387.2,271.7 386.9,274.5 386.2,276.5 385.4,277.5 384.6,278.2 383.8,278.6 382.2,278.9Z" fill="#00ffe3"/><path d="M383.4,278.2 382.2,278.4 380.2,278.3 378.2,277.7 377.0,277.1 375.9,276.1 375.1,274.9 374.4,273.3 373.9,271.3 373.7,268.5 374.0,266.5 374.6,265.1 375.7,263.3 377.2,260.1 375.8,258.4 375.0,256.4 374.6,253.7 374.8,251.3 375.2,249.7 376.0,248.1 377.0,247.0 378.2,246.5 379.4,246.7 380.2,247.2 381.0,248.1 381.8,249.5 382.4,251.7 382.6,254.5 382.2,256.9 381.4,258.9 383.4,260.7 385.0,261.7 385.8,262.8 386.6,264.9 387.0,268.1 387.3,269.3 387.3,270.5 386.9,271.7 386.6,274.5 385.7,276.5 384.5,277.7 383.4,278.2Z" fill="#00ffaa"/><path d="M379.0,258.9 377.8,258.7 377.1,258.1 376.6,257.4 375.9,255.7 375.6,253.7 375.7,251.7 376.3,249.7 377.4,248.4 378.6,248.1 379.8,248.5 380.8,249.7 381.5,251.3 381.8,253.3 381.6,255.3 381.0,257.1 380.2,258.3 379.0,258.9ZM383.0,277.7 381.8,277.9 380.2,277.7 378.6,277.3 377.4,276.6 376.4,275.7 375.5,274.5 374.8,272.9 374.4,271.3 374.3,268.5 374.5,267.3 375.0,265.7 377.8,260.7 378.6,259.9 379.4,259.4 380.2,259.4 381.0,259.7 383.1,261.3 384.6,262.2 385.2,262.9 385.8,263.9 386.5,266.1 386.8,268.5 387.1,269.3 387.0,270.5 386.8,271.3 386.2,274.5 385.0,276.6 384.1,277.3 383.0,277.7Z" fill="#00ff71"/><path d="M379.4,257.1 378.6,257.3 377.8,256.9 377.0,255.7 376.6,254.1 376.5,252.5 377.0,250.9 377.8,249.9 378.6,249.6 379.4,249.9 380.0,250.5 380.6,251.7 380.8,252.9 380.8,254.1 380.6,255.3 380.2,256.2 379.4,257.1ZM381.8,277.3 380.2,277.1 379.0,276.8 377.8,276.1 377.0,275.5 376.2,274.5 375.6,273.3 374.9,270.5 374.9,268.1 375.2,266.9 375.7,265.7 377.4,262.8 378.2,261.7 379.0,261.0 379.8,260.7 380.6,260.8 381.4,261.1 384.2,262.7 385.0,263.5 385.9,265.3 386.5,268.5 386.8,269.3 386.8,270.5 385.8,274.5 384.7,276.1 384.2,276.6 383.4,277.1 381.8,277.3Z" fill="#00ff39"/><path d="M379.4,255.3 379.0,255.6 378.6,255.7 378.2,255.4 377.8,254.9 377.6,254.1 377.5,252.9 377.7,252.1 378.2,251.4 378.6,251.2 379.0,251.3 379.4,251.7 379.9,252.9 379.9,254.1 379.4,255.3ZM383.0,276.6 381.8,276.7 380.6,276.6 379.4,276.3 378.2,275.6 377.3,274.9 376.6,273.9 376.1,272.9 375.6,271.3 375.5,268.9 375.6,267.7 376.1,266.5 378.2,263.0 379.0,262.3 379.8,262.0 380.6,261.9 381.4,262.1 383.4,263.0 384.2,263.6 385.2,264.9 385.9,266.9 386.4,269.3 386.5,270.1 385.8,273.3 385.4,274.3 384.6,275.4 383.9,276.1 383.0,276.6Z" fill="#00ff00"/><path d="M381.8,276.1 379.7,275.7 378.6,275.1 377.8,274.5 377.2,273.7 376.6,272.5 376.1,270.5 376.1,268.5 376.8,266.5 378.6,263.9 379.4,263.3 380.2,263.0 381.0,263.0 383.0,263.6 384.3,264.5 385.0,265.5 385.4,266.4 386.1,269.7 385.6,272.5 385.0,274.1 383.4,275.7 382.6,276.0 381.8,276.1Z" fill="#39ff00"/><path d="M382.6,275.3 381.8,275.5 380.6,275.3 378.8,274.5 378.2,273.9 377.5,272.9 376.8,270.9 376.7,268.9 377.3,266.9 377.8,266.1 378.6,265.2 379.4,264.4 380.2,264.1 382.2,264.1 383.0,264.4 383.8,264.9 384.5,265.7 385.0,266.6 385.7,269.3 385.8,270.1 384.9,273.3 384.4,274.1 383.8,274.6 382.6,275.3Z" fill="#71ff00"/><path d="M382.6,274.6 381.8,274.8 381.0,274.7 379.8,274.3 379.0,273.8 378.0,272.5 377.3,270.5 377.4,268.5 378.2,266.6 379.4,265.4 381.0,264.8 382.6,264.9 383.8,265.7 384.8,267.3 385.4,269.7 385.0,271.6 384.5,272.9 383.8,273.9 382.6,274.6Z" fill="#aaff00"/><path d="M383.0,273.7 382.2,274.0 381.4,274.1 380.2,273.8 379.0,272.9 378.1,271.3 377.9,269.3 378.3,267.7 379.2,266.5 380.6,265.6 381.8,265.5 383.0,265.9 384.0,266.9 384.6,268.1 385.0,269.7 384.8,270.9 384.2,272.5 383.5,273.3 383.0,273.7Z" fill="#e3ff00"/><path d="M382.2,273.3 381.0,273.3 379.8,272.7 379.0,271.7 378.5,270.1 378.7,268.5 379.4,267.3 380.2,266.6 381.4,266.2 382.6,266.4 383.4,267.0 384.1,268.1 384.5,269.7 384.3,270.9 383.8,272.1 383.0,272.9 382.2,273.3Z" fill="#ffe300"/><path d="M382.2,272.6 381.0,272.6 380.2,272.1 379.5,271.3 379.2,270.1 379.3,268.9 379.6,268.1 380.4,267.3 381.4,266.9 382.2,267.0 383.0,267.5 383.7,268.5 384.0,269.7 383.9,270.5 383.4,271.7 383.0,272.1 382.2,272.6Z" fill="#ffaa00"/><path d="M382.2,271.9 381.4,271.9 380.6,271.5 380.1,270.9 379.8,270.1 379.9,269.3 380.2,268.5 380.6,268.1 381.4,267.7 382.2,267.7 382.6,267.9 383.1,268.5 383.5,269.3 383.5,270.1 383.2,270.9 382.6,271.7 382.2,271.9Z" fill="#ff7100"/><path d="M382.2,271.1 381.4,271.2 381.0,270.9 380.5,270.1 380.6,269.2 381.0,268.7 381.4,268.4 382.2,268.5 382.6,268.8 382.9,269.3 383.0,270.1 382.6,270.8 382.2,271.1Z" fill="#ff3900"/><path d="M381.8,270.5 381.4,270.3 381.2,269.7 381.4,269.3 381.8,269.1 382.2,269.2 382.5,269.7 382.2,270.4 381.8,270.5Z" fill="#ff0000"/></g>
<rect x="344.90" y="236.00" width="60.50" height="58.90" fill="none" stroke="#111" stroke-width="0.9"/>
<path d="M343.30,278.17H344.90M343.30,275.81H344.90M343.30,274.13H344.90M343.30,272.83H344.90M343.30,271.77H344.90M343.30,270.88H344.90M343.30,270.10H344.90M343.30,269.41H344.90M343.30,264.77H344.90M343.30,262.41H344.90M343.30,260.73H344.90M343.30,259.43H344.90M343.30,258.37H344.90M343.30,257.48H344.90M343.30,256.70H344.90M343.30,256.01H344.90M343.30,251.37H344.90M343.30,249.01H344.90M343.30,247.33H344.90M343.30,246.03H344.90M343.30,244.97H344.90M343.30,244.08H344.90M343.30,243.30H344.90M343.30,242.61H344.90M342.30,289.50H344.90M342.30,282.20H344.90M342.30,268.80H344.90M342.30,255.40H344.90M342.30,242.00H344.90M343.50,294.90H344.90M343.50,293.20H344.90M343.50,291.80H344.90M343.50,286.90H344.90M343.50,284.90H344.90M361.43,294.90V296.50M363.79,294.90V296.50M365.47,294.90V296.50M366.77,294.90V296.50M367.83,294.90V296.50M368.72,294.90V296.50M369.50,294.90V296.50M370.19,294.90V296.50M374.83,294.90V296.50M377.19,294.90V296.50M378.87,294.90V296.50M380.17,294.90V296.50M381.23,294.90V296.50M382.12,294.90V296.50M382.90,294.90V296.50M383.59,294.90V296.50M388.23,294.90V296.50M390.59,294.90V296.50M392.27,294.90V296.50M393.57,294.90V296.50M394.63,294.90V296.50M395.52,294.90V296.50M396.30,294.90V296.50M396.99,294.90V296.50M350.40,294.90V297.50M357.40,294.90V297.50M370.80,294.90V297.50M384.20,294.90V297.50M397.60,294.90V297.50M346.40,294.90V296.30M347.90,294.90V296.30M352.90,294.90V296.30M354.90,294.90V296.30" stroke="#111" stroke-width="0.6" fill="none"/>
<text x="339.90" y="244.70" font-size="6.4" text-anchor="end" font-weight="normal" fill="#2a2a2a">10<tspan dy="-2.43" font-size="4.61">5</tspan></text>
<text x="339.90" y="258.10" font-size="6.4" text-anchor="end" font-weight="normal" fill="#2a2a2a">10<tspan dy="-2.43" font-size="4.61">4</tspan></text>
<text x="339.90" y="271.50" font-size="6.4" text-anchor="end" font-weight="normal" fill="#2a2a2a">10<tspan dy="-2.43" font-size="4.61">3</tspan></text>
<text x="339.90" y="286.50" font-size="6.4" text-anchor="end" font-weight="normal" fill="#2a2a2a">10<tspan dy="-2.43" font-size="4.61">2</tspan></text>
<text x="339.10" y="292.10" font-size="6.4" text-anchor="end" font-weight="normal" fill="#2a2a2a">0</text>
<text x="350.40" y="306.90" font-size="6.4" text-anchor="middle" font-weight="normal" fill="#2a2a2a">0</text>
<text x="357.80" y="306.90" font-size="6.4" text-anchor="middle" font-weight="normal" fill="#2a2a2a">10<tspan dy="-2.43" font-size="4.61">2</tspan></text>
<text x="371.50" y="306.90" font-size="6.4" text-anchor="middle" font-weight="normal" fill="#2a2a2a">10<tspan dy="-2.43" font-size="4.61">3</tspan></text>
<text x="385.20" y="306.90" font-size="6.4" text-anchor="middle" font-weight="normal" fill="#2a2a2a">10<tspan dy="-2.43" font-size="4.61">4</tspan></text>
<text x="399.30" y="306.90" font-size="6.4" text-anchor="middle" font-weight="normal" fill="#2a2a2a">10<tspan dy="-2.43" font-size="4.61">5</tspan></text>
<g><path d="M206.7,375.1 200.7,375.3 194.6,375.0 194.6,371.0 194.2,370.6 194.2,362.2 194.6,361.8 194.6,360.2 194.2,359.8 194.1,359.4 193.7,359.0 193.7,358.2 193.3,357.8 193.3,356.6 192.9,356.2 192.9,350.6 193.3,350.2 193.4,348.6 193.8,348.2 193.8,347.4 194.2,347.0 194.2,346.6 194.6,346.2 194.6,345.8 194.2,345.4 194.2,343.4 195.9,341.7 196.3,341.7 196.7,341.3 197.9,341.3 198.3,340.9 202.7,340.9 203.1,341.3 203.9,341.3 204.3,341.7 204.7,341.7 205.1,342.1 205.5,342.1 206.3,342.9 206.7,342.9 207.1,343.3 207.5,343.3 207.9,343.7 208.3,343.7 208.7,344.1 209.1,344.1 210.8,345.8 210.8,346.2 211.2,346.6 211.2,347.0 211.6,347.4 211.6,348.6 212.0,349.0 212.1,356.2 211.7,356.6 211.7,357.8 211.3,358.2 211.3,358.6 210.9,359.0 210.9,359.4 210.5,359.8 210.4,360.2 210.0,360.6 210.0,361.0 208.7,362.3 208.3,362.3 207.2,363.4 207.2,371.0 206.8,371.4 206.7,375.1Z" fill="#0000ff"/><path d="M205.1,375.1 200.7,375.3 196.4,375.0 196.5,371.4 196.3,370.6 195.9,369.8 195.5,367.4 195.3,363.4 195.4,362.2 195.0,361.4 194.7,360.2 193.9,359.0 193.9,358.2 193.5,357.8 193.4,356.6 193.0,356.2 193.1,350.6 193.5,350.2 193.5,349.0 194.1,347.8 194.7,347.0 196.4,345.4 196.1,344.6 196.2,344.2 196.7,343.7 197.5,343.2 198.3,343.1 199.1,342.8 201.9,342.8 203.9,343.6 205.5,344.6 208.7,345.7 209.6,346.2 210.6,347.0 211.2,347.8 211.4,348.6 211.9,349.4 212.0,356.2 211.6,356.6 211.5,357.8 211.1,358.2 211.1,358.6 210.7,359.0 210.7,359.4 209.5,361.0 206.7,362.9 206.3,363.4 205.9,369.0 205.6,370.2 205.2,371.0 204.9,372.2 204.9,373.8 205.3,374.2 205.4,374.6 205.4,375.0 205.1,375.1Z" fill="#0039ff"/><path d="M201.9,369.9 201.1,370.2 200.3,370.1 199.1,369.3 198.3,368.1 197.5,365.8 197.2,363.0 195.7,361.4 193.7,357.4 193.7,356.6 193.3,355.8 193.3,352.6 193.4,351.0 193.8,350.2 194.1,349.0 194.9,347.8 195.9,346.8 197.1,346.0 198.7,345.4 200.7,345.1 202.7,345.1 205.5,345.4 207.9,346.1 209.1,346.7 210.4,347.8 211.4,349.4 211.5,350.0 211.7,352.2 211.7,355.4 211.7,355.8 211.3,356.6 211.3,357.4 210.3,359.0 209.2,360.6 204.8,363.4 204.6,363.8 204.3,365.8 203.6,367.8 202.7,369.3 201.9,369.9ZM204.7,375.0 200.7,375.3 197.1,375.0 197.3,374.2 197.9,373.9 199.1,373.6 201.1,373.5 203.1,373.6 204.3,374.0 204.7,374.2 204.9,374.6 204.9,375.0 204.7,375.0Z" fill="#0071ff"/><path d="M201.1,364.7 200.7,364.7 200.3,364.4 199.7,363.4 197.9,362.6 196.8,361.8 196.1,361.0 194.7,358.6 194.1,357.4 193.9,356.2 193.6,355.8 193.6,353.0 193.8,351.0 194.1,350.6 194.4,349.4 195.5,348.0 197.1,346.8 198.7,346.1 200.7,345.7 203.1,345.7 205.1,346.0 207.5,346.6 208.7,347.2 209.9,348.1 211.0,349.8 211.3,351.8 211.4,354.6 211.4,355.8 211.1,356.2 210.9,357.4 209.8,359.0 208.7,360.3 204.7,362.8 202.0,363.8 201.5,364.5 201.1,364.7ZM204.3,375.0 201.1,375.2 197.6,375.0 197.6,374.6 197.9,374.2 198.3,374.0 201.1,373.8 202.7,373.8 203.9,374.1 204.4,374.6 204.4,375.0 204.3,375.0Z" fill="#00aaff"/><path d="M201.9,363.1 200.7,363.1 199.1,362.6 197.8,361.8 196.7,360.8 195.1,358.4 194.4,357.0 193.9,355.4 193.9,353.0 194.1,351.4 195.0,349.4 196.3,348.0 197.9,347.1 199.5,346.5 201.1,346.3 203.1,346.3 205.1,346.5 207.1,347.1 208.3,347.6 209.5,348.6 210.5,349.8 210.8,351.0 211.1,353.0 211.1,355.4 210.4,357.4 209.5,358.7 208.3,360.0 204.3,362.3 201.9,363.1ZM203.9,375.0 201.1,375.2 198.0,375.0 198.0,374.6 198.4,374.2 199.5,374.0 201.1,373.9 202.7,374.0 203.6,374.2 204.0,374.6 203.9,375.0Z" fill="#00e3ff"/><path d="M202.7,362.3 201.5,362.6 200.7,362.5 199.1,361.9 197.7,361.0 195.4,358.2 194.3,355.4 194.3,353.4 194.4,351.8 195.5,349.6 196.5,348.6 197.5,347.9 199.1,347.2 200.7,346.9 202.7,346.8 204.7,347.0 206.7,347.5 207.9,348.1 208.7,348.6 209.9,349.9 210.4,351.0 210.7,352.6 210.7,355.4 210.1,357.0 209.1,358.5 207.5,360.0 204.7,361.5 202.7,362.3ZM203.5,375.0 201.1,375.2 198.5,375.0 198.5,374.6 199.1,374.2 201.1,374.1 202.9,374.2 203.5,374.6 203.5,375.0Z" fill="#00ffe3"/><path d="M202.3,361.8 201.1,362.0 200.7,362.0 199.1,361.3 197.9,360.5 195.9,358.1 195.3,357.0 194.7,355.4 194.6,354.6 194.7,353.0 194.9,351.8 196.0,349.8 197.1,348.8 198.3,348.2 199.9,347.6 201.5,347.4 203.1,347.4 205.1,347.7 206.7,348.1 207.9,348.7 209.1,349.8 209.7,350.6 210.1,351.8 210.3,353.4 210.3,355.4 209.6,357.0 208.7,358.2 207.5,359.4 205.9,360.4 203.9,361.3 202.3,361.8ZM202.7,375.0 200.7,375.1 198.9,375.0 199.0,374.6 199.5,374.3 201.5,374.2 202.3,374.3 203.0,374.6 203.1,375.0 202.7,375.0Z" fill="#00ffaa"/><path d="M201.1,361.4 199.9,361.0 198.5,360.2 197.1,358.9 196.2,357.8 195.6,356.6 195.1,355.0 195.1,353.4 195.4,351.8 196.3,350.4 197.1,349.6 198.3,348.8 199.9,348.2 201.5,348.0 203.1,348.0 205.1,348.3 206.7,348.8 207.8,349.4 208.7,350.2 209.6,351.8 209.9,353.0 209.9,354.6 209.8,355.4 209.3,356.6 208.3,357.9 206.7,359.3 203.9,360.7 202.3,361.2 201.1,361.4ZM202.3,375.0 199.4,375.0 199.5,374.6 201.1,374.4 202.5,374.6 202.6,375.0 202.3,375.0Z" fill="#00ff71"/><path d="M202.3,360.6 201.1,360.8 200.3,360.5 199.1,359.9 197.9,359.0 196.8,357.8 196.1,356.6 195.6,355.0 195.5,354.2 195.6,353.0 196.0,351.8 197.3,350.2 199.1,349.1 200.3,348.7 201.9,348.5 203.5,348.6 205.1,348.8 206.3,349.2 207.5,349.9 208.3,350.6 208.8,351.4 209.3,352.6 209.4,353.8 209.4,355.0 208.7,356.6 207.1,358.4 206.3,359.0 204.8,359.8 202.3,360.6ZM201.9,375.0 199.8,375.0 200.0,374.6 201.1,374.5 202.0,374.6 202.2,375.0 201.9,375.0Z" fill="#00ff39"/><path d="M203.1,359.8 201.1,360.1 200.3,359.9 199.1,359.3 197.9,358.3 197.1,357.4 196.6,356.6 196.2,355.4 196.0,354.6 196.1,353.4 196.7,351.8 197.5,350.8 198.2,350.2 199.9,349.4 201.5,349.1 202.7,349.1 205.5,349.6 206.7,350.1 207.5,350.7 208.3,351.7 208.7,352.6 208.9,353.8 208.8,355.0 208.1,356.6 206.3,358.4 204.7,359.3 203.1,359.8ZM201.5,375.0 200.3,375.0 200.7,374.7 201.1,374.7 201.7,375.0 201.5,375.0Z" fill="#00ff00"/><path d="M202.3,359.4 201.5,359.5 200.3,359.2 199.1,358.6 197.9,357.5 197.2,356.6 196.7,355.4 196.6,354.6 196.7,353.4 197.4,351.8 198.2,351.0 199.1,350.4 200.3,349.9 201.5,349.7 202.7,349.7 204.3,349.8 206.3,350.6 207.5,351.6 208.2,353.0 208.3,354.6 207.6,356.2 206.2,357.8 204.3,358.8 202.3,359.4Z" fill="#39ff00"/><path d="M203.1,358.6 201.5,358.8 199.9,358.3 198.3,357.1 197.4,355.8 197.1,354.2 197.5,352.7 198.6,351.4 199.9,350.6 201.9,350.2 203.5,350.3 204.7,350.5 206.4,351.4 207.1,352.2 207.5,353.0 207.7,354.6 207.4,355.4 206.7,356.5 205.2,357.8 203.1,358.6Z" fill="#71ff00"/><path d="M201.9,358.2 200.2,357.8 199.5,357.4 198.6,356.6 198.1,355.8 197.8,355.0 197.7,354.2 197.9,353.2 198.3,352.5 199.0,351.8 200.7,350.9 202.7,350.8 204.7,351.2 205.9,351.9 206.7,352.8 207.0,353.8 206.8,355.0 206.2,356.2 205.1,357.2 203.5,357.9 201.9,358.2Z" fill="#aaff00"/><path d="M203.1,357.4 201.9,357.6 200.7,357.3 199.5,356.6 198.8,355.8 198.3,354.6 198.4,353.8 199.0,352.6 199.9,351.9 201.5,351.3 203.1,351.3 204.7,351.9 205.5,352.4 206.0,353.0 206.3,353.8 206.3,354.6 205.8,355.8 204.7,356.8 203.1,357.4Z" fill="#e3ff00"/><path d="M203.5,356.7 202.3,356.9 201.5,356.9 200.3,356.4 199.6,355.8 199.1,355.0 199.0,354.2 199.2,353.4 199.8,352.6 201.1,352.0 202.7,351.8 204.2,352.2 205.1,352.9 205.6,353.8 205.5,355.0 204.7,356.0 203.5,356.7Z" fill="#ffe300"/><path d="M202.7,356.3 201.9,356.3 201.1,356.1 200.3,355.6 199.9,355.0 199.7,354.2 199.8,353.8 200.0,353.4 200.7,352.7 201.9,352.3 203.1,352.4 203.9,352.7 204.7,353.4 205.0,354.2 204.7,355.1 203.9,355.8 202.7,356.3Z" fill="#ffaa00"/><path d="M203.1,355.5 201.9,355.6 201.3,355.4 200.8,355.0 200.4,354.2 200.8,353.4 201.5,353.0 202.3,352.8 203.1,352.9 203.9,353.4 204.2,353.8 204.2,354.6 203.9,355.0 203.1,355.5Z" fill="#ff7100"/><path d="M202.3,355.0 201.4,354.6 201.3,354.2 201.4,353.8 202.3,353.4 203.1,353.5 203.4,353.8 203.6,354.2 203.4,354.6 202.7,355.0 202.3,355.0Z" fill="#ff3900"/><path d="M202.7,354.3 202.1,354.2 202.3,354.0 202.7,354.1 202.7,354.3Z" fill="#ff0000"/></g>
<rect x="167.00" y="316.50" width="60.50" height="58.90" fill="none" stroke="#111" stroke-width="0.9"/>
<path d="M165.40,358.67H167.00M165.40,356.31H167.00M165.40,354.63H167.00M165.40,353.33H167.00M165.40,352.27H167.00M165.40,351.38H167.00M165.40,350.60H167.00M165.40,349.91H167.00M165.40,345.27H167.00M165.40,342.91H167.00M165.40,341.23H167.00M165.40,339.93H167.00M165.40,338.87H167.00M165.40,337.98H167.00M165.40,337.20H167.00M165.40,336.51H167.00M165.40,331.87H167.00M165.40,329.51H167.00M165.40,327.83H167.00M165.40,326.53H167.00M165.40,325.47H167.00M165.40,324.58H167.00M165.40,323.80H167.00M165.40,323.11H167.00M164.40,370.00H167.00M164.40,362.70H167.00M164.40,349.30H167.00M164.40,335.90H167.00M164.40,322.50H167.00M165.60,375.40H167.00M165.60,373.70H167.00M165.60,372.30H167.00M165.60,367.40H167.00M165.60,365.40H167.00M183.53,375.40V377.00M185.89,375.40V377.00M187.57,375.40V377.00M188.87,375.40V377.00M189.93,375.40V377.00M190.82,375.40V377.00M191.60,375.40V377.00M192.29,375.40V377.00M196.93,375.40V377.00M199.29,375.40V377.00M200.97,375.40V377.00M202.27,375.40V377.00M203.33,375.40V377.00M204.22,375.40V377.00M205.00,375.40V377.00M205.69,375.40V377.00M210.33,375.40V377.00M212.69,375.40V377.00M214.37,375.40V377.00M215.67,375.40V377.00M216.73,375.40V377.00M217.62,375.40V377.00M218.40,375.40V377.00M219.09,375.40V377.00M172.50,375.40V378.00M179.50,375.40V378.00M192.90,375.40V378.00M206.30,375.40V378.00M219.70,375.40V378.00M168.50,375.40V376.80M170.00,375.40V376.80M175.00,375.40V376.80M177.00,375.40V376.80" stroke="#111" stroke-width="0.6" fill="none"/>
<text x="162.00" y="325.20" font-size="6.4" text-anchor="end" font-weight="normal" fill="#2a2a2a">10<tspan dy="-2.43" font-size="4.61">5</tspan></text>
<text x="162.00" y="338.60" font-size="6.4" text-anchor="end" font-weight="normal" fill="#2a2a2a">10<tspan dy="-2.43" font-size="4.61">4</tspan></text>
<text x="162.00" y="352.00" font-size="6.4" text-anchor="end" font-weight="normal" fill="#2a2a2a">10<tspan dy="-2.43" font-size="4.61">3</tspan></text>
<text x="162.00" y="367.00" font-size="6.4" text-anchor="end" font-weight="normal" fill="#2a2a2a">10<tspan dy="-2.43" font-size="4.61">2</tspan></text>
<text x="161.20" y="372.60" font-size="6.4" text-anchor="end" font-weight="normal" fill="#2a2a2a">0</text>
<text x="172.50" y="387.40" font-size="6.4" text-anchor="middle" font-weight="normal" fill="#2a2a2a">0</text>
<text x="179.90" y="387.40" font-size="6.4" text-anchor="middle" font-weight="normal" fill="#2a2a2a">10<tspan dy="-2.43" font-size="4.61">2</tspan></text>
<text x="193.60" y="387.40" font-size="6.4" text-anchor="middle" font-weight="normal" fill="#2a2a2a">10<tspan dy="-2.43" font-size="4.61">3</tspan></text>
<text x="207.30" y="387.40" font-size="6.4" text-anchor="middle" font-weight="normal" fill="#2a2a2a">10<tspan dy="-2.43" font-size="4.61">4</tspan></text>
<text x="221.40" y="387.40" font-size="6.4" text-anchor="middle" font-weight="normal" fill="#2a2a2a">10<tspan dy="-2.43" font-size="4.61">5</tspan></text>
<g><path d="M296.7,367.9 296.3,367.9 295.8,367.4 295.8,364.2 295.5,363.9 294.3,363.9 293.9,363.5 292.7,363.5 292.3,363.1 291.9,363.1 291.5,362.7 291.1,362.7 288.6,360.2 288.6,359.8 288.2,359.4 288.2,358.6 287.8,358.2 287.7,356.2 287.3,355.8 287.3,353.8 286.9,353.4 286.9,351.4 286.5,351.0 286.6,342.2 287.0,341.8 287.0,334.2 287.4,333.8 287.4,331.0 287.8,330.6 287.8,329.0 288.2,328.6 288.2,327.4 289.0,326.6 289.0,326.2 289.4,325.8 289.4,325.4 291.9,322.9 292.3,322.9 292.7,322.5 293.1,322.5 293.5,322.1 296.7,322.1 297.1,322.5 299.1,322.5 299.5,322.9 300.3,322.9 300.7,323.3 301.1,323.3 303.2,325.4 303.2,325.8 303.6,326.2 303.6,327.0 304.0,327.4 304.0,328.6 304.4,329.0 304.4,330.6 304.8,331.0 304.8,333.0 305.2,333.4 305.2,342.2 305.6,342.6 305.7,348.2 305.3,348.6 305.3,353.0 304.9,353.4 304.8,356.6 304.4,357.0 304.4,358.2 304.0,358.6 304.0,359.0 303.6,359.4 303.6,360.2 303.2,360.6 303.2,361.0 302.4,361.8 302.4,362.2 301.5,363.1 301.1,363.1 300.7,363.5 300.3,363.5 299.9,363.9 297.5,363.9 297.2,364.2 297.2,364.6 297.6,365.0 297.6,365.4 297.2,365.8 297.2,367.4 296.7,367.9Z" fill="#0000ff"/><path d="M296.7,364.1 296.3,364.1 296.2,363.8 295.9,363.5 294.7,363.4 293.9,363.0 293.1,363.0 291.5,362.2 289.4,360.2 288.7,359.0 288.7,358.6 288.1,357.8 287.9,356.2 287.5,355.8 287.4,353.8 287.1,353.4 287.0,351.4 286.7,351.0 286.7,347.8 287.1,345.4 287.1,342.6 287.5,341.8 287.5,334.6 287.9,333.8 287.9,331.4 288.3,330.6 288.3,329.4 288.7,328.6 288.7,327.8 289.4,327.0 289.9,325.8 290.7,324.9 292.3,323.4 293.9,322.6 296.3,322.6 297.1,323.0 298.7,323.0 299.1,323.3 299.9,323.4 300.7,323.8 302.4,325.4 303.1,326.6 303.2,327.4 303.5,327.8 303.5,328.6 303.9,329.4 303.9,330.6 304.3,331.4 304.3,333.0 304.7,333.8 304.7,342.2 305.1,343.0 305.1,345.4 305.5,348.2 305.1,348.6 305.2,353.0 304.8,353.4 304.6,356.6 304.2,357.0 304.1,357.8 303.2,359.0 303.1,359.8 302.7,360.6 302.0,361.4 301.5,362.3 299.5,363.4 297.1,363.5 296.8,363.8 296.7,364.1ZM296.7,365.7 296.4,365.4 296.4,365.0 296.7,364.7 296.7,365.7Z" fill="#0039ff"/><path d="M298.7,361.5 296.3,361.6 293.6,361.0 290.3,359.2 289.5,358.6 288.7,357.6 288.3,356.2 287.8,355.4 287.7,353.8 287.3,353.0 287.3,351.4 286.9,350.6 287.1,348.2 287.4,346.6 287.9,345.4 289.0,344.2 289.2,342.2 289.1,337.8 289.2,335.0 289.6,332.2 290.6,328.6 291.7,326.6 293.1,325.2 294.3,324.5 295.5,324.3 297.9,324.7 299.5,325.4 300.7,326.4 301.1,327.0 302.5,332.2 302.6,333.8 302.9,334.6 303.1,339.8 302.8,342.6 303.2,344.2 303.9,344.9 304.7,346.2 305.0,347.8 304.8,348.6 304.9,352.6 304.5,353.4 304.2,356.2 303.5,357.6 302.7,358.5 301.5,359.5 300.9,359.8 299.9,361.0 298.7,361.5Z" fill="#0071ff"/><path d="M298.7,359.8 296.3,360.1 293.9,359.9 291.9,359.3 290.3,358.4 289.2,357.4 288.3,355.4 288.0,353.8 287.6,353.0 287.6,351.4 287.3,350.6 287.5,348.3 288.0,346.6 288.7,345.5 289.9,344.3 290.6,343.4 290.2,339.8 290.2,336.6 289.9,334.6 289.9,333.4 290.2,332.2 291.5,330.2 292.0,329.0 293.1,327.4 294.3,326.4 295.5,326.0 297.5,326.4 298.7,327.1 299.5,328.1 300.5,330.2 301.4,332.6 301.9,336.6 302.4,337.8 302.6,339.0 302.4,341.0 301.5,343.0 301.4,343.4 303.5,345.5 304.0,346.2 304.5,347.4 304.6,352.6 304.2,353.4 303.9,355.8 303.0,357.4 301.9,358.4 300.7,359.2 298.7,359.8Z" fill="#00aaff"/><path d="M297.5,359.4 295.5,359.5 293.1,359.1 291.5,358.5 290.0,357.4 288.6,355.0 288.3,353.4 287.9,352.6 287.9,351.0 287.7,350.2 288.0,348.2 288.6,346.6 291.8,343.0 291.4,340.6 291.3,337.8 290.6,336.2 290.3,335.0 290.3,333.4 290.7,332.2 291.4,331.0 292.3,330.1 294.7,328.5 295.9,328.2 297.1,328.4 297.9,328.9 299.9,330.9 300.9,332.6 301.1,334.2 301.0,335.8 302.0,337.8 302.3,339.4 302.1,340.6 301.9,341.4 300.6,343.4 303.0,345.8 303.8,347.0 304.0,347.4 304.3,350.6 304.3,352.2 304.0,353.0 303.5,355.4 302.6,357.0 301.8,357.8 300.3,358.7 298.7,359.3 297.5,359.4Z" fill="#00e3ff"/><path d="M298.7,358.7 296.7,358.9 294.7,358.9 293.1,358.5 291.5,357.9 290.3,357.0 289.0,355.0 288.3,352.6 288.1,350.2 288.3,348.8 288.7,347.6 289.3,346.6 291.0,344.6 293.1,342.6 292.6,340.6 292.3,338.2 291.4,337.0 290.7,335.4 290.6,334.2 290.8,333.0 291.3,331.8 292.3,330.6 293.5,329.8 295.1,329.3 296.7,329.3 298.3,330.0 299.5,331.0 300.3,332.2 300.7,333.8 300.6,335.8 301.6,337.8 301.9,339.4 301.8,340.6 301.5,341.4 300.1,343.4 300.2,343.8 303.2,347.0 303.8,349.8 303.9,352.2 302.8,355.8 301.9,357.0 301.1,357.6 299.9,358.3 298.7,358.7Z" fill="#00ffe3"/><path d="M298.3,358.2 296.3,358.4 294.7,358.3 293.1,358.0 291.9,357.4 290.7,356.6 289.6,355.0 288.7,352.6 288.6,349.8 289.2,347.8 291.8,344.6 294.5,342.6 293.9,341.8 293.3,340.6 293.2,338.6 291.9,337.1 291.2,335.8 291.0,334.6 291.2,333.0 291.7,331.8 292.7,330.7 293.9,330.0 295.1,329.7 296.7,329.7 297.9,330.2 299.1,331.1 300.0,332.6 300.3,333.8 300.3,335.4 300.6,336.6 301.4,338.2 301.6,339.8 301.1,341.4 300.6,342.2 299.7,343.0 299.4,343.8 300.7,345.0 302.5,347.0 303.1,348.5 303.5,350.2 303.5,352.2 302.5,355.4 301.0,357.0 299.9,357.6 298.3,358.2Z" fill="#00ffaa"/><path d="M297.1,357.8 295.5,357.8 293.9,357.6 292.7,357.2 291.6,356.6 290.7,355.7 289.9,354.6 289.1,352.2 289.0,349.8 289.4,348.6 289.9,347.8 292.3,344.9 295.1,343.0 295.0,342.6 294.3,341.8 293.9,341.0 293.6,339.8 293.5,338.6 293.1,337.9 292.0,336.6 291.6,335.8 291.4,334.2 291.7,332.6 292.7,331.2 293.9,330.4 295.5,330.0 297.1,330.3 298.3,330.9 299.2,331.8 299.8,333.0 300.0,334.2 299.9,335.4 300.4,337.0 301.0,338.2 301.2,339.8 300.7,341.4 299.2,343.0 298.7,343.8 298.9,344.2 300.7,345.8 302.2,347.8 302.9,349.4 303.1,351.0 303.1,352.2 302.5,354.2 301.9,355.4 300.7,356.5 299.9,357.0 298.3,357.6 297.1,357.8Z" fill="#00ff71"/><path d="M298.3,357.0 297.1,357.3 295.5,357.3 293.9,357.0 292.7,356.6 291.5,355.8 290.5,354.6 289.5,352.2 289.5,350.2 289.7,349.4 290.3,348.2 291.8,346.2 293.1,345.0 294.3,344.2 295.5,343.9 296.8,343.8 296.3,343.7 295.6,342.6 294.8,341.8 294.3,341.1 294.0,340.2 293.8,338.6 293.5,337.8 292.2,336.2 291.8,334.6 292.0,333.0 292.7,331.8 293.9,330.8 295.1,330.4 296.3,330.4 297.8,331.0 298.7,331.8 299.4,333.0 299.6,333.8 299.6,335.4 300.1,337.0 300.8,338.6 300.8,340.2 300.5,341.0 299.9,341.9 297.9,343.5 297.3,343.8 297.7,344.2 299.5,345.4 300.7,346.6 302.0,348.6 302.6,350.6 302.6,352.2 302.1,353.8 301.5,355.0 299.9,356.4 298.3,357.0Z" fill="#00ff39"/><path d="M297.5,342.7 297.1,342.7 296.3,342.5 295.5,342.0 294.9,341.4 294.3,340.2 294.2,339.0 293.6,337.4 292.7,336.2 292.2,335.0 292.2,333.4 292.7,332.3 293.7,331.4 295.1,330.8 296.3,330.8 297.1,331.1 297.9,331.6 298.7,332.5 299.2,333.8 299.2,335.0 299.9,337.4 300.3,338.2 300.6,339.0 300.5,340.2 299.9,341.4 298.9,342.2 297.5,342.7ZM297.5,356.6 296.3,356.8 294.7,356.6 292.7,355.9 291.1,354.6 290.6,353.8 290.0,352.2 290.1,349.8 290.5,349.0 291.5,347.4 292.3,346.4 293.5,345.4 294.7,344.8 295.5,344.6 296.3,344.5 297.5,344.8 298.6,345.4 299.5,346.1 300.3,347.0 301.5,348.8 302.1,350.6 302.1,352.2 301.6,353.8 301.1,354.6 300.3,355.4 299.5,355.9 297.5,356.6Z" fill="#00ff00"/><path d="M297.5,342.2 296.3,342.0 295.5,341.5 295.1,341.0 294.7,340.2 294.6,339.0 293.9,337.0 293.1,336.1 292.6,335.0 292.5,333.8 293.0,332.6 293.9,331.7 295.1,331.2 295.9,331.2 296.9,331.4 297.6,331.8 298.3,332.6 298.8,333.8 298.8,335.0 300.2,339.0 300.2,340.2 299.5,341.3 298.7,341.9 297.5,342.2ZM296.3,356.2 294.3,356.0 293.1,355.5 292.3,355.0 291.3,353.8 290.5,351.8 290.8,349.8 292.3,347.3 293.9,345.9 295.1,345.4 295.9,345.3 296.7,345.3 297.9,345.7 299.5,346.9 301.2,349.4 301.5,350.2 301.7,351.4 301.1,353.5 300.7,354.2 299.9,355.0 298.3,355.8 296.3,356.2Z" fill="#39ff00"/><path d="M297.5,341.8 296.3,341.6 295.9,341.4 295.3,340.6 295.0,339.8 294.9,339.0 294.0,336.6 293.4,335.8 293.0,335.0 292.9,333.8 293.2,333.0 293.9,332.1 295.1,331.6 295.9,331.6 296.7,331.7 297.5,332.2 298.1,333.0 298.4,333.8 298.4,335.0 299.0,336.2 299.3,337.8 299.9,339.0 299.8,340.2 299.3,341.0 298.3,341.7 297.5,341.8ZM297.5,355.5 295.5,355.6 293.5,355.0 292.7,354.6 291.9,353.8 291.2,352.2 291.1,351.4 291.3,350.2 292.3,348.2 293.5,346.9 295.1,346.1 296.7,346.1 297.9,346.5 298.7,347.0 299.9,348.4 300.7,349.8 301.0,350.6 301.1,351.4 301.0,352.2 300.3,353.8 299.1,354.8 297.5,355.5Z" fill="#71ff00"/><path d="M297.9,341.4 296.7,341.3 295.7,340.6 295.3,339.8 295.3,339.0 294.7,337.8 294.5,336.6 293.4,335.0 293.2,334.2 293.4,333.4 293.9,332.6 294.7,332.1 295.9,331.9 296.7,332.2 297.3,332.6 297.9,333.4 298.1,334.2 297.9,335.0 298.6,336.2 299.0,337.8 299.6,339.4 299.5,340.2 299.1,340.7 298.7,341.1 297.9,341.4ZM296.7,355.1 294.7,354.9 293.2,354.2 292.3,353.3 291.7,351.8 291.8,350.6 292.7,348.6 293.9,347.4 295.5,346.8 296.3,346.7 297.1,346.9 298.7,347.8 299.6,349.0 300.5,351.0 300.3,352.4 299.5,353.8 298.3,354.6 296.7,355.1Z" fill="#aaff00"/><path d="M297.9,341.0 296.7,340.9 295.9,340.2 295.7,339.0 295.1,337.8 294.8,336.2 294.1,335.4 293.7,334.6 293.7,333.8 293.9,333.3 294.3,332.8 295.1,332.4 295.9,332.3 296.7,332.6 297.2,333.0 297.6,333.8 297.5,335.0 298.3,336.5 298.7,338.2 299.1,338.8 299.3,339.4 299.1,340.1 298.7,340.6 297.9,341.0ZM297.5,354.3 296.3,354.5 294.7,354.3 293.5,353.7 292.6,352.6 292.3,351.4 292.8,349.8 293.5,348.6 294.7,347.7 295.9,347.4 296.7,347.5 297.5,347.8 298.3,348.3 298.9,349.0 299.7,350.6 299.8,351.8 299.5,352.7 298.7,353.7 297.5,354.3Z" fill="#e3ff00"/><path d="M297.9,340.6 297.1,340.6 296.3,340.0 296.1,339.0 295.4,337.8 295.2,335.8 294.6,335.4 294.1,334.6 294.1,333.8 294.3,333.4 295.1,332.8 295.9,332.7 296.3,332.8 296.7,333.1 297.2,333.8 297.2,334.6 297.0,335.0 297.9,336.8 298.3,338.2 298.8,339.0 298.9,339.4 298.7,340.2 297.9,340.6ZM297.1,353.8 295.9,354.0 294.7,353.7 293.7,353.0 293.1,352.2 293.0,351.4 293.4,349.8 294.0,349.0 295.1,348.3 296.3,348.2 297.5,348.6 298.3,349.2 298.9,350.2 299.2,351.4 299.1,352.2 298.3,353.2 297.1,353.8Z" fill="#ffe300"/><path d="M296.3,335.2 295.5,335.3 294.7,334.8 294.4,334.2 294.5,333.8 294.8,333.4 295.5,333.1 296.4,333.4 296.8,334.2 296.3,335.2ZM297.9,340.2 297.3,340.2 296.8,339.8 296.7,339.4 296.8,339.0 295.9,338.0 295.9,336.2 296.3,335.7 296.7,336.0 297.1,336.5 297.7,338.6 298.3,338.9 298.6,339.4 298.5,339.8 297.9,340.2ZM297.5,353.0 296.7,353.3 295.9,353.4 295.1,353.2 294.1,352.6 293.7,351.8 293.7,351.0 293.9,350.2 294.6,349.4 295.5,349.0 296.3,348.9 297.1,349.1 298.0,349.8 298.4,350.6 298.5,351.8 298.1,352.6 297.5,353.0Z" fill="#ffaa00"/><path d="M295.9,334.7 295.5,334.8 295.1,334.6 294.9,334.2 295.1,333.6 295.5,333.5 296.2,333.8 296.3,334.2 295.9,334.7ZM297.9,339.8 297.4,339.4 297.9,339.1 298.2,339.4 297.9,339.8ZM296.7,352.7 295.5,352.7 294.6,352.2 294.4,351.8 294.3,351.0 294.7,350.2 295.1,349.9 295.9,349.6 296.7,349.7 297.4,350.2 297.7,350.6 297.9,351.0 297.8,351.8 297.5,352.3 296.7,352.7Z" fill="#ff7100"/><path d="M295.5,334.2 295.5,334.2ZM296.3,352.3 295.5,352.1 295.0,351.4 295.1,350.9 295.5,350.5 295.9,350.4 296.7,350.5 297.2,351.0 297.2,351.4 297.0,351.8 296.3,352.3Z" fill="#ff3900"/><path d="M296.3,351.7 295.9,351.7 295.7,351.4 295.9,351.1 296.3,351.1 296.5,351.4 296.3,351.7Z" fill="#ff0000"/></g>
<rect x="261.00" y="316.50" width="60.50" height="58.90" fill="none" stroke="#111" stroke-width="0.9"/>
<path d="M259.40,358.67H261.00M259.40,356.31H261.00M259.40,354.63H261.00M259.40,353.33H261.00M259.40,352.27H261.00M259.40,351.38H261.00M259.40,350.60H261.00M259.40,349.91H261.00M259.40,345.27H261.00M259.40,342.91H261.00M259.40,341.23H261.00M259.40,339.93H261.00M259.40,338.87H261.00M259.40,337.98H261.00M259.40,337.20H261.00M259.40,336.51H261.00M259.40,331.87H261.00M259.40,329.51H261.00M259.40,327.83H261.00M259.40,326.53H261.00M259.40,325.47H261.00M259.40,324.58H261.00M259.40,323.80H261.00M259.40,323.11H261.00M258.40,370.00H261.00M258.40,362.70H261.00M258.40,349.30H261.00M258.40,335.90H261.00M258.40,322.50H261.00M259.60,375.40H261.00M259.60,373.70H261.00M259.60,372.30H261.00M259.60,367.40H261.00M259.60,365.40H261.00M277.53,375.40V377.00M279.89,375.40V377.00M281.57,375.40V377.00M282.87,375.40V377.00M283.93,375.40V377.00M284.82,375.40V377.00M285.60,375.40V377.00M286.29,375.40V377.00M290.93,375.40V377.00M293.29,375.40V377.00M294.97,375.40V377.00M296.27,375.40V377.00M297.33,375.40V377.00M298.22,375.40V377.00M299.00,375.40V377.00M299.69,375.40V377.00M304.33,375.40V377.00M306.69,375.40V377.00M308.37,375.40V377.00M309.67,375.40V377.00M310.73,375.40V377.00M311.62,375.40V377.00M312.40,375.40V377.00M313.09,375.40V377.00M266.50,375.40V378.00M273.50,375.40V378.00M286.90,375.40V378.00M300.30,375.40V378.00M313.70,375.40V378.00M262.50,375.40V376.80M264.00,375.40V376.80M269.00,375.40V376.80M271.00,375.40V376.80" stroke="#111" stroke-width="0.6" fill="none"/>
<text x="256.00" y="325.20" font-size="6.4" text-anchor="end" font-weight="normal" fill="#2a2a2a">10<tspan dy="-2.43" font-size="4.61">5</tspan></text>
<text x="256.00" y="338.60" font-size="6.4" text-anchor="end" font-weight="normal" fill="#2a2a2a">10<tspan dy="-2.43" font-size="4.61">4</tspan></text>
<text x="256.00" y="352.00" font-size="6.4" text-anchor="end" font-weight="normal" fill="#2a2a2a">10<tspan dy="-2.43" font-size="4.61">3</tspan></text>
<text x="256.00" y="367.00" font-size="6.4" text-anchor="end" font-weight="normal" fill="#2a2a2a">10<tspan dy="-2.43" font-size="4.61">2</tspan></text>
<text x="255.20" y="372.60" font-size="6.4" text-anchor="end" font-weight="normal" fill="#2a2a2a">0</text>
<text x="266.50" y="387.40" font-size="6.4" text-anchor="middle" font-weight="normal" fill="#2a2a2a">0</text>
<text x="273.90" y="387.40" font-size="6.4" text-anchor="middle" font-weight="normal" fill="#2a2a2a">10<tspan dy="-2.43" font-size="4.61">2</tspan></text>
<text x="287.60" y="387.40" font-size="6.4" text-anchor="middle" font-weight="normal" fill="#2a2a2a">10<tspan dy="-2.43" font-size="4.61">3</tspan></text>
<text x="301.30" y="387.40" font-size="6.4" text-anchor="middle" font-weight="normal" fill="#2a2a2a">10<tspan dy="-2.43" font-size="4.61">4</tspan></text>
<text x="315.40" y="387.40" font-size="6.4" text-anchor="middle" font-weight="normal" fill="#2a2a2a">10<tspan dy="-2.43" font-size="4.61">5</tspan></text>
<g><path d="M383.4,365.1 377.8,365.1 377.4,364.7 377.0,364.7 376.6,364.3 376.2,364.3 375.4,363.5 375.0,363.5 373.8,362.3 373.4,362.3 372.9,361.8 372.9,361.4 372.1,360.6 372.1,360.2 371.7,359.8 371.7,359.0 371.3,358.6 371.3,357.4 370.9,357.0 370.9,355.8 370.5,355.4 370.5,354.6 370.1,354.2 370.1,353.0 369.7,352.6 369.7,350.6 369.3,350.2 369.3,345.8 368.9,345.4 368.9,341.4 368.5,341.0 368.5,330.6 368.9,330.2 368.9,328.6 369.3,328.2 369.3,327.4 369.7,327.0 369.7,326.6 370.1,326.2 370.1,325.8 372.6,323.3 373.0,323.3 373.4,322.9 374.2,322.9 374.6,322.5 381.0,322.5 381.4,322.9 381.8,322.9 382.2,323.3 382.6,323.3 383.0,323.7 383.4,323.7 385.5,325.8 385.5,326.2 385.9,326.6 385.9,327.0 386.3,327.4 386.3,328.2 386.7,328.6 386.7,329.4 387.1,329.8 387.1,330.6 387.5,331.0 387.5,332.2 387.9,332.6 387.9,334.2 388.3,334.6 388.3,337.8 388.7,338.2 388.7,342.2 389.1,342.6 389.2,348.6 389.6,349.0 389.6,351.0 389.2,351.4 389.1,358.2 388.7,358.6 388.7,359.8 388.3,360.2 388.3,361.0 387.9,361.4 387.9,361.8 386.6,363.1 386.2,363.1 385.4,363.9 385.0,363.9 384.2,364.7 383.8,364.7 383.4,365.1Z" fill="#0000ff"/><path d="M383.0,364.3 378.2,364.3 376.6,363.5 376.1,363.0 375.3,362.6 374.5,361.8 373.8,361.5 372.5,359.4 372.4,358.6 372.1,358.2 372.0,357.0 371.7,356.6 371.6,355.4 370.9,353.8 370.8,352.6 370.5,352.2 370.5,350.6 370.1,349.4 370.1,345.8 369.7,344.6 369.7,341.4 369.3,340.2 369.3,331.0 369.6,330.6 369.7,329.0 370.0,328.6 370.1,327.8 371.0,326.1 373.0,324.1 373.8,323.7 374.6,323.6 375.0,323.3 380.6,323.3 383.1,324.6 384.6,326.1 385.5,327.8 385.6,328.6 385.9,329.0 386.0,329.8 386.7,331.4 386.8,332.6 387.1,333.0 387.2,334.6 387.5,335.0 387.5,337.8 387.9,339.0 387.9,341.4 388.2,342.2 388.8,343.0 389.0,344.6 389.1,348.6 389.5,349.0 389.5,351.0 389.1,351.4 388.9,357.8 388.5,358.6 388.3,359.4 387.7,360.2 387.0,361.5 386.2,362.3 385.8,362.4 385.0,363.1 383.0,364.3Z" fill="#0039ff"/><path d="M384.2,361.4 382.2,361.7 379.8,361.6 378.2,361.1 376.6,360.3 375.0,359.1 373.8,357.6 373.0,356.2 371.9,353.4 371.6,351.4 371.6,349.4 371.7,348.2 372.5,345.8 374.0,343.4 374.1,343.0 373.6,341.4 373.2,338.6 373.2,335.0 373.6,332.6 374.0,331.0 374.8,329.4 376.2,327.9 377.4,327.3 378.6,327.3 379.8,327.9 380.6,328.7 381.6,330.2 382.3,332.2 382.8,334.2 382.9,339.8 383.8,339.9 385.0,340.4 386.6,341.3 388.2,343.3 388.6,344.6 388.9,348.6 389.3,349.4 389.3,350.6 388.9,351.4 388.8,355.0 388.5,357.4 387.7,359.0 386.7,360.2 385.8,360.8 384.2,361.4Z" fill="#0071ff"/><path d="M382.2,361.0 380.2,360.9 378.6,360.4 377.0,359.7 375.5,358.6 374.5,357.4 373.5,355.8 372.6,353.4 372.3,351.8 372.3,349.0 372.7,347.4 373.4,345.7 375.5,342.2 375.5,341.8 374.8,339.4 374.6,337.8 374.6,335.8 375.0,333.8 375.4,332.5 376.2,331.1 377.0,330.4 377.8,330.1 378.6,330.2 379.4,330.7 380.2,331.7 380.8,333.0 381.2,334.6 381.4,336.2 381.4,338.2 381.2,339.8 382.6,340.6 384.2,340.9 385.4,341.4 386.2,341.9 387.6,343.4 388.2,345.1 388.6,348.6 389.0,349.4 389.0,350.6 388.7,351.4 388.5,355.0 388.0,357.4 387.0,359.0 385.8,360.0 384.2,360.7 382.2,361.0Z" fill="#00aaff"/><path d="M383.0,360.3 381.4,360.3 379.4,360.0 377.8,359.3 376.6,358.6 375.4,357.5 374.5,356.2 373.5,354.2 373.2,353.0 372.9,351.4 372.9,350.2 373.0,348.6 373.4,347.4 373.9,346.2 375.7,343.0 377.4,341.0 376.6,339.8 376.3,339.0 376.1,336.6 376.2,335.4 376.6,334.2 377.0,333.6 377.8,333.0 378.6,333.2 379.0,333.6 379.4,334.2 379.8,335.4 380.0,336.6 379.9,338.2 379.6,339.4 379.2,340.2 381.0,340.7 382.6,341.4 384.6,341.8 385.8,342.5 386.8,343.4 387.3,344.2 387.8,345.3 388.3,348.6 388.6,349.4 388.7,350.6 388.4,351.4 388.2,354.6 387.9,356.2 387.4,357.4 386.5,358.6 385.4,359.5 384.6,359.9 383.0,360.3Z" fill="#00e3ff"/><path d="M378.2,337.9 377.8,337.9 377.6,337.4 377.6,336.6 377.8,336.1 378.2,336.1 378.4,336.6 378.4,337.4 378.2,337.9ZM383.8,359.4 382.2,359.6 380.6,359.6 379.0,359.1 377.4,358.3 376.2,357.3 375.3,356.2 374.4,354.6 373.8,353.0 373.5,351.4 373.5,350.2 373.7,348.6 374.1,347.4 376.6,343.0 377.4,342.1 378.6,341.4 379.4,341.2 380.6,341.4 382.2,342.0 383.8,342.3 385.0,342.8 386.6,344.1 387.1,345.0 387.6,346.2 388.4,350.2 388.2,351.0 387.9,353.8 387.5,355.8 387.0,357.1 385.8,358.4 385.0,358.9 383.8,359.4Z" fill="#00ffe3"/><path d="M383.8,358.7 382.6,358.9 381.0,358.9 379.4,358.5 377.9,357.8 376.8,357.0 375.8,355.8 375.0,354.4 374.5,353.0 374.2,351.4 374.2,350.2 374.4,348.6 374.8,347.4 377.0,343.6 377.8,342.8 379.0,342.2 380.6,342.3 382.2,342.8 383.8,343.1 385.0,343.6 385.8,344.2 386.5,345.0 387.4,347.0 388.1,350.2 387.3,355.0 386.8,356.2 386.2,357.2 385.0,358.1 383.8,358.7Z" fill="#00ffaa"/><path d="M382.6,358.2 381.4,358.3 380.2,358.1 379.0,357.6 377.8,356.9 377.0,356.2 376.1,355.0 375.4,353.8 375.0,352.6 374.8,350.2 375.0,349.0 375.4,347.8 377.4,344.4 378.2,343.6 379.4,343.1 380.6,343.1 381.8,343.5 383.4,343.7 384.6,344.1 385.3,344.6 386.0,345.4 386.6,346.3 387.7,349.8 387.2,353.8 386.4,355.8 385.8,356.7 385.0,357.4 383.8,358.0 382.6,358.2Z" fill="#00ff71"/><path d="M383.0,357.5 381.8,357.6 380.6,357.4 378.6,356.6 377.6,355.8 376.9,355.0 376.2,353.8 375.7,352.6 375.5,350.6 375.6,349.4 376.0,348.2 377.8,345.2 378.6,344.5 379.4,344.1 380.6,344.0 383.0,344.3 384.2,344.7 385.0,345.2 386.2,346.7 387.2,349.8 386.9,353.0 386.2,355.1 385.0,356.6 384.2,357.1 383.0,357.5Z" fill="#00ff39"/><path d="M383.4,356.6 381.4,356.9 379.4,356.3 377.8,355.0 377.1,354.2 376.5,353.0 376.2,351.8 376.2,350.6 376.6,348.6 378.2,346.0 379.4,345.1 380.2,345.0 382.2,344.9 383.8,345.3 384.6,345.8 385.4,346.5 386.3,348.2 386.8,350.2 386.6,352.3 386.2,353.8 385.8,354.7 385.0,355.7 384.2,356.3 383.4,356.6Z" fill="#00ff00"/><path d="M383.4,355.9 381.8,356.2 380.6,356.0 379.8,355.7 378.2,354.5 377.5,353.4 377.1,352.6 376.8,350.6 377.2,349.0 378.1,347.4 379.0,346.5 379.8,346.0 381.8,345.6 383.4,345.9 384.2,346.3 385.0,347.0 385.9,348.6 386.3,350.2 386.2,352.2 385.8,353.4 385.4,354.3 384.8,355.0 383.4,355.9Z" fill="#39ff00"/><path d="M382.2,355.4 380.6,355.3 379.8,354.9 379.0,354.3 378.3,353.4 377.8,352.6 377.5,351.0 377.8,349.4 378.7,347.8 379.4,347.2 380.2,346.7 381.8,346.3 383.4,346.6 384.5,347.4 385.3,348.6 385.8,350.2 385.7,352.2 385.0,353.8 383.8,355.0 382.2,355.4Z" fill="#71ff00"/><path d="M382.6,354.7 381.0,354.6 379.8,354.1 378.8,353.0 378.2,351.4 378.4,349.8 378.9,348.6 380.2,347.5 381.4,347.1 382.6,347.1 383.8,347.7 384.7,348.6 385.3,350.2 385.2,351.8 384.6,353.3 383.8,354.1 382.6,354.7Z" fill="#aaff00"/><path d="M383.0,353.8 381.8,354.0 380.6,353.7 379.7,353.0 379.0,351.8 378.9,350.6 379.3,349.4 379.9,348.6 381.0,347.9 382.2,347.8 383.0,348.0 383.9,348.6 384.6,349.8 384.8,351.0 384.5,352.2 383.8,353.3 383.0,353.8Z" fill="#e3ff00"/><path d="M383.0,353.0 382.2,353.3 381.0,353.1 380.3,352.6 379.8,351.8 379.6,351.0 379.7,350.2 380.2,349.3 381.0,348.7 381.8,348.5 382.6,348.6 383.4,349.0 384.0,349.8 384.2,350.6 384.1,351.8 383.6,352.6 383.0,353.0Z" fill="#ffe300"/><path d="M383.0,352.2 382.6,352.5 381.8,352.6 381.0,352.3 380.6,351.8 380.4,351.4 380.4,350.6 380.6,350.0 381.0,349.5 381.4,349.3 382.2,349.2 382.7,349.4 383.2,349.8 383.5,350.2 383.6,351.0 383.4,351.7 383.0,352.2Z" fill="#ffaa00"/><path d="M382.2,351.9 381.8,351.9 381.4,351.6 381.1,351.0 381.3,350.2 381.8,349.9 382.6,350.1 382.9,350.6 382.8,351.4 382.2,351.9Z" fill="#ff7100"/><path d="M382.2,351.1 381.9,351.0 382.2,350.7 382.3,351.0 382.2,351.1Z" fill="#ff3900"/></g>
<rect x="344.90" y="316.50" width="60.50" height="58.90" fill="none" stroke="#111" stroke-width="0.9"/>
<path d="M343.30,358.67H344.90M343.30,356.31H344.90M343.30,354.63H344.90M343.30,353.33H344.90M343.30,352.27H344.90M343.30,351.38H344.90M343.30,350.60H344.90M343.30,349.91H344.90M343.30,345.27H344.90M343.30,342.91H344.90M343.30,341.23H344.90M343.30,339.93H344.90M343.30,338.87H344.90M343.30,337.98H344.90M343.30,337.20H344.90M343.30,336.51H344.90M343.30,331.87H344.90M343.30,329.51H344.90M343.30,327.83H344.90M343.30,326.53H344.90M343.30,325.47H344.90M343.30,324.58H344.90M343.30,323.80H344.90M343.30,323.11H344.90M342.30,370.00H344.90M342.30,362.70H344.90M342.30,349.30H344.90M342.30,335.90H344.90M342.30,322.50H344.90M343.50,375.40H344.90M343.50,373.70H344.90M343.50,372.30H344.90M343.50,367.40H344.90M343.50,365.40H344.90M361.43,375.40V377.00M363.79,375.40V377.00M365.47,375.40V377.00M366.77,375.40V377.00M367.83,375.40V377.00M368.72,375.40V377.00M369.50,375.40V377.00M370.19,375.40V377.00M374.83,375.40V377.00M377.19,375.40V377.00M378.87,375.40V377.00M380.17,375.40V377.00M381.23,375.40V377.00M382.12,375.40V377.00M382.90,375.40V377.00M383.59,375.40V377.00M388.23,375.40V377.00M390.59,375.40V377.00M392.27,375.40V377.00M393.57,375.40V377.00M394.63,375.40V377.00M395.52,375.40V377.00M396.30,375.40V377.00M396.99,375.40V377.00M350.40,375.40V378.00M357.40,375.40V378.00M370.80,375.40V378.00M384.20,375.40V378.00M397.60,375.40V378.00M346.40,375.40V376.80M347.90,375.40V376.80M352.90,375.40V376.80M354.90,375.40V376.80" stroke="#111" stroke-width="0.6" fill="none"/>
<text x="339.90" y="325.20" font-size="6.4" text-anchor="end" font-weight="normal" fill="#2a2a2a">10<tspan dy="-2.43" font-size="4.61">5</tspan></text>
<text x="339.90" y="338.60" font-size="6.4" text-anchor="end" font-weight="normal" fill="#2a2a2a">10<tspan dy="-2.43" font-size="4.61">4</tspan></text>
<text x="339.90" y="352.00" font-size="6.4" text-anchor="end" font-weight="normal" fill="#2a2a2a">10<tspan dy="-2.43" font-size="4.61">3</tspan></text>
<text x="339.90" y="367.00" font-size="6.4" text-anchor="end" font-weight="normal" fill="#2a2a2a">10<tspan dy="-2.43" font-size="4.61">2</tspan></text>
<text x="339.10" y="372.60" font-size="6.4" text-anchor="end" font-weight="normal" fill="#2a2a2a">0</text>
<text x="350.40" y="387.40" font-size="6.4" text-anchor="middle" font-weight="normal" fill="#2a2a2a">0</text>
<text x="357.80" y="387.40" font-size="6.4" text-anchor="middle" font-weight="normal" fill="#2a2a2a">10<tspan dy="-2.43" font-size="4.61">2</tspan></text>
<text x="371.50" y="387.40" font-size="6.4" text-anchor="middle" font-weight="normal" fill="#2a2a2a">10<tspan dy="-2.43" font-size="4.61">3</tspan></text>
<text x="385.20" y="387.40" font-size="6.4" text-anchor="middle" font-weight="normal" fill="#2a2a2a">10<tspan dy="-2.43" font-size="4.61">4</tspan></text>
<text x="399.30" y="387.40" font-size="6.4" text-anchor="middle" font-weight="normal" fill="#2a2a2a">10<tspan dy="-2.43" font-size="4.61">5</tspan></text>
<path d="M188.80,245.80 L188.80,266.30 L215.70,266.30 L215.70,236.00" fill="none" stroke="#222" stroke-width="0.8"/>
<text x="189.90" y="243.00" font-size="6.2" text-anchor="middle" font-weight="normal" fill="#1a1a1a" stroke="#1a1a1a" stroke-width="0.04">0.9</text>
<rect x="284.20" y="236.00" width="30.70" height="25.00" fill="none" stroke="#222" stroke-width="0.8"/>
<text x="277.90" y="252.30" font-size="6.2" text-anchor="middle" font-weight="normal" fill="#1a1a1a" stroke="#1a1a1a" stroke-width="0.04">58</text>
<rect x="365.60" y="235.60" width="30.10" height="24.00" fill="none" stroke="#222" stroke-width="0.8"/>
<text x="354.80" y="241.60" font-size="6.2" text-anchor="middle" font-weight="normal" fill="#1a1a1a" stroke="#1a1a1a" stroke-width="0.04">27</text>
<path d="M189.50,327.40 L189.50,346.50 L216.40,346.50 L216.40,316.50" fill="none" stroke="#222" stroke-width="0.8"/>
<text x="187.80" y="325.00" font-size="6.2" text-anchor="middle" font-weight="normal" fill="#1a1a1a" stroke="#1a1a1a" stroke-width="0.04">5.4</text>
<rect x="284.90" y="318.00" width="31.50" height="24.30" fill="none" stroke="#222" stroke-width="0.8"/>
<text x="277.90" y="333.00" font-size="6.2" text-anchor="middle" font-weight="normal" fill="#1a1a1a" stroke="#1a1a1a" stroke-width="0.04">45</text>
<rect x="365.40" y="316.90" width="30.30" height="23.30" fill="none" stroke="#222" stroke-width="0.8"/>
<text x="354.80" y="323.80" font-size="6.2" text-anchor="middle" font-weight="normal" fill="#1a1a1a" stroke="#1a1a1a" stroke-width="0.04">15</text>
<line x1="144.40" y1="240.30" x2="144.40" y2="333.80" stroke="#111" stroke-width="0.9"/>
<path d="M144.40,235.30 L141.30,242.50 L147.50,242.50 Z" fill="#111" stroke="none" stroke-width="1.0"/>
<text x="0.00" y="0.00" font-size="7.5" text-anchor="middle" font-weight="normal" fill="#1a1a1a" stroke="#1a1a1a" stroke-width="0.1" transform="translate(147.00,345.00) rotate(-90) scale(0.9,1)">Foxp3</text>
<line x1="236.60" y1="239.50" x2="236.60" y2="333.80" stroke="#111" stroke-width="0.9"/>
<path d="M236.60,234.50 L233.50,241.70 L239.70,241.70 Z" fill="#111" stroke="none" stroke-width="1.0"/>
<text x="0.00" y="0.00" font-size="7.5" text-anchor="middle" font-weight="normal" fill="#1a1a1a" stroke="#1a1a1a" stroke-width="0.1" transform="translate(239.20,344.50) rotate(-90) scale(0.9,1)">IFN-γ</text>
<text x="0.00" y="0.00" font-size="8.5" text-anchor="middle" font-weight="normal" fill="#1a1a1a" stroke="#1a1a1a" stroke-width="0.1" transform="translate(136.00,266.30) rotate(-90)">WT</text>
<text x="0.00" y="0.00" font-size="8.5" text-anchor="middle" font-weight="normal" fill="#1a1a1a" stroke="#1a1a1a" stroke-width="0.1" transform="translate(135.20,347.50) rotate(-90)">Sirt-1<tspan dy="-3.23" font-size="5.27">-/-</tspan></text>
<text x="0.00" y="0.00" font-size="8.8" text-anchor="middle" font-weight="normal" fill="#1a1a1a" stroke="#1a1a1a" stroke-width="0.1" transform="translate(197.30,397.80) scale(0.76,1)">CD4</text>
<text x="0.00" y="0.00" font-size="8.8" text-anchor="middle" font-weight="normal" fill="#1a1a1a" stroke="#1a1a1a" stroke-width="0.1" transform="translate(291.80,397.80) scale(0.76,1)">CD4</text>
<text x="0.00" y="0.00" font-size="8.8" text-anchor="middle" font-weight="normal" fill="#1a1a1a" stroke="#1a1a1a" stroke-width="0.1" transform="translate(375.70,397.80) scale(0.76,1)">CD8</text>
<text x="0.00" y="0.00" font-size="11.6" text-anchor="start" font-weight="bold" fill="#000" transform="translate(410.40,20.00) scale(0.92,1)">B</text>
<g fill="#b8062e"><circle cx="451.60" cy="16.30" r="2.4"/></g>
<text x="457.10" y="18.80" font-size="7.3" text-anchor="start" font-weight="normal" fill="#1a1a1a" stroke="#1a1a1a" stroke-width="0.1">WT</text>
<path d="M474.10,14.08L476.50,18.28L471.70,18.28Z" fill="#1e3f8c"/>
<text x="479.60" y="18.80" font-size="7.3" text-anchor="start" font-weight="normal" fill="#1a1a1a" stroke="#1a1a1a" stroke-width="0.1">Sirt-1<tspan dy="-2.77" font-size="4.53">-/-</tspan></text>
<line x1="438.20" y1="33.40" x2="438.20" y2="90.30" stroke="#111" stroke-width="1.0"/>
<line x1="435.00" y1="35.50" x2="438.20" y2="35.50" stroke="#111" stroke-width="0.9"/>
<text x="432.40" y="38.30" font-size="7.9" text-anchor="end" font-weight="normal" fill="#1a1a1a" stroke="#1a1a1a" stroke-width="0.1">15</text>
<line x1="435.00" y1="53.70" x2="438.20" y2="53.70" stroke="#111" stroke-width="0.9"/>
<text x="432.40" y="56.50" font-size="7.9" text-anchor="end" font-weight="normal" fill="#1a1a1a" stroke="#1a1a1a" stroke-width="0.1">10</text>
<line x1="435.00" y1="71.80" x2="438.20" y2="71.80" stroke="#111" stroke-width="0.9"/>
<text x="432.40" y="74.60" font-size="7.9" text-anchor="end" font-weight="normal" fill="#1a1a1a" stroke="#1a1a1a" stroke-width="0.1">5</text>
<line x1="435.00" y1="89.80" x2="438.20" y2="89.80" stroke="#111" stroke-width="0.9"/>
<text x="432.40" y="92.60" font-size="7.9" text-anchor="end" font-weight="normal" fill="#1a1a1a" stroke="#1a1a1a" stroke-width="0.1">0</text>
<line x1="438.20" y1="89.80" x2="512.70" y2="89.80" stroke="#111" stroke-width="1.1"/>
<line x1="456.40" y1="89.80" x2="456.40" y2="92.10" stroke="#111" stroke-width="0.8"/>
<line x1="493.80" y1="89.80" x2="493.80" y2="92.10" stroke="#111" stroke-width="0.8"/>
<text x="456.40" y="103.00" font-size="8.2" text-anchor="middle" font-weight="normal" fill="#1a1a1a" stroke="#1a1a1a" stroke-width="0.1">CD4</text>
<text x="493.80" y="103.00" font-size="8.2" text-anchor="middle" font-weight="normal" fill="#1a1a1a" stroke="#1a1a1a" stroke-width="0.1">CD8</text>
<text x="0.00" y="0.00" font-size="9" text-anchor="middle" font-weight="normal" fill="#1a1a1a" stroke="#1a1a1a" stroke-width="0.1" transform="translate(416.30,61.10) rotate(-90) scale(0.79,1)">%Foxp3</text>
<g fill="#b8062e"><circle cx="447.50" cy="83.60" r="2.3"/><circle cx="453.50" cy="83.60" r="2.3"/><circle cx="450.50" cy="86.50" r="2.3"/><circle cx="448.30" cy="86.30" r="2.3"/><circle cx="452.20" cy="85.60" r="2.3"/><circle cx="450.50" cy="88.00" r="2.3"/><circle cx="446.60" cy="85.40" r="2.3"/><circle cx="454.00" cy="86.20" r="2.3"/></g>
<line x1="444.30" y1="85.60" x2="456.60" y2="85.60" stroke="#111" stroke-width="1.0"/>
<path d="M459.70,43.78L462.40,48.48L457.00,48.48ZM466.10,43.78L468.80,48.48L463.40,48.48ZM460.50,56.58L463.20,61.28L457.80,61.28ZM463.00,56.08L465.70,60.78L460.30,60.78ZM465.20,56.78L467.90,61.48L462.50,61.48ZM459.50,66.58L462.20,71.28L456.80,71.28ZM466.00,70.88L468.70,75.58L463.30,75.58ZM462.50,81.98L465.20,86.68L459.80,86.68Z" fill="#1e3f8c"/>
<line x1="457.00" y1="62.20" x2="469.00" y2="62.20" stroke="#111" stroke-width="1.0"/>
<line x1="463.00" y1="57.70" x2="463.00" y2="66.90" stroke="#111" stroke-width="0.9"/>
<line x1="460.80" y1="57.70" x2="465.20" y2="57.70" stroke="#111" stroke-width="0.9"/>
<line x1="460.80" y1="66.90" x2="465.20" y2="66.90" stroke="#111" stroke-width="0.9"/>
<path d="M449.80,42.60 L449.80,39.80 L463.60,39.80 L463.60,42.60" fill="none" stroke="#222" stroke-width="0.9"/>
<text x="456.60" y="40.01" font-size="8.2" text-anchor="middle" font-weight="normal" fill="#1a1a1a" stroke="#1a1a1a" stroke-width="0.1">**</text>
<g fill="#b8062e"><circle cx="484.70" cy="85.60" r="2.3"/><circle cx="490.40" cy="85.60" r="2.3"/><circle cx="487.40" cy="87.90" r="2.3"/><circle cx="483.30" cy="87.20" r="2.3"/><circle cx="492.00" cy="87.20" r="2.3"/><circle cx="488.00" cy="86.00" r="2.3"/></g>
<line x1="481.40" y1="86.60" x2="493.80" y2="86.60" stroke="#111" stroke-width="1.0"/>
<path d="M496.20,75.98L498.90,80.68L493.50,80.68ZM498.20,78.68L500.90,83.38L495.50,83.38ZM504.20,75.98L506.90,80.68L501.50,80.68ZM499.90,77.38L502.60,82.08L497.20,82.08ZM503.20,76.58L505.90,81.28L500.50,81.28ZM501.00,78.18L503.70,82.88L498.30,82.88Z" fill="#1e3f8c"/>
<line x1="494.50" y1="78.80" x2="505.60" y2="78.80" stroke="#111" stroke-width="1.0"/>
<path d="M487.10,74.40 L487.10,71.40 L500.30,71.40 L500.30,74.40" fill="none" stroke="#222" stroke-width="0.9"/>
<text x="493.80" y="72.21" font-size="8.2" text-anchor="middle" font-weight="normal" fill="#1a1a1a" stroke="#1a1a1a" stroke-width="0.1">***</text>
<text x="0.00" y="0.00" font-size="11.6" text-anchor="start" font-weight="bold" fill="#000" transform="translate(410.40,129.60) scale(0.92,1)">C</text>
<g fill="#b8062e"><circle cx="451.30" cy="127.30" r="2.4"/></g>
<text x="456.60" y="129.80" font-size="7.3" text-anchor="start" font-weight="normal" fill="#1a1a1a" stroke="#1a1a1a" stroke-width="0.1">WT</text>
<path d="M474.40,125.08L476.80,129.28L472.00,129.28Z" fill="#1e3f8c"/>
<text x="479.70" y="129.80" font-size="7.3" text-anchor="start" font-weight="normal" fill="#1a1a1a" stroke="#1a1a1a" stroke-width="0.1">Sirt-1<tspan dy="-2.77" font-size="4.53">-/-</tspan></text>
<line x1="438.20" y1="138.00" x2="438.20" y2="196.80" stroke="#111" stroke-width="1.0"/>
<line x1="435.00" y1="140.40" x2="438.20" y2="140.40" stroke="#111" stroke-width="0.9"/>
<text x="432.40" y="143.20" font-size="7.9" text-anchor="end" font-weight="normal" fill="#1a1a1a" stroke="#1a1a1a" stroke-width="0.1">100</text>
<line x1="435.00" y1="154.20" x2="438.20" y2="154.20" stroke="#111" stroke-width="0.9"/>
<text x="432.40" y="157.00" font-size="7.9" text-anchor="end" font-weight="normal" fill="#1a1a1a" stroke="#1a1a1a" stroke-width="0.1">75</text>
<line x1="435.00" y1="168.20" x2="438.20" y2="168.20" stroke="#111" stroke-width="0.9"/>
<text x="432.40" y="171.00" font-size="7.9" text-anchor="end" font-weight="normal" fill="#1a1a1a" stroke="#1a1a1a" stroke-width="0.1">50</text>
<line x1="435.00" y1="182.10" x2="438.20" y2="182.10" stroke="#111" stroke-width="0.9"/>
<text x="432.40" y="184.90" font-size="7.9" text-anchor="end" font-weight="normal" fill="#1a1a1a" stroke="#1a1a1a" stroke-width="0.1">25</text>
<line x1="435.00" y1="196.30" x2="438.20" y2="196.30" stroke="#111" stroke-width="0.9"/>
<text x="432.40" y="199.10" font-size="7.9" text-anchor="end" font-weight="normal" fill="#1a1a1a" stroke="#1a1a1a" stroke-width="0.1">0</text>
<line x1="438.20" y1="196.30" x2="512.50" y2="196.30" stroke="#111" stroke-width="1.1"/>
<line x1="456.00" y1="196.30" x2="456.00" y2="198.60" stroke="#111" stroke-width="0.8"/>
<line x1="494.70" y1="196.30" x2="494.70" y2="198.60" stroke="#111" stroke-width="0.8"/>
<text x="456.00" y="209.30" font-size="8.2" text-anchor="middle" font-weight="normal" fill="#1a1a1a" stroke="#1a1a1a" stroke-width="0.1">CD4</text>
<text x="494.70" y="209.30" font-size="8.2" text-anchor="middle" font-weight="normal" fill="#1a1a1a" stroke="#1a1a1a" stroke-width="0.1">CD8</text>
<text x="0.00" y="0.00" font-size="9" text-anchor="middle" font-weight="normal" fill="#1a1a1a" stroke="#1a1a1a" stroke-width="0.1" transform="translate(416.30,166.00) rotate(-90) scale(0.79,1)">%IFN-γ</text>
<g fill="#b8062e"><circle cx="448.50" cy="151.60" r="2.3"/><circle cx="453.70" cy="151.60" r="2.3"/><circle cx="451.20" cy="153.00" r="2.3"/><circle cx="448.50" cy="159.70" r="2.3"/><circle cx="449.50" cy="164.40" r="2.3"/><circle cx="454.20" cy="163.40" r="2.3"/><circle cx="451.80" cy="166.30" r="2.3"/><circle cx="447.60" cy="159.70" r="2.3"/></g>
<line x1="445.20" y1="160.10" x2="457.50" y2="160.10" stroke="#111" stroke-width="1.0"/>
<line x1="451.30" y1="157.80" x2="451.30" y2="162.20" stroke="#111" stroke-width="0.9"/>
<line x1="449.10" y1="157.80" x2="453.50" y2="157.80" stroke="#111" stroke-width="0.9"/>
<line x1="449.10" y1="162.20" x2="453.50" y2="162.20" stroke="#111" stroke-width="0.9"/>
<path d="M459.90,162.48L462.60,167.18L457.20,167.18ZM462.20,163.88L464.90,168.58L459.50,168.58ZM467.40,162.48L470.10,167.18L464.70,167.18ZM465.00,165.78L467.70,170.48L462.30,170.48ZM459.90,170.98L462.60,175.68L457.20,175.68ZM466.00,170.58L468.70,175.28L463.30,175.28ZM468.40,171.48L471.10,176.18L465.70,176.18ZM462.00,176.18L464.70,180.88L459.30,180.88Z" fill="#1e3f8c"/>
<line x1="458.00" y1="171.00" x2="469.80" y2="171.00" stroke="#111" stroke-width="1.0"/>
<path d="M450.20,147.40 L450.20,144.70 L464.80,144.70 L464.80,147.40" fill="none" stroke="#222" stroke-width="0.9"/>
<text x="457.50" y="145.01" font-size="8.2" text-anchor="middle" font-weight="normal" fill="#1a1a1a" stroke="#1a1a1a" stroke-width="0.1">**</text>
<g fill="#b8062e"><circle cx="489.20" cy="154.90" r="2.3"/><circle cx="491.70" cy="160.60" r="2.3"/><circle cx="486.50" cy="162.00" r="2.3"/><circle cx="493.60" cy="164.40" r="2.3"/><circle cx="489.40" cy="163.40" r="2.3"/><circle cx="485.10" cy="167.70" r="2.3"/><circle cx="491.20" cy="168.60" r="2.3"/><circle cx="487.50" cy="172.00" r="2.3"/></g>
<line x1="482.70" y1="165.30" x2="495.00" y2="165.30" stroke="#111" stroke-width="1.0"/>
<path d="M502.00,164.68L504.70,169.38L499.30,169.38ZM499.00,169.18L501.70,173.88L496.30,173.88ZM505.00,169.18L507.70,173.88L502.30,173.88ZM501.00,172.18L503.70,176.88L498.30,176.88ZM504.00,173.18L506.70,177.88L501.30,177.88ZM498.00,173.18L500.70,177.88L495.30,177.88ZM502.00,176.18L504.70,180.88L499.30,180.88ZM500.50,175.18L503.20,179.88L497.80,179.88Z" fill="#1e3f8c"/>
<line x1="496.00" y1="173.80" x2="508.30" y2="173.80" stroke="#111" stroke-width="1.0"/>
<path d="M489.20,150.70 L489.20,148.10 L503.10,148.10 L503.10,150.70" fill="none" stroke="#222" stroke-width="0.9"/>
<text x="496.40" y="148.81" font-size="8.2" text-anchor="middle" font-weight="normal" fill="#1a1a1a" stroke="#1a1a1a" stroke-width="0.1">***</text>
<text x="0.00" y="0.00" font-size="11.6" text-anchor="start" font-weight="bold" fill="#000" transform="translate(6.60,223.00) scale(0.92,1)">D</text>
<g fill="#b8062e"><circle cx="54.30" cy="246.30" r="2.4"/></g>
<text x="59.50" y="248.80" font-size="7.3" text-anchor="start" font-weight="normal" fill="#1a1a1a" stroke="#1a1a1a" stroke-width="0.1">WT</text>
<path d="M77.00,244.08L79.40,248.28L74.60,248.28Z" fill="#1e3f8c"/>
<text x="82.50" y="248.80" font-size="7.3" text-anchor="start" font-weight="normal" fill="#1a1a1a" stroke="#1a1a1a" stroke-width="0.1">Sirt1<tspan dy="-2.77" font-size="4.53">-/-</tspan></text>
<line x1="36.40" y1="261.00" x2="36.40" y2="318.10" stroke="#111" stroke-width="1.0"/>
<line x1="33.20" y1="263.00" x2="36.40" y2="263.00" stroke="#111" stroke-width="0.9"/>
<text x="30.60" y="265.80" font-size="7.9" text-anchor="end" font-weight="normal" fill="#1a1a1a" stroke="#1a1a1a" stroke-width="0.1">30</text>
<line x1="33.20" y1="281.80" x2="36.40" y2="281.80" stroke="#111" stroke-width="0.9"/>
<text x="30.60" y="284.60" font-size="7.9" text-anchor="end" font-weight="normal" fill="#1a1a1a" stroke="#1a1a1a" stroke-width="0.1">20</text>
<line x1="33.20" y1="299.60" x2="36.40" y2="299.60" stroke="#111" stroke-width="0.9"/>
<text x="30.60" y="302.40" font-size="7.9" text-anchor="end" font-weight="normal" fill="#1a1a1a" stroke="#1a1a1a" stroke-width="0.1">10</text>
<line x1="33.20" y1="317.60" x2="36.40" y2="317.60" stroke="#111" stroke-width="0.9"/>
<text x="30.60" y="320.40" font-size="7.9" text-anchor="end" font-weight="normal" fill="#1a1a1a" stroke="#1a1a1a" stroke-width="0.1">0</text>
<line x1="36.40" y1="317.60" x2="121.90" y2="317.60" stroke="#111" stroke-width="1.1"/>
<line x1="58.80" y1="317.60" x2="58.80" y2="319.90" stroke="#111" stroke-width="0.8"/>
<line x1="99.20" y1="317.60" x2="99.20" y2="319.90" stroke="#111" stroke-width="0.8"/>
<text x="58.80" y="329.80" font-size="7.6" text-anchor="middle" font-weight="normal" fill="#1a1a1a" stroke="#1a1a1a" stroke-width="0.1">IL-4</text>
<text x="99.20" y="329.80" font-size="7.6" text-anchor="middle" font-weight="normal" fill="#1a1a1a" stroke="#1a1a1a" stroke-width="0.1">IL-17</text>
<text x="0.00" y="0.00" font-size="9.5" text-anchor="middle" font-weight="normal" fill="#1a1a1a" stroke="#1a1a1a" stroke-width="0.1" transform="translate(16.00,291.10) rotate(-90) scale(0.74,1)">% in CD4</text>
<g fill="#b8062e"><circle cx="46.40" cy="295.80" r="2.3"/><circle cx="57.70" cy="297.40" r="2.3"/><circle cx="54.20" cy="302.30" r="2.3"/><circle cx="46.10" cy="305.50" r="2.3"/><circle cx="48.80" cy="307.10" r="2.3"/><circle cx="52.60" cy="305.50" r="2.3"/><circle cx="48.30" cy="303.40" r="2.3"/><circle cx="49.90" cy="308.80" r="2.3"/><circle cx="53.10" cy="303.40" r="2.3"/></g>
<line x1="41.80" y1="303.40" x2="58.50" y2="303.40" stroke="#111" stroke-width="1.0"/>
<line x1="49.90" y1="301.20" x2="49.90" y2="305.20" stroke="#111" stroke-width="0.9"/>
<line x1="47.90" y1="301.20" x2="51.90" y2="301.20" stroke="#111" stroke-width="0.9"/>
<line x1="47.90" y1="305.20" x2="51.90" y2="305.20" stroke="#111" stroke-width="0.9"/>
<path d="M63.60,270.08L66.30,274.78L60.90,274.78ZM71.20,270.08L73.90,274.78L68.50,274.78ZM62.80,274.08L65.50,278.78L60.10,278.78ZM66.90,279.48L69.60,284.18L64.20,284.18ZM72.30,278.98L75.00,283.68L69.60,283.68ZM67.20,288.48L69.90,293.18L64.50,293.18ZM71.30,293.48L74.00,298.18L68.60,298.18ZM63.60,297.28L66.30,301.98L60.90,301.98Z" fill="#1e3f8c"/>
<line x1="59.10" y1="283.70" x2="76.00" y2="283.70" stroke="#111" stroke-width="1.0"/>
<line x1="67.40" y1="280.10" x2="67.40" y2="286.90" stroke="#111" stroke-width="0.9"/>
<line x1="64.40" y1="280.10" x2="70.40" y2="280.10" stroke="#111" stroke-width="0.9"/>
<line x1="64.40" y1="286.90" x2="70.40" y2="286.90" stroke="#111" stroke-width="0.9"/>
<path d="M49.90,268.60 L49.90,265.30 L67.70,265.30 L67.70,268.60" fill="none" stroke="#222" stroke-width="0.9"/>
<text x="58.70" y="266.61" font-size="8.2" text-anchor="middle" font-weight="normal" fill="#1a1a1a" stroke="#1a1a1a" stroke-width="0.1">***</text>
<g fill="#b8062e"><circle cx="84.80" cy="313.60" r="2.3"/><circle cx="87.50" cy="315.00" r="2.3"/><circle cx="93.80" cy="312.20" r="2.3"/><circle cx="95.60" cy="314.50" r="2.3"/><circle cx="90.00" cy="315.50" r="2.3"/><circle cx="88.00" cy="313.50" r="2.3"/></g>
<line x1="82.00" y1="314.00" x2="97.50" y2="314.00" stroke="#111" stroke-width="1.0"/>
<path d="M102.90,309.88L105.60,314.58L100.20,314.58ZM111.00,309.88L113.70,314.58L108.30,314.58ZM105.10,312.68L107.80,317.38L102.40,317.38ZM108.70,312.68L111.40,317.38L106.00,317.38ZM113.30,310.68L116.00,315.38L110.60,315.38ZM106.00,313.78L108.70,318.48L103.30,318.48Z" fill="#1e3f8c"/>
<line x1="99.70" y1="313.60" x2="115.10" y2="313.60" stroke="#111" stroke-width="1.0"/>
<text x="0.00" y="0.00" font-size="11.6" text-anchor="start" font-weight="bold" fill="#000" transform="translate(409.70,235.70) scale(0.92,1)">G</text>
<g fill="#b8062e"><circle cx="442.00" cy="233.40" r="2.4"/></g>
<text x="447.30" y="235.90" font-size="7.3" text-anchor="start" font-weight="normal" fill="#1a1a1a" stroke="#1a1a1a" stroke-width="0.1">WT</text>
<path d="M465.10,231.18L467.50,235.38L462.70,235.38Z" fill="#1e3f8c"/>
<text x="470.40" y="235.90" font-size="7.3" text-anchor="start" font-weight="normal" fill="#1a1a1a" stroke="#1a1a1a" stroke-width="0.1">Sirt-1<tspan dy="-2.77" font-size="4.53">-/-</tspan></text>
<line x1="438.20" y1="252.00" x2="438.20" y2="305.80" stroke="#111" stroke-width="1.0"/>
<line x1="435.00" y1="254.60" x2="438.20" y2="254.60" stroke="#111" stroke-width="0.9"/>
<text x="432.40" y="257.40" font-size="7.9" text-anchor="end" font-weight="normal" fill="#1a1a1a" stroke="#1a1a1a" stroke-width="0.1">6</text>
<line x1="435.00" y1="271.30" x2="438.20" y2="271.30" stroke="#111" stroke-width="0.9"/>
<text x="432.40" y="274.10" font-size="7.9" text-anchor="end" font-weight="normal" fill="#1a1a1a" stroke="#1a1a1a" stroke-width="0.1">4</text>
<line x1="435.00" y1="288.10" x2="438.20" y2="288.10" stroke="#111" stroke-width="0.9"/>
<text x="432.40" y="290.90" font-size="7.9" text-anchor="end" font-weight="normal" fill="#1a1a1a" stroke="#1a1a1a" stroke-width="0.1">2</text>
<line x1="435.00" y1="305.30" x2="438.20" y2="305.30" stroke="#111" stroke-width="0.9"/>
<text x="432.40" y="308.10" font-size="7.9" text-anchor="end" font-weight="normal" fill="#1a1a1a" stroke="#1a1a1a" stroke-width="0.1">0</text>
<line x1="438.20" y1="305.30" x2="498.80" y2="305.30" stroke="#111" stroke-width="1.1"/>
<line x1="453.30" y1="305.30" x2="453.30" y2="307.60" stroke="#111" stroke-width="0.8"/>
<line x1="483.10" y1="305.30" x2="483.10" y2="307.60" stroke="#111" stroke-width="0.8"/>
<text x="453.30" y="318.20" font-size="8.2" text-anchor="middle" font-weight="normal" fill="#1a1a1a" stroke="#1a1a1a" stroke-width="0.1">CD4</text>
<text x="483.10" y="318.20" font-size="8.2" text-anchor="middle" font-weight="normal" fill="#1a1a1a" stroke="#1a1a1a" stroke-width="0.1">CD8</text>
<text x="0.00" y="0.00" font-size="9" text-anchor="middle" font-weight="normal" fill="#1a1a1a" stroke="#1a1a1a" stroke-width="0.1" transform="translate(422.80,277.80) rotate(-90) scale(0.79,1)">%Foxp3</text>
<g fill="#b8062e"><circle cx="445.50" cy="295.50" r="2.3"/><circle cx="450.00" cy="294.00" r="2.3"/><circle cx="452.00" cy="297.00" r="2.3"/><circle cx="447.00" cy="299.00" r="2.3"/><circle cx="450.50" cy="300.00" r="2.3"/><circle cx="448.00" cy="301.00" r="2.3"/><circle cx="446.00" cy="297.50" r="2.3"/><circle cx="449.00" cy="296.00" r="2.3"/></g>
<line x1="445.00" y1="296.70" x2="452.00" y2="296.70" stroke="#111" stroke-width="1.0"/>
<path d="M456.90,257.18L459.60,261.88L454.20,261.88ZM460.90,257.18L463.60,261.88L458.20,261.88ZM458.50,259.68L461.20,264.38L455.80,264.38ZM458.50,271.78L461.20,276.48L455.80,276.48ZM454.80,288.98L457.50,293.68L452.10,293.68ZM458.50,290.18L461.20,294.88L455.80,294.88ZM462.20,286.48L464.90,291.18L459.50,291.18ZM459.70,288.98L462.40,293.68L457.00,293.68Z" fill="#1e3f8c"/>
<line x1="453.80" y1="277.60" x2="463.40" y2="277.60" stroke="#111" stroke-width="1.0"/>
<line x1="458.50" y1="272.10" x2="458.50" y2="282.60" stroke="#111" stroke-width="0.9"/>
<line x1="456.60" y1="272.10" x2="460.40" y2="272.10" stroke="#111" stroke-width="0.9"/>
<line x1="456.60" y1="282.60" x2="460.40" y2="282.60" stroke="#111" stroke-width="0.9"/>
<path d="M446.20,255.10 L446.20,252.60 L459.70,252.60 L459.70,255.10" fill="none" stroke="#222" stroke-width="0.9"/>
<text x="452.90" y="253.41" font-size="8.2" text-anchor="middle" font-weight="normal" fill="#1a1a1a" stroke="#1a1a1a" stroke-width="0.1">**</text>
<g fill="#b8062e"><circle cx="477.60" cy="299.80" r="2.3"/><circle cx="479.40" cy="302.30" r="2.3"/><circle cx="475.50" cy="300.50" r="2.3"/><circle cx="480.00" cy="299.50" r="2.3"/></g>
<line x1="474.50" y1="301.00" x2="481.50" y2="301.00" stroke="#111" stroke-width="1.0"/>
<path d="M485.00,297.38L487.70,302.08L482.30,302.08ZM488.00,298.18L490.70,302.88L485.30,302.88ZM492.30,295.78L495.00,300.48L489.60,300.48ZM487.40,301.08L490.10,305.78L484.70,305.78ZM490.50,297.68L493.20,302.38L487.80,302.38Z" fill="#1e3f8c"/>
<line x1="483.00" y1="300.50" x2="493.00" y2="300.50" stroke="#111" stroke-width="1.0"/>
<text x="0.00" y="0.00" font-size="11.6" text-anchor="start" font-weight="bold" fill="#000" transform="translate(410.40,345.30) scale(0.92,1)">H</text>
<g fill="#b8062e"><circle cx="445.50" cy="342.30" r="2.4"/></g>
<text x="450.30" y="344.80" font-size="7.3" text-anchor="start" font-weight="normal" fill="#1a1a1a" stroke="#1a1a1a" stroke-width="0.1">WT</text>
<path d="M467.40,340.08L469.80,344.28L465.00,344.28Z" fill="#1e3f8c"/>
<text x="473.40" y="344.80" font-size="7.3" text-anchor="start" font-weight="normal" fill="#1a1a1a" stroke="#1a1a1a" stroke-width="0.1">Sirt1<tspan dy="-2.77" font-size="4.53">-/-</tspan></text>
<line x1="438.20" y1="359.60" x2="438.20" y2="414.30" stroke="#111" stroke-width="1.0"/>
<line x1="435.00" y1="361.50" x2="438.20" y2="361.50" stroke="#111" stroke-width="0.9"/>
<text x="432.40" y="364.30" font-size="7.9" text-anchor="end" font-weight="normal" fill="#1a1a1a" stroke="#1a1a1a" stroke-width="0.1">80</text>
<line x1="435.00" y1="374.70" x2="438.20" y2="374.70" stroke="#111" stroke-width="0.9"/>
<text x="432.40" y="377.50" font-size="7.9" text-anchor="end" font-weight="normal" fill="#1a1a1a" stroke="#1a1a1a" stroke-width="0.1">60</text>
<line x1="435.00" y1="387.80" x2="438.20" y2="387.80" stroke="#111" stroke-width="0.9"/>
<text x="432.40" y="390.60" font-size="7.9" text-anchor="end" font-weight="normal" fill="#1a1a1a" stroke="#1a1a1a" stroke-width="0.1">40</text>
<line x1="435.00" y1="400.80" x2="438.20" y2="400.80" stroke="#111" stroke-width="0.9"/>
<text x="432.40" y="403.60" font-size="7.9" text-anchor="end" font-weight="normal" fill="#1a1a1a" stroke="#1a1a1a" stroke-width="0.1">20</text>
<line x1="435.00" y1="413.80" x2="438.20" y2="413.80" stroke="#111" stroke-width="0.9"/>
<text x="432.40" y="416.60" font-size="7.9" text-anchor="end" font-weight="normal" fill="#1a1a1a" stroke="#1a1a1a" stroke-width="0.1">0</text>
<line x1="438.20" y1="413.80" x2="501.20" y2="413.80" stroke="#111" stroke-width="1.1"/>
<line x1="454.30" y1="413.80" x2="454.30" y2="416.10" stroke="#111" stroke-width="0.8"/>
<line x1="485.00" y1="413.80" x2="485.00" y2="416.10" stroke="#111" stroke-width="0.8"/>
<text x="454.30" y="426.80" font-size="8.2" text-anchor="middle" font-weight="normal" fill="#1a1a1a" stroke="#1a1a1a" stroke-width="0.1">CD4</text>
<text x="485.00" y="426.80" font-size="8.2" text-anchor="middle" font-weight="normal" fill="#1a1a1a" stroke="#1a1a1a" stroke-width="0.1">CD8</text>
<text x="0.00" y="0.00" font-size="9" text-anchor="middle" font-weight="normal" fill="#1a1a1a" stroke="#1a1a1a" stroke-width="0.1" transform="translate(418.20,386.70) rotate(-90) scale(0.79,1)">%IFN-γ</text>
<g fill="#b8062e"><circle cx="449.00" cy="370.00" r="2.3"/><circle cx="446.90" cy="375.20" r="2.3"/><circle cx="451.00" cy="375.50" r="2.3"/><circle cx="446.50" cy="378.50" r="2.3"/><circle cx="451.50" cy="378.00" r="2.3"/><circle cx="449.00" cy="380.50" r="2.3"/><circle cx="449.00" cy="382.70" r="2.3"/><circle cx="448.00" cy="376.00" r="2.3"/></g>
<line x1="444.00" y1="377.80" x2="453.80" y2="377.80" stroke="#111" stroke-width="1.0"/>
<path d="M456.70,377.58L459.40,382.28L454.00,382.28ZM462.50,376.38L465.20,381.08L459.80,381.08ZM461.90,378.68L464.60,383.38L459.20,383.38ZM457.30,380.98L460.00,385.68L454.60,385.68ZM459.00,385.08L461.70,389.78L456.30,389.78ZM459.60,382.78L462.30,387.48L456.90,387.48ZM459.40,393.18L462.10,397.88L456.70,397.88Z" fill="#1e3f8c"/>
<line x1="454.40" y1="385.20" x2="464.20" y2="385.20" stroke="#111" stroke-width="1.0"/>
<path d="M448.10,366.50 L448.10,364.00 L460.80,364.00 L460.80,366.50" fill="none" stroke="#222" stroke-width="0.9"/>
<text x="454.40" y="364.71" font-size="8.2" text-anchor="middle" font-weight="normal" fill="#1a1a1a" stroke="#1a1a1a" stroke-width="0.1">**</text>
<g fill="#b8062e"><circle cx="478.10" cy="389.60" r="2.3"/><circle cx="481.50" cy="388.40" r="2.3"/><circle cx="477.00" cy="393.00" r="2.3"/><circle cx="482.00" cy="392.50" r="2.3"/><circle cx="479.50" cy="394.50" r="2.3"/><circle cx="481.50" cy="396.00" r="2.3"/><circle cx="479.80" cy="400.90" r="2.3"/><circle cx="478.00" cy="391.00" r="2.3"/></g>
<line x1="475.20" y1="393.30" x2="485.00" y2="393.30" stroke="#111" stroke-width="1.0"/>
<path d="M490.20,394.88L492.90,399.58L487.50,399.58ZM488.00,397.18L490.70,401.88L485.30,401.88ZM492.50,397.18L495.20,401.88L489.80,401.88ZM490.20,399.18L492.90,403.88L487.50,403.88ZM490.50,401.68L493.20,406.38L487.80,406.38ZM490.20,402.88L492.90,407.58L487.50,407.58Z" fill="#1e3f8c"/>
<line x1="485.60" y1="401.70" x2="494.80" y2="401.70" stroke="#111" stroke-width="1.0"/>
<path d="M479.20,385.60 L479.20,382.70 L491.90,382.70 L491.90,385.60" fill="none" stroke="#222" stroke-width="0.9"/>
<text x="485.90" y="384.91" font-size="8.2" text-anchor="middle" font-weight="normal" fill="#1a1a1a" stroke="#1a1a1a" stroke-width="0.1">***</text>
<text x="0.00" y="0.00" font-size="11.6" text-anchor="start" font-weight="bold" fill="#000" transform="translate(8.20,425.00) scale(0.92,1)">F</text>
<g fill="#b8062e"><circle cx="72.70" cy="423.10" r="2.4"/></g>
<text x="78.50" y="425.60" font-size="7.3" text-anchor="start" font-weight="normal" fill="#1a1a1a" stroke="#1a1a1a" stroke-width="0.1">WT</text>
<path d="M95.80,420.88L98.20,425.08L93.40,425.08Z" fill="#1e3f8c"/>
<text x="100.60" y="425.60" font-size="7.3" text-anchor="start" font-weight="normal" fill="#1a1a1a" stroke="#1a1a1a" stroke-width="0.1">Sirt-1<tspan dy="-2.77" font-size="4.53">-/-</tspan></text>
<line x1="35.50" y1="436.00" x2="35.50" y2="498.00" stroke="#111" stroke-width="1.0"/>
<line x1="32.30" y1="438.50" x2="35.50" y2="438.50" stroke="#111" stroke-width="0.9"/>
<text x="29.70" y="441.30" font-size="7.9" text-anchor="end" font-weight="normal" fill="#1a1a1a" stroke="#1a1a1a" stroke-width="0.1">3</text>
<line x1="32.30" y1="458.20" x2="35.50" y2="458.20" stroke="#111" stroke-width="0.9"/>
<text x="29.70" y="461.00" font-size="7.9" text-anchor="end" font-weight="normal" fill="#1a1a1a" stroke="#1a1a1a" stroke-width="0.1">2</text>
<line x1="32.30" y1="477.80" x2="35.50" y2="477.80" stroke="#111" stroke-width="0.9"/>
<text x="29.70" y="480.60" font-size="7.9" text-anchor="end" font-weight="normal" fill="#1a1a1a" stroke="#1a1a1a" stroke-width="0.1">1</text>
<line x1="32.30" y1="497.50" x2="35.50" y2="497.50" stroke="#111" stroke-width="0.9"/>
<text x="29.70" y="500.30" font-size="7.9" text-anchor="end" font-weight="normal" fill="#1a1a1a" stroke="#1a1a1a" stroke-width="0.1">0</text>
<line x1="35.50" y1="497.50" x2="93.30" y2="497.50" stroke="#111" stroke-width="1.1"/>
<line x1="49.60" y1="497.50" x2="49.60" y2="499.80" stroke="#111" stroke-width="0.8"/>
<line x1="76.00" y1="497.50" x2="76.00" y2="499.80" stroke="#111" stroke-width="0.8"/>
<text x="49.60" y="509.60" font-size="7.9" text-anchor="middle" font-weight="normal" fill="#1a1a1a" stroke="#1a1a1a" stroke-width="0.1">WT</text>
<text x="76.30" y="509.60" font-size="7.9" text-anchor="middle" font-weight="normal" fill="#1a1a1a" stroke="#1a1a1a" stroke-width="0.1">Sirt-1<tspan dy="-3.00" font-size="4.90">-/-</tspan></text>
<text x="0.00" y="0.00" font-size="8.4" text-anchor="middle" font-weight="normal" fill="#1a1a1a" stroke="#1a1a1a" stroke-width="0.1" transform="translate(16.90,464.40) rotate(-90)" textLength="68" lengthAdjust="spacingAndGlyphs"># total in liver (x10<tspan dy="-3.19" font-size="5.21">6</tspan><tspan dy="3.19">)</tspan></text>
<g fill="#b8062e"><circle cx="43.60" cy="450.90" r="2.3"/><circle cx="49.30" cy="453.20" r="2.3"/><circle cx="57.70" cy="453.10" r="2.3"/><circle cx="54.90" cy="457.10" r="2.3"/><circle cx="43.40" cy="460.70" r="2.3"/><circle cx="49.30" cy="463.30" r="2.3"/><circle cx="46.00" cy="471.80" r="2.3"/><circle cx="52.70" cy="470.10" r="2.3"/></g>
<line x1="41.00" y1="460.20" x2="57.90" y2="460.20" stroke="#111" stroke-width="1.0"/>
<line x1="49.30" y1="457.40" x2="49.30" y2="463.20" stroke="#111" stroke-width="0.9"/>
<line x1="46.30" y1="457.40" x2="52.30" y2="457.40" stroke="#111" stroke-width="0.9"/>
<line x1="46.30" y1="463.20" x2="52.30" y2="463.20" stroke="#111" stroke-width="0.9"/>
<path d="M70.50,470.28L73.20,474.98L67.80,474.98ZM81.60,468.08L84.30,472.78L78.90,472.78ZM79.00,472.78L81.70,477.48L76.30,477.48ZM73.90,473.98L76.60,478.68L71.20,478.68ZM76.50,473.98L79.20,478.68L73.80,478.68ZM70.50,477.68L73.20,482.38L67.80,482.38ZM75.90,482.68L78.60,487.38L73.20,487.38ZM81.60,482.18L84.30,486.88L78.90,486.88Z" fill="#1e3f8c"/>
<line x1="67.10" y1="477.60" x2="85.00" y2="477.60" stroke="#111" stroke-width="1.0"/>
<line x1="76.00" y1="476.20" x2="76.00" y2="479.00" stroke="#111" stroke-width="0.9"/>
<line x1="73.50" y1="476.20" x2="78.50" y2="476.20" stroke="#111" stroke-width="0.9"/>
<line x1="73.50" y1="479.00" x2="78.50" y2="479.00" stroke="#111" stroke-width="0.9"/>
<path d="M51.00,446.20 L51.00,442.70 L75.40,442.70 L75.40,446.20" fill="none" stroke="#222" stroke-width="0.9"/>
<text x="63.50" y="443.31" font-size="8.2" text-anchor="middle" font-weight="normal" fill="#1a1a1a" stroke="#1a1a1a" stroke-width="0.1">***</text>
<line x1="126.50" y1="435.00" x2="126.50" y2="495.90" stroke="#111" stroke-width="1.0"/>
<line x1="123.30" y1="436.90" x2="126.50" y2="436.90" stroke="#111" stroke-width="0.9"/>
<text x="120.70" y="439.70" font-size="7.9" text-anchor="end" font-weight="normal" fill="#1a1a1a" stroke="#1a1a1a" stroke-width="0.1">8</text>
<line x1="123.30" y1="451.70" x2="126.50" y2="451.70" stroke="#111" stroke-width="0.9"/>
<text x="120.70" y="454.50" font-size="7.9" text-anchor="end" font-weight="normal" fill="#1a1a1a" stroke="#1a1a1a" stroke-width="0.1">6</text>
<line x1="123.30" y1="466.40" x2="126.50" y2="466.40" stroke="#111" stroke-width="0.9"/>
<text x="120.70" y="469.20" font-size="7.9" text-anchor="end" font-weight="normal" fill="#1a1a1a" stroke="#1a1a1a" stroke-width="0.1">4</text>
<line x1="123.30" y1="481.10" x2="126.50" y2="481.10" stroke="#111" stroke-width="0.9"/>
<text x="120.70" y="483.90" font-size="7.9" text-anchor="end" font-weight="normal" fill="#1a1a1a" stroke="#1a1a1a" stroke-width="0.1">2</text>
<line x1="123.30" y1="495.40" x2="126.50" y2="495.40" stroke="#111" stroke-width="0.9"/>
<text x="120.70" y="498.20" font-size="7.9" text-anchor="end" font-weight="normal" fill="#1a1a1a" stroke="#1a1a1a" stroke-width="0.1">0</text>
<line x1="126.50" y1="495.40" x2="191.90" y2="495.40" stroke="#111" stroke-width="1.1"/>
<line x1="145.30" y1="495.40" x2="145.30" y2="497.70" stroke="#111" stroke-width="0.8"/>
<line x1="176.90" y1="495.40" x2="176.90" y2="497.70" stroke="#111" stroke-width="0.8"/>
<text x="145.30" y="508.30" font-size="8.2" text-anchor="middle" font-weight="normal" fill="#1a1a1a" stroke="#1a1a1a" stroke-width="0.1">CD4</text>
<text x="176.90" y="508.30" font-size="8.2" text-anchor="middle" font-weight="normal" fill="#1a1a1a" stroke="#1a1a1a" stroke-width="0.1">CD8</text>
<text x="0.00" y="0.00" font-size="9" text-anchor="middle" font-weight="normal" fill="#1a1a1a" stroke="#1a1a1a" stroke-width="0.1" transform="translate(108.40,468.00) rotate(-90)" textLength="54" lengthAdjust="spacingAndGlyphs"># in liver (x10<tspan dy="-3.42" font-size="5.58">5</tspan><tspan dy="3.42">)</tspan></text>
<g fill="#b8062e"><circle cx="139.50" cy="481.00" r="2.3"/><circle cx="137.00" cy="483.50" r="2.3"/><circle cx="142.00" cy="483.50" r="2.3"/><circle cx="138.00" cy="486.00" r="2.3"/><circle cx="141.00" cy="486.00" r="2.3"/><circle cx="139.50" cy="488.00" r="2.3"/><circle cx="137.50" cy="484.50" r="2.3"/><circle cx="141.50" cy="485.00" r="2.3"/></g>
<line x1="133.40" y1="485.40" x2="145.60" y2="485.40" stroke="#111" stroke-width="1.0"/>
<path d="M147.50,490.98L150.20,495.68L144.80,495.68ZM150.00,490.68L152.70,495.38L147.30,495.38ZM152.50,490.98L155.20,495.68L149.80,495.68ZM155.00,490.68L157.70,495.38L152.30,495.38ZM156.80,490.98L159.50,495.68L154.10,495.68ZM149.00,491.68L151.70,496.38L146.30,496.38ZM154.00,491.68L156.70,496.38L151.30,496.38Z" fill="#1e3f8c"/>
<line x1="146.00" y1="493.50" x2="158.00" y2="493.50" stroke="#111" stroke-width="1.0"/>
<path d="M139.50,476.40 L139.50,472.80 L151.60,472.80 L151.60,476.40" fill="none" stroke="#222" stroke-width="0.9"/>
<text x="145.60" y="473.31" font-size="8.2" text-anchor="middle" font-weight="normal" fill="#1a1a1a" stroke="#1a1a1a" stroke-width="0.1">****</text>
<g fill="#b8062e"><circle cx="170.80" cy="444.20" r="2.3"/><circle cx="173.70" cy="447.90" r="2.3"/><circle cx="166.90" cy="451.30" r="2.3"/><circle cx="172.70" cy="460.40" r="2.3"/><circle cx="166.90" cy="460.40" r="2.3"/><circle cx="168.80" cy="463.50" r="2.3"/><circle cx="173.70" cy="466.20" r="2.3"/><circle cx="170.80" cy="469.60" r="2.3"/></g>
<line x1="164.60" y1="457.70" x2="176.90" y2="457.70" stroke="#111" stroke-width="1.0"/>
<line x1="170.80" y1="454.80" x2="170.80" y2="460.40" stroke="#111" stroke-width="0.9"/>
<line x1="168.30" y1="454.80" x2="173.30" y2="454.80" stroke="#111" stroke-width="0.9"/>
<line x1="168.30" y1="460.40" x2="173.30" y2="460.40" stroke="#111" stroke-width="0.9"/>
<path d="M183.30,452.98L186.00,457.68L180.60,457.68ZM178.80,461.38L181.50,466.08L176.10,466.08ZM187.10,461.38L189.80,466.08L184.40,466.08ZM178.80,469.68L181.50,474.38L176.10,474.38ZM185.80,469.68L188.50,474.38L183.10,474.38ZM180.40,470.18L183.10,474.88L177.70,474.88ZM187.00,470.18L189.70,474.88L184.30,474.88ZM183.00,464.68L185.70,469.38L180.30,469.38Z" fill="#1e3f8c"/>
<line x1="177.50" y1="468.10" x2="189.60" y2="468.10" stroke="#111" stroke-width="1.0"/>
<line x1="183.50" y1="466.00" x2="183.50" y2="470.30" stroke="#111" stroke-width="0.9"/>
<line x1="181.50" y1="466.00" x2="185.50" y2="466.00" stroke="#111" stroke-width="0.9"/>
<line x1="181.50" y1="470.30" x2="185.50" y2="470.30" stroke="#111" stroke-width="0.9"/>
<path d="M170.40,440.50 L170.40,437.50 L182.30,437.50 L182.30,440.50" fill="none" stroke="#222" stroke-width="0.9"/>
<text x="176.40" y="438.01" font-size="8.2" text-anchor="middle" font-weight="normal" fill="#1a1a1a" stroke="#1a1a1a" stroke-width="0.1">*</text>
<rect x="211.4" y="416.4" width="2.4" height="8.2" fill="#000"/>
<text x="0.00" y="0.00" font-size="8.2" text-anchor="middle" font-weight="normal" fill="#1a1a1a" stroke="#1a1a1a" stroke-width="0.1" transform="translate(216.30,464.60) rotate(-90)">pg/ml</text>
<line x1="240.60" y1="434.60" x2="240.60" y2="461.80" stroke="#111" stroke-width="1.1"/>
<line x1="237.60" y1="437.50" x2="240.60" y2="437.50" stroke="#111" stroke-width="0.9"/>
<text x="236.70" y="440.50" font-size="8.5" text-anchor="end" font-weight="normal" fill="#1a1a1a" stroke="#1a1a1a" stroke-width="0.1">200</text>
<line x1="237.60" y1="445.00" x2="240.60" y2="445.00" stroke="#111" stroke-width="0.9"/>
<text x="236.70" y="448.00" font-size="8.5" text-anchor="end" font-weight="normal" fill="#1a1a1a" stroke="#1a1a1a" stroke-width="0.1">150</text>
<line x1="237.60" y1="452.80" x2="240.60" y2="452.80" stroke="#111" stroke-width="0.9"/>
<text x="236.70" y="455.80" font-size="8.5" text-anchor="end" font-weight="normal" fill="#1a1a1a" stroke="#1a1a1a" stroke-width="0.1">100</text>
<line x1="237.60" y1="460.50" x2="240.60" y2="460.50" stroke="#111" stroke-width="0.9"/>
<text x="236.70" y="463.50" font-size="8.5" text-anchor="end" font-weight="normal" fill="#1a1a1a" stroke="#1a1a1a" stroke-width="0.1">50</text>
<line x1="240.30" y1="461.80" x2="242.80" y2="463.00" stroke="#111" stroke-width="0.9"/>
<line x1="240.60" y1="469.20" x2="240.60" y2="495.40" stroke="#111" stroke-width="1.1"/>
<line x1="237.40" y1="469.20" x2="243.00" y2="469.20" stroke="#111" stroke-width="1.0"/>
<text x="236.70" y="472.20" font-size="8.5" text-anchor="end" font-weight="normal" fill="#1a1a1a" stroke="#1a1a1a" stroke-width="0.1">30</text>
<line x1="237.60" y1="477.80" x2="240.60" y2="477.80" stroke="#111" stroke-width="0.9"/>
<text x="236.70" y="480.80" font-size="8.5" text-anchor="end" font-weight="normal" fill="#1a1a1a" stroke="#1a1a1a" stroke-width="0.1">20</text>
<line x1="237.60" y1="486.40" x2="240.60" y2="486.40" stroke="#111" stroke-width="0.9"/>
<text x="236.70" y="489.40" font-size="8.5" text-anchor="end" font-weight="normal" fill="#1a1a1a" stroke="#1a1a1a" stroke-width="0.1">10</text>
<line x1="237.60" y1="495.00" x2="240.60" y2="495.00" stroke="#111" stroke-width="0.9"/>
<text x="236.70" y="498.00" font-size="8.5" text-anchor="end" font-weight="normal" fill="#1a1a1a" stroke="#1a1a1a" stroke-width="0.1">0</text>
<rect x="243.0" y="437.4" width="9.1" height="4.4" fill="#66b543"/>
<text x="255.10" y="442.40" font-size="7.6" text-anchor="start" font-weight="normal" fill="#1a1a1a" stroke="#1a1a1a" stroke-width="0.1">BM</text>
<rect x="243.0" y="445.0" width="9.1" height="4.4" fill="#b8062e"/>
<text x="255.10" y="450.00" font-size="7.6" text-anchor="start" font-weight="normal" fill="#1a1a1a" stroke="#1a1a1a" stroke-width="0.1">WT</text>
<rect x="243.0" y="452.6" width="9.1" height="4.4" fill="#27488e"/>
<text x="255.10" y="457.60" font-size="7.6" text-anchor="start" font-weight="normal" fill="#1a1a1a" stroke="#1a1a1a" stroke-width="0.1">Sirt1<tspan dy="-2.89" font-size="4.71">-/-</tspan></text>
<rect x="243.00" y="493.60" width="4.90" height="1.60" fill="#66b543"/>
<rect x="247.90" y="492.80" width="4.90" height="2.40" fill="#b8062e"/>
<rect x="252.80" y="492.20" width="4.90" height="3.00" fill="#27488e"/>
<rect x="262.67" y="491.90" width="4.90" height="3.30" fill="#66b543"/>
<rect x="267.57" y="492.80" width="4.90" height="2.40" fill="#b8062e"/>
<rect x="272.47" y="490.50" width="4.90" height="4.70" fill="#27488e"/>
<line x1="274.92" y1="490.50" x2="274.92" y2="489.00" stroke="#111" stroke-width="0.8"/>
<line x1="273.62" y1="489.00" x2="276.22" y2="489.00" stroke="#111" stroke-width="0.8"/>
<rect x="282.34" y="491.90" width="4.90" height="3.30" fill="#66b543"/>
<rect x="287.24" y="485.80" width="4.90" height="9.40" fill="#b8062e"/>
<line x1="289.69" y1="485.80" x2="289.69" y2="483.30" stroke="#111" stroke-width="0.8"/>
<line x1="288.39" y1="483.30" x2="290.99" y2="483.30" stroke="#111" stroke-width="0.8"/>
<rect x="292.14" y="485.30" width="4.90" height="9.90" fill="#27488e"/>
<line x1="294.59" y1="485.30" x2="294.59" y2="482.40" stroke="#111" stroke-width="0.8"/>
<line x1="293.29" y1="482.40" x2="295.89" y2="482.40" stroke="#111" stroke-width="0.8"/>
<rect x="302.01" y="491.90" width="4.90" height="3.30" fill="#66b543"/>
<rect x="306.91" y="475.50" width="4.90" height="19.70" fill="#b8062e"/>
<line x1="309.36" y1="475.50" x2="309.36" y2="469.40" stroke="#111" stroke-width="0.8"/>
<line x1="308.06" y1="469.40" x2="310.66" y2="469.40" stroke="#111" stroke-width="0.8"/>
<rect x="311.81" y="478.90" width="4.90" height="16.30" fill="#27488e"/>
<line x1="314.26" y1="478.90" x2="314.26" y2="476.30" stroke="#111" stroke-width="0.8"/>
<line x1="312.96" y1="476.30" x2="315.56" y2="476.30" stroke="#111" stroke-width="0.8"/>
<rect x="321.68" y="485.70" width="4.90" height="9.50" fill="#66b543"/>
<rect x="341.35" y="492.30" width="4.90" height="2.90" fill="#66b543"/>
<rect x="346.25" y="493.00" width="4.90" height="2.20" fill="#b8062e"/>
<rect x="351.15" y="491.00" width="4.90" height="4.20" fill="#27488e"/>
<line x1="353.60" y1="491.00" x2="353.60" y2="490.00" stroke="#111" stroke-width="0.8"/>
<line x1="352.30" y1="490.00" x2="354.90" y2="490.00" stroke="#111" stroke-width="0.8"/>
<rect x="361.02" y="482.80" width="4.90" height="12.40" fill="#66b543"/>
<rect x="365.92" y="486.60" width="4.90" height="8.60" fill="#b8062e"/>
<line x1="368.37" y1="486.60" x2="368.37" y2="484.40" stroke="#111" stroke-width="0.8"/>
<line x1="367.07" y1="484.40" x2="369.67" y2="484.40" stroke="#111" stroke-width="0.8"/>
<rect x="370.82" y="475.70" width="4.90" height="19.50" fill="#27488e"/>
<line x1="373.27" y1="475.70" x2="373.27" y2="470.50" stroke="#111" stroke-width="0.8"/>
<line x1="371.97" y1="470.50" x2="374.57" y2="470.50" stroke="#111" stroke-width="0.8"/>
<rect x="326.58" y="469.30" width="4.90" height="25.90" fill="#b8062e"/>
<rect x="331.48" y="469.30" width="4.90" height="25.90" fill="#27488e"/>
<rect x="326.58" y="443.9" width="4.9" height="18.50" fill="#b8062e"/>
<rect x="331.48" y="457.7" width="4.9" height="4.70" fill="#27488e"/>
<line x1="329.03" y1="443.90" x2="329.03" y2="439.40" stroke="#111" stroke-width="0.8"/>
<line x1="327.73" y1="439.40" x2="330.33" y2="439.40" stroke="#111" stroke-width="0.8"/>
<line x1="333.93" y1="457.70" x2="333.93" y2="455.50" stroke="#111" stroke-width="0.8"/>
<line x1="332.63" y1="455.50" x2="335.23" y2="455.50" stroke="#111" stroke-width="0.8"/>
<line x1="240.60" y1="495.30" x2="378.70" y2="495.30" stroke="#111" stroke-width="1.1"/>
<line x1="250.30" y1="495.30" x2="250.30" y2="497.30" stroke="#111" stroke-width="0.8"/>
<line x1="269.97" y1="495.30" x2="269.97" y2="497.30" stroke="#111" stroke-width="0.8"/>
<line x1="289.64" y1="495.30" x2="289.64" y2="497.30" stroke="#111" stroke-width="0.8"/>
<line x1="309.31" y1="495.30" x2="309.31" y2="497.30" stroke="#111" stroke-width="0.8"/>
<line x1="328.98" y1="495.30" x2="328.98" y2="497.30" stroke="#111" stroke-width="0.8"/>
<line x1="348.65" y1="495.30" x2="348.65" y2="497.30" stroke="#111" stroke-width="0.8"/>
<line x1="368.32" y1="495.30" x2="368.32" y2="497.30" stroke="#111" stroke-width="0.8"/>
<path d="M270.00,488.10 L270.00,486.50 L274.60,486.50 L274.60,488.10" fill="none" stroke="#222" stroke-width="0.9"/>
<text x="272.30" y="487.12" font-size="7.5" text-anchor="middle" font-weight="normal" fill="#1a1a1a" stroke="#1a1a1a" stroke-width="0.1">**</text>
<path d="M328.10,438.00 L328.10,435.60 L333.50,435.60 L333.50,438.00" fill="none" stroke="#222" stroke-width="0.9"/>
<text x="331.10" y="435.93" font-size="7.5" text-anchor="middle" font-weight="normal" fill="#1a1a1a" stroke="#1a1a1a" stroke-width="0.1">*</text>
<path d="M368.20,469.20 L368.20,467.00 L373.60,467.00 L373.60,469.20" fill="none" stroke="#222" stroke-width="0.9"/>
<text x="371.00" y="467.43" font-size="7.5" text-anchor="middle" font-weight="normal" fill="#1a1a1a" stroke="#1a1a1a" stroke-width="0.1">*</text>
<text x="0.00" y="0.00" font-size="7.8" text-anchor="end" font-weight="normal" fill="#1a1a1a" stroke="#1a1a1a" stroke-width="0.1" transform="translate(252.50,505.00) rotate(-45)">IL-2</text>
<text x="0.00" y="0.00" font-size="7.8" text-anchor="end" font-weight="normal" fill="#1a1a1a" stroke="#1a1a1a" stroke-width="0.1" transform="translate(272.17,505.00) rotate(-45)">IL-4</text>
<text x="0.00" y="0.00" font-size="7.8" text-anchor="end" font-weight="normal" fill="#1a1a1a" stroke="#1a1a1a" stroke-width="0.1" transform="translate(291.84,505.00) rotate(-45)">IL-6</text>
<text x="0.00" y="0.00" font-size="7.8" text-anchor="end" font-weight="normal" fill="#1a1a1a" stroke="#1a1a1a" stroke-width="0.1" transform="translate(311.51,505.00) rotate(-45)">IFN-γ</text>
<text x="0.00" y="0.00" font-size="7.8" text-anchor="end" font-weight="normal" fill="#1a1a1a" stroke="#1a1a1a" stroke-width="0.1" transform="translate(331.18,505.00) rotate(-45)">TNF-α</text>
<text x="0.00" y="0.00" font-size="7.8" text-anchor="end" font-weight="normal" fill="#1a1a1a" stroke="#1a1a1a" stroke-width="0.1" transform="translate(350.85,505.00) rotate(-45)">IL-17a</text>
<text x="0.00" y="0.00" font-size="7.8" text-anchor="end" font-weight="normal" fill="#1a1a1a" stroke="#1a1a1a" stroke-width="0.1" transform="translate(370.52,505.00) rotate(-45)">IL-10</text>
<rect x="0.7" y="0.6" width="518.6" height="526.8" fill="none" stroke="#000" stroke-width="1.4"/>
</svg></body></html>
